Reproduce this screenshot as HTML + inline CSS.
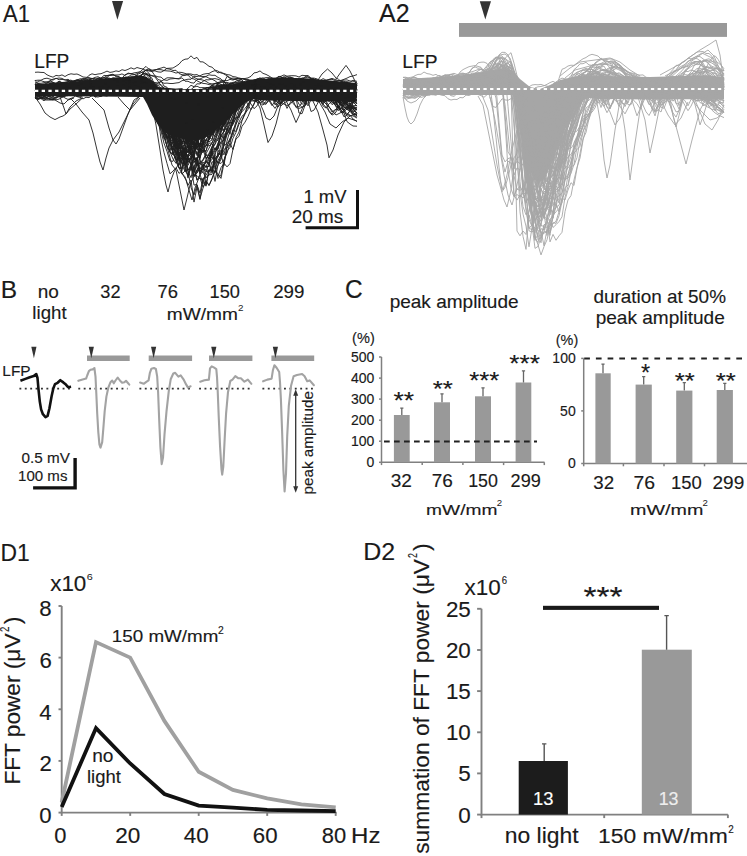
<!DOCTYPE html>
<html><head><meta charset="utf-8"><style>
html,body{margin:0;padding:0;background:#fff;}
svg{display:block;}
text{font-family:"Liberation Sans", sans-serif;}
</style></head><body>
<svg width="747" height="856" viewBox="0 0 747 856" font-family='"Liberation Sans", sans-serif'><rect width="747" height="856" fill="#fff"/><text x="3.09" y="21.60" font-size="24.78" fill="#1a1a1a" stroke="#1a1a1a" stroke-width="0.15" textLength="26.98" lengthAdjust="spacingAndGlyphs" >A1</text><polygon points="112,1.1 123.1,1.1 117.4,19.8" fill="#333"/><text x="34.27" y="67.80" font-size="19.71" fill="#1a1a1a" stroke="#1a1a1a" stroke-width="0.15" textLength="35.06" lengthAdjust="spacingAndGlyphs" >LFP</text><polygon points="35,84 60,83 90,80.5 120,77.5 140,75.5 146,76.5 152,81 158,87 180,89 210,89 230,85.5 250,80 280,77.5 310,78.5 330,80.5 356,83 356,101 330,101.5 300,101 265,100.5 253,99 246,102 238,109 230,117 222,125 214,132 205,138 196,141 186,140 176,137 166,133 158,125 152,115 147,104 143,97 100,96.5 35,96" fill="#1e1e1e"/><g fill="none" stroke="#1e1e1e" stroke-width="0.9" stroke-linejoin="round"><polyline points="35,88.3 38,90.1 41,90.0 44,90.1 47,89.4 50,89.5 53,87.9 56,87.9 59,88.5 62,86.0 65,87.0 68,83.7 71,84.0 74,81.7 77,82.4 80,82.2 83,82.0 86,84.7 89,85.4 92,84.3 95,83.6 98,83.0 101,82.3 104,83.7 107,82.4 110,82.7 113,82.1 116,82.4 119,82.6 122,85.0 125,84.6 128,85.6 131,84.9 134,84.0 137,83.8 140,83.3 143,83.5 146,83.3 149,87.3 152,93.2 155,101.8 158,110.5 161,123.3 164,131.9 167,135.0 170,147.9 173,150.6 176,141.6 179,160.6 182,161.3 185,165.7 188,158.8 191,162.7 194,160.7 197,165.8 200,156.3 203,150.3 206,151.7 209,137.6 212,135.6 215,125.0 218,131.1 221,122.7 224,115.6 227,108.4 230,102.6 233,97.4 236,93.8 239,91.9 242,91.2 245,90.5 248,90.0 251,88.9 254,88.1 257,89.4 260,89.1 263,87.7 266,87.5 269,90.1 272,95.0 275,100.5 278,99.0 281,94.7 284,87.1 287,88.7 290,88.6 293,88.8 296,89.3 299,88.8 302,86.4 305,85.0 308,85.5 311,83.0 314,82.9 317,83.9 320,83.3 323,85.6 326,91.3 329,94.7 332,97.3 335,99.7 338,101.6 341,103.8 344,107.3 347,109.4 350,111.3 353,114.8 357,117.2"/><polyline points="35,86.0 38,86.9 41,87.7 44,86.2 47,86.8 50,87.0 53,86.6 56,87.8 59,87.4 62,88.1 65,89.3 68,88.3 71,88.0 74,85.1 77,83.1 80,81.4 83,83.5 86,82.4 89,83.4 92,83.5 95,83.2 98,83.0 101,84.6 104,83.4 107,84.0 110,84.7 113,83.8 116,83.7 119,82.5 122,80.3 125,79.6 128,80.6 131,82.6 134,80.7 137,84.1 140,83.6 143,85.7 146,85.3 149,89.3 152,92.2 155,93.1 158,100.5 161,103.0 164,104.2 167,106.6 170,105.5 173,105.0 176,104.1 179,103.1 182,100.0 185,98.8 188,99.2 191,98.3 194,96.0 197,94.2 200,90.5 203,88.7 206,88.1 209,87.5 212,88.0 215,89.3 218,89.0 221,90.0 224,89.1 227,89.3 230,89.1 233,89.2 236,88.9 239,88.7 242,87.2 245,86.3 248,85.2 251,84.2 254,85.4 257,84.7 260,85.0 263,84.7 266,82.6 269,83.3 272,82.9 275,83.3 278,86.2 281,89.4 284,92.3 287,91.0 290,88.0 293,85.7 296,83.3 299,88.6 302,93.4 305,92.0 308,89.3 311,87.7 314,84.5 317,86.4 320,86.4 323,86.3 326,86.9 329,89.9 332,93.8 335,98.2 338,95.8 341,90.9 344,85.7 347,87.3 350,87.9 353,87.7 357,86.7"/><polyline points="35,91.6 38,93.8 41,92.9 44,92.6 47,92.3 50,92.9 53,91.7 56,89.7 59,89.1 62,87.9 65,88.5 68,87.5 71,87.4 74,87.3 77,87.5 80,84.4 83,84.2 86,83.6 89,84.5 92,83.4 95,84.8 98,86.6 101,87.3 104,87.8 107,87.3 110,84.3 113,82.5 116,81.5 119,81.2 122,80.7 125,79.7 128,80.8 131,81.9 134,82.1 137,82.1 140,81.7 143,82.8 146,81.5 149,82.9 152,87.8 155,96.1 158,104.5 161,113.6 164,119.0 167,129.2 170,124.3 173,138.4 176,138.3 179,149.0 182,146.1 185,145.2 188,152.7 191,147.2 194,145.8 197,141.4 200,149.3 203,150.7 206,150.6 209,143.1 212,143.1 215,135.1 218,128.8 221,128.1 224,125.9 227,117.4 230,112.8 233,108.4 236,104.9 239,97.4 242,94.8 245,90.9 248,88.4 251,86.5 254,87.5 257,87.9 260,88.5 263,88.2 266,86.8 269,86.7 272,86.3 275,84.0 278,83.3 281,82.9 284,80.8 287,81.6 290,81.7 293,84.6 296,87.1 299,88.3 302,87.8 305,88.7 308,88.2 311,87.9 314,87.5 317,84.6 320,85.7 323,84.8 326,86.7 329,90.8 332,95.2 335,97.4 338,96.2 341,94.0 344,92.3 347,92.9 350,93.2 353,96.2 357,96.3"/><polyline points="35,89.8 38,88.9 41,89.6 44,90.2 47,90.4 50,88.9 53,87.5 56,84.9 59,84.1 62,85.6 65,83.7 68,86.6 71,88.8 74,90.0 77,90.5 80,91.0 83,90.3 86,89.3 89,86.7 92,86.6 95,84.8 98,84.2 101,84.0 104,83.6 107,83.5 110,82.7 113,84.2 116,85.5 119,85.9 122,86.5 125,85.0 128,84.2 131,84.2 134,82.1 137,83.1 140,82.7 143,83.1 146,82.5 149,85.1 152,88.3 155,94.2 158,103.7 161,113.5 164,120.7 167,139.0 170,152.6 173,153.2 176,157.9 179,152.9 182,164.6 185,171.6 188,159.1 191,158.9 194,152.2 197,142.8 200,147.5 203,130.9 206,131.7 209,129.1 212,125.1 215,119.1 218,114.3 221,107.8 224,102.8 227,99.4 230,95.1 233,92.3 236,91.1 239,90.5 242,88.6 245,88.9 248,88.3 251,87.2 254,87.9 257,86.9 260,88.6 263,91.6 266,92.1 269,89.0 272,86.6 275,84.7 278,84.8 281,84.1 284,86.1 287,86.5 290,86.7 293,88.5 296,90.5 299,90.6 302,91.3 305,94.1 308,91.9 311,90.4 314,90.1 317,88.8 320,86.9 323,87.3 326,86.8 329,87.2 332,91.1 335,95.1 338,97.2 341,100.5 344,97.8 347,97.3 350,92.2 353,90.8 357,88.9"/><polyline points="35,89.8 38,91.4 41,92.1 44,93.9 47,95.8 50,97.3 53,97.7 56,97.4 59,94.8 62,96.0 65,94.0 68,92.7 71,91.3 74,91.2 77,92.0 80,92.4 83,91.0 86,92.3 89,92.9 92,89.0 95,91.3 98,91.9 101,93.2 104,95.1 107,93.2 110,93.4 113,93.6 116,92.0 119,91.6 122,91.8 125,90.7 128,90.9 131,87.6 134,87.4 137,84.7 140,85.6 143,85.3 146,84.1 149,88.5 152,90.8 155,94.7 158,99.9 161,100.6 164,104.2 167,109.8 170,113.3 173,119.1 176,116.5 179,120.9 182,121.0 185,119.9 188,122.7 191,118.2 194,117.9 197,117.8 200,116.3 203,114.4 206,108.5 209,103.7 212,99.1 215,98.7 218,97.0 221,96.5 224,97.2 227,97.8 230,95.7 233,94.4 236,94.1 239,92.0 242,92.4 245,93.1 248,93.1 251,92.5 254,93.5 257,91.9 260,90.8 263,91.8 266,91.9 269,91.2 272,91.8 275,91.3 278,90.2 281,92.3 284,93.6 287,94.8 290,94.4 293,94.5 296,93.0 299,91.1 302,88.6 305,89.2 308,88.1 311,89.6 314,91.6 317,91.1 320,91.9 323,93.9 326,94.1 329,95.9 332,97.8 335,99.4 338,97.7 341,98.6 344,98.3 347,98.3 350,98.4 353,98.5 357,99.5"/><polyline points="35,98.3 38,98.5 41,98.2 44,98.3 47,99.3 50,98.6 53,99.9 56,97.5 59,96.6 62,94.1 65,93.3 68,95.2 71,94.6 74,95.2 77,96.5 80,97.2 83,98.9 86,97.3 89,97.6 92,95.5 95,95.8 98,95.5 101,95.8 104,93.5 107,93.9 110,93.1 113,91.4 116,91.4 119,91.1 122,90.0 125,92.6 128,93.2 131,92.8 134,92.0 137,93.8 140,92.9 143,93.7 146,94.0 149,94.3 152,98.9 155,104.4 158,108.8 161,117.2 164,126.6 167,132.4 170,141.7 173,143.1 176,161.5 179,168.1 182,168.9 185,162.1 188,171.0 191,187.6 194,195.0 197,185.0 200,193.1 203,178.0 206,177.8 209,174.9 212,174.4 215,157.0 218,163.3 221,157.9 224,141.0 227,133.9 230,130.1 233,121.8 236,110.7 239,109.6 242,103.4 245,102.0 248,99.1 251,99.3 254,100.3 257,100.8 260,99.0 263,98.0 266,96.2 269,96.2 272,95.0 275,94.0 278,93.0 281,92.5 284,91.5 287,91.7 290,92.8 293,92.9 296,98.1 299,104.2 302,107.3 305,105.7 308,102.6 311,97.9 314,94.8 317,92.0 320,91.6 323,92.5 326,93.2 329,94.0 332,97.3 335,98.6 338,99.2 341,99.8 344,99.6 347,97.7 350,98.1 353,100.4 357,101.0"/><polyline points="35,97.9 38,98.6 41,98.7 44,100.8 47,98.1 50,99.4 53,98.8 56,97.2 59,96.7 62,96.2 65,95.3 68,95.3 71,95.6 74,94.0 77,96.6 80,96.9 83,95.6 86,95.1 89,93.6 92,94.7 95,94.6 98,94.5 101,95.0 104,92.8 107,92.4 110,90.8 113,92.3 116,92.5 119,92.0 122,91.2 125,91.9 128,89.0 131,89.1 134,90.3 137,92.9 140,94.3 143,93.3 146,92.3 149,93.9 152,99.3 155,106.7 158,118.5 161,129.8 164,137.3 167,146.1 170,151.8 173,159.1 176,163.3 179,152.4 182,153.2 185,147.5 188,160.7 191,157.3 194,152.2 197,141.6 200,144.8 203,142.2 206,140.2 209,134.9 212,132.6 215,124.7 218,122.3 221,116.3 224,109.6 227,105.0 230,101.0 233,97.1 236,93.1 239,92.5 242,92.2 245,93.8 248,94.0 251,94.5 254,95.1 257,94.3 260,92.9 263,91.9 266,91.8 269,91.1 272,91.5 275,89.4 278,90.2 281,93.1 284,96.9 287,100.4 290,100.1 293,97.8 296,93.3 299,92.2 302,96.9 305,98.8 308,94.8 311,93.8 314,91.5 317,94.0 320,94.0 323,95.0 326,97.7 329,99.4 332,101.8 335,103.4 338,105.8 341,110.0 344,113.2 347,121.6 350,124.0 353,126.0 357,126.2"/><polyline points="35,87.0 38,89.3 41,90.6 44,90.9 47,93.5 50,93.3 53,94.0 56,94.1 59,93.0 62,93.8 65,91.6 68,89.7 71,90.2 74,87.7 77,86.3 80,83.3 83,85.5 86,85.1 89,85.3 92,85.8 95,86.7 98,85.4 101,85.5 104,83.7 107,83.7 110,84.9 113,85.2 116,84.7 119,86.6 122,86.4 125,86.1 128,87.0 131,86.5 134,85.8 137,86.2 140,88.2 143,86.0 146,87.4 149,89.8 152,93.0 155,94.9 158,100.0 161,101.5 164,104.0 167,106.8 170,109.7 173,110.8 176,118.4 179,117.0 182,121.9 185,126.7 188,130.8 191,126.4 194,138.5 197,137.5 200,134.6 203,132.1 206,129.9 209,129.9 212,134.8 215,130.5 218,125.1 221,126.4 224,131.7 227,124.1 230,122.1 233,122.9 236,117.9 239,115.7 242,111.8 245,108.4 248,104.6 251,100.3 254,97.8 257,93.3 260,89.8 263,90.4 266,87.7 269,87.8 272,89.1 275,93.0 278,94.9 281,98.7 284,91.7 287,85.2 290,86.3 293,87.6 296,87.9 299,88.1 302,87.9 305,87.1 308,88.4 311,89.7 314,92.7 317,95.6 320,98.7 323,99.8 326,97.1 329,93.2 332,92.2 335,91.5 338,96.7 341,105.6 344,105.7 347,100.6 350,94.9 353,90.2 357,91.2"/><polyline points="35,88.9 38,89.3 41,88.3 44,88.1 47,88.3 50,87.2 53,86.9 56,83.8 59,83.5 62,82.3 65,83.5 68,83.7 71,84.7 74,84.6 77,85.5 80,85.7 83,86.8 86,87.0 89,87.1 92,87.1 95,86.6 98,84.7 101,83.7 104,82.1 107,80.2 110,80.6 113,82.6 116,82.0 119,81.2 122,81.6 125,80.1 128,80.4 131,81.1 134,81.2 137,84.1 140,82.9 143,82.9 146,81.9 149,83.4 152,83.9 155,88.7 158,95.1 161,102.6 164,107.8 167,115.1 170,123.2 173,126.5 176,126.4 179,129.3 182,133.9 185,129.8 188,128.4 191,124.1 194,121.6 197,116.1 200,112.7 203,105.0 206,101.0 209,94.8 212,90.5 215,88.9 218,89.5 221,86.7 224,84.3 227,85.1 230,84.7 233,83.9 236,83.8 239,84.5 242,86.5 245,87.1 248,88.4 251,89.7 254,90.5 257,88.4 260,88.7 263,87.3 266,86.0 269,86.5 272,89.0 275,91.2 278,89.8 281,88.8 284,88.5 287,84.3 290,82.3 293,83.1 296,83.0 299,82.8 302,81.5 305,83.3 308,82.3 311,83.1 314,84.7 317,86.3 320,88.3 323,89.4 326,89.5 329,90.4 332,89.0 335,88.9 338,86.6 341,86.0 344,87.6 347,86.2 350,86.9 353,87.1 357,86.8"/><polyline points="35,91.1 38,90.8 41,90.1 44,90.4 47,89.1 50,88.0 53,87.3 56,88.9 59,88.8 62,90.0 65,92.4 68,93.0 71,92.1 74,89.9 77,89.5 80,88.9 83,87.5 86,87.9 89,86.1 92,88.0 95,87.7 98,89.3 101,87.9 104,87.9 107,85.7 110,84.6 113,84.9 116,85.8 119,86.4 122,88.3 125,87.9 128,85.9 131,83.5 134,83.0 137,82.4 140,84.7 143,85.3 146,86.8 149,88.6 152,89.2 155,91.5 158,92.7 161,94.2 164,94.6 167,95.1 170,96.5 173,99.1 176,99.3 179,98.1 182,98.6 185,99.2 188,100.3 191,105.4 194,104.3 197,107.1 200,110.4 203,108.9 206,109.1 209,109.9 212,110.7 215,107.7 218,105.2 221,107.7 224,107.2 227,104.2 230,100.9 233,102.5 236,98.9 239,97.4 242,94.9 245,92.1 248,89.9 251,87.9 254,87.3 257,85.4 260,84.5 263,85.1 266,85.3 269,85.2 272,93.6 275,102.2 278,107.1 281,103.0 284,95.5 287,89.2 290,86.7 293,83.9 296,85.7 299,87.3 302,86.2 305,86.3 308,85.4 311,85.9 314,83.2 317,84.1 320,85.5 323,87.0 326,88.9 329,92.3 332,93.9 335,96.0 338,98.6 341,101.6 344,104.6 347,107.7 350,109.6 353,112.6 357,115.7"/><polyline points="35,90.7 38,89.3 41,89.9 44,89.7 47,88.9 50,89.6 53,90.1 56,91.4 59,88.5 62,88.5 65,85.6 68,85.0 71,85.1 74,83.9 77,84.9 80,84.8 83,87.3 86,86.4 89,86.3 92,84.6 95,84.8 98,86.9 101,86.9 104,87.4 107,87.8 110,86.0 113,86.4 116,85.0 119,85.0 122,84.6 125,85.8 128,85.3 131,86.2 134,85.3 137,83.9 140,83.0 143,83.4 146,81.8 149,86.3 152,88.2 155,91.3 158,96.3 161,98.9 164,103.8 167,106.3 170,111.9 173,113.4 176,115.7 179,117.2 182,121.1 185,124.1 188,124.1 191,121.4 194,127.1 197,123.3 200,111.8 203,116.0 206,112.1 209,110.5 212,102.9 215,98.0 218,95.7 221,94.2 224,93.2 227,92.5 230,92.0 233,91.0 236,89.9 239,88.9 242,88.1 245,89.0 248,88.2 251,90.8 254,90.7 257,95.2 260,96.6 263,98.5 266,99.7 269,95.3 272,92.3 275,87.6 278,88.4 281,89.3 284,89.9 287,92.6 290,89.4 293,85.8 296,86.6 299,86.4 302,86.9 305,87.5 308,88.6 311,87.9 314,88.4 317,90.7 320,90.1 323,92.1 326,91.7 329,91.8 332,91.9 335,90.9 338,92.2 341,92.4 344,93.1 347,92.8 350,92.0 353,90.4 357,90.3"/><polyline points="35,85.7 38,83.6 41,84.5 44,86.2 47,88.7 50,89.5 53,90.7 56,91.1 59,92.7 62,92.0 65,90.5 68,88.5 71,87.6 74,87.3 77,85.5 80,86.2 83,86.1 86,86.8 89,87.9 92,88.9 95,88.8 98,89.6 101,91.2 104,87.8 107,87.0 110,87.0 113,85.5 116,84.8 119,84.4 122,86.0 125,86.4 128,86.9 131,86.5 134,87.5 137,85.6 140,85.5 143,84.1 146,83.8 149,85.7 152,88.3 155,89.1 158,93.1 161,92.4 164,92.9 167,93.7 170,94.0 173,95.3 176,96.0 179,95.5 182,96.1 185,98.3 188,98.1 191,97.8 194,97.4 197,95.8 200,96.2 203,95.2 206,96.1 209,93.3 212,93.9 215,93.3 218,92.7 221,91.1 224,89.9 227,89.1 230,87.5 233,87.2 236,86.8 239,87.7 242,88.8 245,89.8 248,90.3 251,90.2 254,89.4 257,89.1 260,87.6 263,87.2 266,86.7 269,85.7 272,84.5 275,84.8 278,84.1 281,83.6 284,84.1 287,87.2 290,85.5 293,85.9 296,86.0 299,84.9 302,85.9 305,88.0 308,88.2 311,88.4 314,88.3 317,88.1 320,88.8 323,88.2 326,88.6 329,89.3 332,90.1 335,90.1 338,90.8 341,89.1 344,91.3 347,91.5 350,89.9 353,87.8 357,86.9"/><polyline points="35,93.8 38,93.6 41,92.4 44,91.7 47,91.0 50,89.6 53,89.6 56,90.0 59,90.0 62,89.5 65,89.1 68,90.5 71,90.8 74,91.8 77,90.6 80,90.1 83,90.2 86,88.8 89,88.8 92,89.2 95,87.5 98,85.2 101,83.9 104,83.1 107,85.5 110,86.9 113,88.5 116,88.6 119,89.0 122,88.3 125,87.7 128,87.6 131,85.9 134,84.1 137,84.6 140,84.4 143,85.2 146,86.2 149,87.7 152,88.5 155,92.8 158,96.2 161,103.3 164,106.7 167,114.9 170,125.5 173,130.7 176,141.1 179,155.4 182,174.1 185,170.9 188,174.8 191,162.6 194,172.8 197,163.4 200,174.5 203,165.3 206,162.8 209,157.4 212,149.0 215,139.1 218,140.6 221,127.8 224,121.7 227,116.0 230,109.9 233,102.0 236,96.7 239,93.0 242,89.6 245,91.2 248,91.3 251,91.5 254,91.4 257,90.7 260,90.1 263,89.0 266,89.1 269,89.1 272,91.4 275,98.5 278,103.2 281,103.6 284,100.2 287,94.6 290,89.4 293,88.8 296,88.5 299,86.3 302,86.5 305,85.2 308,86.0 311,88.6 314,94.2 317,97.6 320,100.5 323,101.6 326,99.1 329,98.7 332,97.9 335,97.8 338,98.1 341,100.7 344,102.8 347,104.4 350,107.5 353,108.7 357,113.6"/><polyline points="35,86.8 38,87.6 41,86.3 44,86.7 47,87.2 50,89.6 53,88.2 56,88.7 59,88.7 62,90.6 65,88.1 68,87.4 71,86.5 74,84.1 77,85.4 80,85.2 83,84.6 86,85.3 89,85.4 92,85.7 95,87.3 98,87.4 101,86.8 104,86.5 107,86.3 110,87.5 113,86.8 116,88.0 119,88.4 122,86.7 125,83.5 128,81.9 131,82.2 134,82.5 137,80.8 140,82.2 143,83.2 146,83.8 149,83.5 152,85.7 155,91.0 158,104.4 161,113.4 164,129.2 167,132.6 170,131.7 173,142.3 176,142.4 179,141.5 182,136.9 185,131.4 188,137.5 191,126.2 194,127.3 197,119.5 200,113.9 203,116.3 206,104.2 209,103.1 212,102.4 215,95.7 218,93.0 221,91.4 224,89.2 227,88.9 230,88.9 233,89.0 236,90.0 239,90.7 242,89.4 245,88.8 248,87.7 251,87.4 254,88.3 257,87.8 260,87.0 263,87.2 266,87.7 269,88.4 272,86.6 275,86.5 278,84.5 281,84.7 284,85.6 287,85.8 290,84.4 293,84.3 296,84.8 299,83.3 302,82.6 305,82.8 308,84.9 311,89.7 314,93.7 317,96.3 320,94.1 323,92.0 326,89.3 329,88.0 332,90.3 335,89.6 338,93.2 341,95.3 344,97.4 347,99.9 350,101.1 353,102.6 357,103.0"/><polyline points="35,95.3 38,95.6 41,94.2 44,95.0 47,94.7 50,94.6 53,94.1 56,93.4 59,92.7 62,91.4 65,89.9 68,88.2 71,87.2 74,88.0 77,89.4 80,89.3 83,91.2 86,91.5 89,91.9 92,91.9 95,91.9 98,91.1 101,91.7 104,90.6 107,88.1 110,88.2 113,87.1 116,89.3 119,88.4 122,89.1 125,89.9 128,89.6 131,89.6 134,90.3 137,88.8 140,88.5 143,88.1 146,85.7 149,88.4 152,89.2 155,94.0 158,99.4 161,106.7 164,116.2 167,123.9 170,133.9 173,137.9 176,153.9 179,161.5 182,157.9 185,164.8 188,176.5 191,167.2 194,176.5 197,172.9 200,168.2 203,170.0 206,160.1 209,164.4 212,151.4 215,169.4 218,160.5 221,155.0 224,145.2 227,143.6 230,139.0 233,129.9 236,124.0 239,112.5 242,108.5 245,100.8 248,96.4 251,93.4 254,91.6 257,90.0 260,90.5 263,92.1 266,92.1 269,90.2 272,89.2 275,90.1 278,88.4 281,90.2 284,91.1 287,90.3 290,90.9 293,90.7 296,89.6 299,89.3 302,89.9 305,91.6 308,91.5 311,92.3 314,92.5 317,91.8 320,93.8 323,90.8 326,91.9 329,92.6 332,90.8 335,99.2 338,107.8 341,107.9 344,109.6 347,107.6 350,107.6 353,102.8 357,99.1"/><polyline points="35,90.4 38,92.0 41,91.4 44,91.1 47,91.2 50,90.5 53,90.5 56,89.2 59,91.5 62,91.2 65,91.4 68,91.1 71,91.2 74,89.5 77,87.3 80,86.8 83,87.6 86,87.5 89,88.9 92,86.4 95,85.7 98,86.6 101,87.1 104,87.9 107,89.1 110,90.8 113,89.4 116,89.6 119,89.0 122,90.3 125,90.4 128,88.9 131,89.0 134,87.6 137,88.2 140,87.7 143,87.3 146,88.4 149,90.1 152,92.0 155,97.1 158,101.8 161,105.4 164,104.5 167,110.2 170,114.1 173,118.0 176,121.0 179,129.8 182,124.8 185,123.0 188,123.0 191,120.5 194,115.9 197,111.1 200,107.2 203,104.1 206,100.3 209,99.0 212,96.5 215,96.3 218,96.5 221,94.0 224,93.7 227,92.7 230,95.2 233,94.4 236,93.4 239,92.6 242,91.5 245,91.2 248,92.1 251,91.3 254,92.5 257,90.5 260,88.9 263,89.0 266,87.0 269,86.7 272,85.7 275,84.6 278,86.4 281,85.0 284,87.0 287,85.8 290,86.3 293,91.4 296,95.9 299,99.1 302,101.2 305,101.2 308,93.6 311,88.4 314,86.4 317,86.4 320,86.7 323,85.1 326,86.1 329,87.2 332,87.0 335,88.6 338,90.3 341,91.0 344,94.2 347,97.4 350,104.1 353,109.0 357,107.0"/><polyline points="35,86.5 38,88.3 41,86.4 44,85.6 47,87.1 50,86.0 53,85.2 56,86.5 59,86.3 62,86.7 65,85.9 68,83.8 71,83.9 74,81.9 77,80.3 80,80.1 83,81.0 86,80.2 89,80.7 92,81.2 95,80.5 98,78.7 101,79.4 104,79.1 107,78.6 110,79.1 113,78.4 116,79.4 119,80.7 122,79.8 125,81.3 128,80.9 131,79.6 134,80.0 137,79.2 140,78.3 143,80.4 146,80.7 149,83.3 152,85.6 155,90.1 158,95.6 161,98.7 164,105.3 167,110.3 170,112.2 173,120.2 176,120.7 179,127.0 182,132.4 185,134.9 188,135.0 191,132.0 194,137.4 197,127.8 200,118.8 203,115.5 206,112.5 209,110.1 212,106.1 215,102.7 218,101.8 221,95.9 224,90.3 227,86.9 230,83.3 233,82.3 236,82.1 239,82.7 242,82.5 245,83.6 248,82.9 251,82.0 254,81.4 257,82.9 260,80.2 263,82.1 266,83.6 269,83.2 272,85.0 275,85.0 278,84.1 281,84.7 284,83.2 287,82.2 290,83.5 293,84.7 296,85.9 299,88.0 302,92.3 305,88.7 308,87.4 311,85.1 314,83.8 317,82.1 320,83.6 323,86.6 326,90.5 329,95.4 332,98.6 335,96.5 338,91.9 341,88.9 344,87.6 347,90.6 350,92.4 353,89.5 357,83.7"/><polyline points="35,96.1 38,94.4 41,94.4 44,94.0 47,93.3 50,95.0 53,95.3 56,95.8 59,94.0 62,93.4 65,92.1 68,92.1 71,91.8 74,92.2 77,92.1 80,91.4 83,91.3 86,91.2 89,90.8 92,90.8 95,86.7 98,86.9 101,86.0 104,86.0 107,84.8 110,86.6 113,87.7 116,87.4 119,86.8 122,88.0 125,87.8 128,89.8 131,89.2 134,90.9 137,88.7 140,86.2 143,84.7 146,83.7 149,86.7 152,90.1 155,91.9 158,95.7 161,95.7 164,96.6 167,99.0 170,97.0 173,99.3 176,99.3 179,98.1 182,99.0 185,99.9 188,103.8 191,104.4 194,106.3 197,110.0 200,108.9 203,111.3 206,109.7 209,111.7 212,109.9 215,111.4 218,108.1 221,107.7 224,107.7 227,107.2 230,104.1 233,103.8 236,99.6 239,98.3 242,97.6 245,95.1 248,95.0 251,93.3 254,94.6 257,93.0 260,92.5 263,92.9 266,93.6 269,94.3 272,94.4 275,94.9 278,94.4 281,94.3 284,94.3 287,93.5 290,93.2 293,92.6 296,91.5 299,90.5 302,97.1 305,104.8 308,98.2 311,89.5 314,90.0 317,91.8 320,92.0 323,92.0 326,94.1 329,94.0 332,92.9 335,94.8 338,95.8 341,96.8 344,101.6 347,100.5 350,101.7 353,98.6 357,96.5"/><polyline points="35,84.2 38,85.5 41,87.1 44,87.9 47,87.0 50,86.7 53,86.5 56,86.0 59,84.9 62,83.3 65,83.5 68,83.7 71,82.7 74,82.5 77,84.1 80,84.5 83,85.2 86,84.7 89,84.2 92,84.3 95,83.5 98,82.9 101,82.6 104,82.2 107,83.5 110,82.0 113,83.2 116,83.4 119,84.9 122,84.1 125,83.2 128,83.2 131,82.4 134,81.7 137,83.5 140,83.2 143,84.1 146,83.6 149,84.4 152,89.9 155,98.3 158,109.4 161,120.1 164,133.9 167,139.9 170,152.1 173,154.8 176,146.3 179,159.7 182,154.4 185,151.3 188,155.9 191,146.3 194,147.8 197,144.3 200,135.9 203,122.9 206,116.9 209,110.8 212,102.3 215,96.4 218,91.0 221,87.5 224,87.5 227,86.0 230,87.0 233,87.5 236,86.7 239,86.1 242,85.8 245,84.4 248,83.9 251,84.7 254,85.8 257,86.4 260,87.0 263,86.7 266,85.7 269,84.5 272,82.1 275,83.3 278,83.4 281,82.7 284,82.5 287,82.6 290,83.4 293,81.4 296,83.2 299,84.9 302,86.8 305,89.6 308,90.9 311,89.7 314,90.5 317,91.4 320,90.7 323,90.9 326,89.0 329,87.2 332,85.7 335,85.9 338,84.2 341,84.1 344,86.6 347,86.5 350,87.4 353,86.8 357,88.2"/><polyline points="35,88.0 38,88.5 41,87.7 44,87.9 47,88.1 50,88.4 53,88.5 56,91.2 59,90.6 62,92.2 65,92.2 68,93.4 71,91.4 74,94.6 77,93.0 80,91.6 83,91.7 86,92.0 89,89.6 92,87.4 95,87.3 98,88.5 101,86.8 104,87.9 107,88.0 110,89.4 113,87.3 116,88.5 119,87.6 122,87.9 125,89.1 128,87.9 131,84.8 134,85.1 137,84.0 140,83.1 143,84.2 146,85.2 149,86.9 152,88.8 155,92.5 158,96.6 161,100.9 164,106.6 167,110.6 170,122.4 173,126.1 176,133.9 179,142.5 182,147.5 185,162.8 188,156.1 191,165.2 194,158.0 197,163.1 200,163.1 203,162.8 206,161.5 209,164.8 212,171.1 215,160.0 218,156.2 221,150.1 224,154.9 227,141.1 230,130.5 233,122.8 236,112.3 239,106.7 242,100.4 245,93.3 248,89.7 251,90.1 254,89.4 257,89.4 260,88.7 263,89.0 266,89.6 269,88.7 272,87.7 275,87.3 278,89.7 281,90.6 284,94.7 287,97.7 290,93.5 293,89.4 296,86.3 299,86.9 302,87.6 305,91.8 308,100.8 311,111.5 314,110.1 317,104.6 320,98.4 323,93.4 326,88.3 329,89.5 332,88.1 335,89.0 338,89.2 341,87.2 344,88.7 347,89.1 350,90.1 353,91.6 357,91.7"/><polyline points="35,93.6 38,93.7 41,92.3 44,92.2 47,91.1 50,89.3 53,89.5 56,89.8 59,88.8 62,90.2 65,91.1 68,91.4 71,91.6 74,88.8 77,89.2 80,88.4 83,87.1 86,86.1 89,83.0 92,83.0 95,82.9 98,84.8 101,84.0 104,85.8 107,85.1 110,84.1 113,81.6 116,82.2 119,83.3 122,82.5 125,84.2 128,85.1 131,86.7 134,87.3 137,87.8 140,87.9 143,88.3 146,88.2 149,90.2 152,90.5 155,92.7 158,92.7 161,95.4 164,97.1 167,100.8 170,102.0 173,103.9 176,105.7 179,105.1 182,105.7 185,106.0 188,107.6 191,105.8 194,106.4 197,113.4 200,116.2 203,113.4 206,114.0 209,116.5 212,114.6 215,112.1 218,108.3 221,103.7 224,103.2 227,99.8 230,98.2 233,96.7 236,94.7 239,93.5 242,92.0 245,92.6 248,91.8 251,89.9 254,90.9 257,88.6 260,89.0 263,88.1 266,88.3 269,89.8 272,88.3 275,87.9 278,87.5 281,86.9 284,87.3 287,86.9 290,89.5 293,93.9 296,90.9 299,90.1 302,89.2 305,86.5 308,84.9 311,84.3 314,83.7 317,83.3 320,83.8 323,85.0 326,86.2 329,87.4 332,89.4 335,92.6 338,92.7 341,94.5 344,94.7 347,93.6 350,93.0 353,93.2 357,91.3"/><polyline points="35,95.7 38,95.0 41,95.0 44,94.1 47,92.5 50,91.6 53,89.5 56,89.2 59,87.2 62,87.8 65,87.4 68,87.5 71,86.7 74,88.9 77,86.5 80,86.9 83,86.8 86,89.0 89,88.3 92,89.5 95,87.8 98,87.7 101,86.3 104,86.7 107,85.9 110,85.6 113,86.5 116,85.6 119,85.4 122,86.4 125,84.5 128,86.5 131,85.9 134,85.3 137,85.4 140,84.9 143,83.5 146,83.6 149,85.8 152,89.0 155,95.0 158,103.7 161,109.5 164,116.0 167,123.8 170,133.2 173,141.5 176,141.1 179,137.9 182,141.4 185,141.8 188,142.6 191,136.2 194,129.8 197,134.0 200,135.3 203,131.3 206,121.7 209,124.3 212,116.2 215,120.5 218,112.7 221,107.0 224,105.0 227,99.5 230,97.4 233,94.5 236,91.3 239,88.6 242,86.2 245,87.8 248,88.2 251,88.4 254,89.3 257,90.5 260,89.2 263,89.0 266,86.9 269,86.3 272,87.1 275,86.5 278,87.6 281,87.8 284,85.6 287,86.1 290,84.8 293,86.3 296,87.7 299,89.4 302,91.3 305,91.8 308,92.9 311,92.8 314,94.0 317,93.0 320,90.6 323,91.7 326,91.5 329,91.5 332,92.9 335,94.6 338,95.6 341,97.9 344,100.3 347,103.6 350,109.4 353,114.0 357,115.2"/><polyline points="35,94.0 38,93.8 41,95.3 44,95.9 47,95.4 50,95.3 53,95.5 56,94.9 59,92.9 62,95.3 65,94.7 68,95.0 71,95.1 74,93.6 77,93.2 80,93.0 83,92.6 86,92.4 89,92.9 92,94.0 95,96.7 98,97.0 101,96.1 104,94.0 107,93.0 110,90.2 113,90.8 116,89.0 119,88.1 122,88.2 125,90.2 128,89.4 131,87.6 134,88.4 137,87.7 140,87.6 143,89.4 146,91.2 149,91.9 152,94.3 155,104.9 158,116.9 161,138.8 164,152.5 167,163.4 170,173.8 173,171.1 176,167.7 179,173.4 182,170.9 185,152.2 188,157.1 191,148.9 194,144.3 197,134.0 200,128.4 203,118.2 206,109.2 209,102.2 212,98.9 215,95.7 218,94.4 221,96.3 224,96.8 227,97.0 230,96.1 233,98.7 236,98.1 239,96.8 242,93.8 245,92.6 248,93.4 251,92.5 254,91.6 257,90.3 260,89.8 263,88.6 266,88.6 269,88.7 272,90.3 275,90.5 278,92.0 281,92.1 284,91.1 287,92.8 290,90.8 293,92.0 296,92.6 299,92.9 302,90.9 305,93.7 308,94.1 311,94.6 314,92.4 317,93.6 320,94.4 323,94.4 326,95.9 329,94.2 332,95.2 335,94.5 338,93.0 341,94.0 344,98.1 347,103.7 350,110.0 353,114.5 357,114.5"/><polyline points="35,96.6 38,97.7 41,97.6 44,97.7 47,97.6 50,99.4 53,98.7 56,99.8 59,99.1 62,97.4 65,95.8 68,94.2 71,94.5 74,91.5 77,90.5 80,90.8 83,90.7 86,92.3 89,92.2 92,93.5 95,97.2 98,95.2 101,95.2 104,95.6 107,96.1 110,94.3 113,94.5 116,93.1 119,92.7 122,92.0 125,92.0 128,92.7 131,92.7 134,95.6 137,94.3 140,94.8 143,95.9 146,93.8 149,95.3 152,95.8 155,98.8 158,102.0 161,105.0 164,109.3 167,112.4 170,116.4 173,120.8 176,130.1 179,139.2 182,145.3 185,155.0 188,151.3 191,145.1 194,158.6 197,159.2 200,151.2 203,150.1 206,157.8 209,157.9 212,146.6 215,144.7 218,137.6 221,130.8 224,124.1 227,120.5 230,113.2 233,107.0 236,99.0 239,97.1 242,94.6 245,93.9 248,94.8 251,94.6 254,94.2 257,94.8 260,96.1 263,95.7 266,96.4 269,97.6 272,97.2 275,98.6 278,99.8 281,102.3 284,104.1 287,105.5 290,104.5 293,100.6 296,100.6 299,99.3 302,98.7 305,99.1 308,100.2 311,99.6 314,100.0 317,100.6 320,100.7 323,104.0 326,107.3 329,110.7 332,114.0 335,110.3 338,107.0 341,101.1 344,97.9 347,96.8 350,95.8 353,96.4 357,96.2"/><polyline points="35,86.8 38,86.6 41,87.9 44,88.1 47,88.9 50,88.7 53,88.9 56,89.7 59,90.2 62,89.6 65,88.6 68,87.4 71,86.5 74,85.8 77,86.0 80,85.8 83,86.0 86,86.4 89,87.1 92,88.6 95,89.2 98,88.7 101,89.2 104,87.7 107,86.2 110,84.4 113,83.2 116,82.2 119,81.3 122,83.0 125,83.4 128,81.8 131,83.1 134,83.1 137,83.7 140,82.5 143,82.3 146,82.7 149,84.0 152,90.1 155,96.3 158,100.3 161,104.0 164,107.9 167,113.1 170,119.0 173,119.4 176,119.2 179,121.2 182,126.0 185,131.5 188,120.6 191,112.4 194,113.5 197,106.3 200,100.2 203,93.6 206,87.8 209,87.3 212,85.9 215,83.7 218,83.4 221,84.4 224,85.7 227,87.3 230,88.5 233,89.6 236,91.8 239,91.9 242,90.0 245,88.9 248,90.2 251,90.9 254,91.4 257,88.3 260,83.8 263,83.6 266,84.0 269,83.8 272,84.9 275,85.5 278,82.5 281,83.1 284,83.8 287,81.5 290,83.1 293,83.3 296,85.6 299,85.1 302,86.2 305,87.1 308,87.0 311,86.3 314,85.8 317,86.6 320,87.8 323,94.6 326,99.6 329,101.2 332,97.4 335,90.3 338,83.8 341,83.3 344,83.6 347,83.4 350,85.9 353,84.9 357,85.9"/><polyline points="35,85.4 38,86.0 41,85.6 44,86.8 47,89.2 50,90.5 53,89.4 56,89.5 59,89.5 62,88.2 65,87.8 68,86.5 71,89.3 74,89.0 77,88.3 80,86.9 83,85.0 86,84.1 89,83.0 92,83.2 95,82.0 98,84.8 101,85.2 104,87.3 107,86.4 110,87.1 113,86.7 116,84.1 119,81.5 122,81.1 125,81.2 128,79.5 131,79.0 134,80.1 137,78.9 140,79.5 143,78.4 146,78.5 149,82.1 152,88.3 155,94.3 158,103.8 161,108.7 164,113.4 167,125.9 170,126.5 173,139.9 176,140.8 179,145.9 182,146.5 185,152.6 188,148.8 191,147.2 194,148.6 197,142.4 200,143.5 203,139.1 206,134.6 209,129.2 212,126.2 215,127.6 218,118.5 221,113.9 224,109.4 227,106.5 230,102.5 233,98.9 236,96.1 239,94.2 242,93.6 245,98.0 248,105.3 251,109.7 254,104.5 257,96.6 260,88.8 263,82.2 266,81.9 269,81.3 272,83.6 275,81.2 278,81.4 281,81.6 284,79.9 287,80.7 290,81.4 293,80.7 296,79.7 299,79.3 302,80.2 305,80.1 308,81.2 311,85.8 314,89.6 317,96.2 320,99.8 323,95.0 326,91.2 329,86.9 332,86.3 335,86.0 338,86.8 341,87.7 344,89.7 347,90.2 350,90.0 353,88.7 357,87.0"/><polyline points="35,93.9 38,94.4 41,93.7 44,93.5 47,93.9 50,92.3 53,91.2 56,92.3 59,92.3 62,91.0 65,90.6 68,89.3 71,89.3 74,90.0 77,90.1 80,90.3 83,90.6 86,90.1 89,91.6 92,91.9 95,92.6 98,93.0 101,91.7 104,91.5 107,89.7 110,91.0 113,90.5 116,90.7 119,89.9 122,89.2 125,89.6 128,88.1 131,89.1 134,89.3 137,87.6 140,86.8 143,87.2 146,86.5 149,88.0 152,89.0 155,89.3 158,91.8 161,94.6 164,97.6 167,101.9 170,107.8 173,114.9 176,119.0 179,126.8 182,130.9 185,137.2 188,135.6 191,140.8 194,148.2 197,139.6 200,146.8 203,144.4 206,139.8 209,139.8 212,132.6 215,132.9 218,127.0 221,123.5 224,125.3 227,117.9 230,110.3 233,111.0 236,105.5 239,96.1 242,96.7 245,96.1 248,93.2 251,91.3 254,92.3 257,91.4 260,90.2 263,91.2 266,93.3 269,99.2 272,104.2 275,108.4 278,103.8 281,98.1 284,94.6 287,89.5 290,90.0 293,91.6 296,91.2 299,91.6 302,91.0 305,90.1 308,89.9 311,87.9 314,88.4 317,89.4 320,88.7 323,89.6 326,92.6 329,94.8 332,96.0 335,98.5 338,102.0 341,104.2 344,105.7 347,108.8 350,110.6 353,112.2 357,116.2"/><polyline points="35,93.2 38,93.1 41,92.6 44,94.5 47,94.7 50,94.9 53,96.9 56,94.1 59,95.5 62,96.3 65,95.7 68,95.7 71,93.9 74,94.2 77,95.4 80,94.6 83,95.4 86,93.5 89,92.5 92,92.0 95,90.9 98,90.8 101,89.9 104,90.6 107,90.9 110,91.9 113,90.9 116,90.1 119,89.9 122,88.0 125,86.2 128,86.7 131,86.8 134,89.9 137,87.7 140,89.7 143,87.5 146,88.2 149,90.5 152,95.3 155,101.3 158,107.3 161,109.0 164,115.8 167,119.0 170,124.6 173,126.9 176,133.5 179,134.1 182,136.0 185,137.6 188,146.3 191,146.5 194,155.4 197,161.6 200,144.1 203,146.6 206,154.6 209,159.0 212,151.6 215,148.5 218,146.7 221,142.2 224,140.2 227,132.5 230,121.6 233,115.3 236,110.7 239,103.2 242,99.8 245,95.6 248,95.4 251,96.0 254,95.4 257,92.9 260,92.6 263,91.0 266,91.4 269,91.7 272,88.7 275,88.3 278,88.0 281,88.4 284,89.0 287,90.2 290,92.2 293,91.6 296,92.3 299,93.1 302,95.8 305,96.6 308,94.9 311,94.7 314,95.2 317,94.7 320,93.7 323,92.8 326,93.3 329,93.7 332,93.9 335,96.4 338,95.4 341,95.1 344,95.7 347,95.3 350,96.8 353,98.3 357,97.3"/><polyline points="35,91.4 38,90.9 41,91.3 44,92.1 47,91.7 50,91.4 53,89.6 56,88.1 59,87.0 62,88.7 65,87.8 68,87.7 71,87.5 74,86.3 77,87.2 80,85.7 83,87.2 86,86.5 89,88.0 92,86.5 95,86.0 98,86.3 101,86.8 104,85.6 107,85.8 110,85.4 113,87.1 116,85.2 119,83.2 122,84.4 125,85.2 128,82.4 131,85.8 134,84.1 137,86.2 140,86.3 143,87.4 146,86.7 149,88.4 152,92.8 155,102.8 158,109.3 161,115.6 164,120.0 167,117.5 170,117.9 173,121.2 176,117.8 179,113.2 182,112.8 185,108.5 188,103.7 191,99.4 194,96.6 197,96.7 200,95.8 203,92.9 206,91.5 209,89.4 212,89.7 215,89.5 218,91.2 221,92.6 224,94.2 227,95.9 230,92.5 233,91.6 236,89.1 239,88.8 242,88.4 245,86.3 248,84.1 251,86.3 254,86.3 257,84.7 260,85.9 263,86.3 266,84.8 269,87.6 272,87.8 275,90.8 278,93.1 281,96.0 284,95.8 287,91.2 290,85.6 293,86.4 296,85.8 299,84.3 302,86.6 305,84.6 308,83.3 311,83.2 314,81.8 317,84.4 320,84.4 323,87.7 326,91.2 329,92.7 332,92.1 335,94.4 338,99.7 341,103.4 344,112.7 347,114.6 350,110.6 353,103.3 357,89.6"/><polyline points="35,87.1 38,85.7 41,86.6 44,85.8 47,86.5 50,88.9 53,89.9 56,91.3 59,91.9 62,90.3 65,90.3 68,86.8 71,86.1 74,83.3 77,83.9 80,84.1 83,85.4 86,87.4 89,86.5 92,88.3 95,87.1 98,87.2 101,86.8 104,86.2 107,86.5 110,86.3 113,87.8 116,86.5 119,86.5 122,84.6 125,86.9 128,85.9 131,88.1 134,86.9 137,86.7 140,84.6 143,84.1 146,83.2 149,85.6 152,86.6 155,88.3 158,90.3 161,88.6 164,92.0 167,90.8 170,97.0 173,100.3 176,106.0 179,113.8 182,109.7 185,113.2 188,122.5 191,116.6 194,119.7 197,120.0 200,123.7 203,123.9 206,118.2 209,114.4 212,114.2 215,112.5 218,112.0 221,106.5 224,105.3 227,100.1 230,97.2 233,96.1 236,90.8 239,88.6 242,88.6 245,88.6 248,89.7 251,90.5 254,91.5 257,93.0 260,95.5 263,96.1 266,93.1 269,91.6 272,90.2 275,86.9 278,86.0 281,84.8 284,83.9 287,82.4 290,83.8 293,90.0 296,98.3 299,97.3 302,94.6 305,88.4 308,87.4 311,87.5 314,87.0 317,88.1 320,88.8 323,88.4 326,87.1 329,85.7 332,85.9 335,84.7 338,86.2 341,87.8 344,90.1 347,91.8 350,89.9 353,90.9 357,90.5"/><polyline points="35,90.9 38,91.6 41,91.3 44,89.6 47,88.0 50,87.3 53,86.6 56,89.9 59,89.3 62,89.7 65,89.0 68,88.5 71,84.7 74,84.6 77,83.6 80,83.9 83,83.9 86,87.6 89,88.0 92,89.3 95,90.2 98,89.7 101,89.6 104,87.5 107,87.7 110,87.6 113,88.0 116,89.0 119,89.1 122,91.2 125,91.0 128,90.9 131,91.7 134,91.6 137,89.1 140,87.0 143,85.8 146,85.0 149,85.5 152,88.1 155,89.5 158,95.1 161,96.2 164,97.6 167,101.9 170,103.9 173,106.4 176,107.6 179,115.6 182,115.1 185,117.4 188,120.1 191,118.7 194,116.7 197,118.9 200,116.6 203,121.6 206,115.5 209,115.0 212,115.4 215,109.5 218,105.7 221,101.1 224,95.2 227,92.3 230,87.6 233,86.4 236,87.9 239,87.5 242,87.7 245,89.0 248,86.1 251,87.1 254,87.3 257,92.5 260,97.5 263,101.9 266,103.4 269,100.8 272,94.6 275,89.6 278,90.0 281,87.4 284,86.6 287,88.3 290,87.5 293,90.7 296,90.4 299,89.3 302,89.9 305,89.6 308,90.4 311,88.4 314,88.8 317,93.0 320,97.4 323,92.6 326,89.7 329,88.0 332,86.8 335,85.2 338,85.4 341,83.6 344,84.5 347,86.3 350,86.3 353,87.9 357,91.4"/><polyline points="35,92.1 38,90.2 41,89.5 44,89.5 47,88.6 50,88.7 53,90.3 56,89.4 59,91.0 62,91.0 65,90.5 68,89.5 71,89.4 74,87.3 77,87.4 80,86.7 83,86.6 86,86.1 89,86.0 92,86.0 95,86.6 98,86.5 101,86.7 104,84.8 107,83.3 110,82.7 113,81.9 116,82.1 119,80.9 122,80.8 125,80.2 128,80.4 131,79.5 134,79.7 137,81.2 140,80.4 143,82.1 146,81.5 149,83.7 152,89.9 155,93.4 158,98.9 161,103.2 164,107.5 167,109.9 170,110.0 173,110.1 176,114.7 179,114.8 182,113.7 185,115.6 188,111.3 191,108.6 194,107.6 197,103.3 200,103.0 203,98.1 206,95.0 209,92.1 212,89.9 215,89.7 218,88.7 221,87.8 224,87.2 227,87.8 230,88.2 233,88.7 236,89.7 239,89.4 242,88.9 245,91.3 248,90.7 251,90.2 254,90.1 257,87.3 260,87.2 263,85.9 266,86.2 269,83.9 272,84.5 275,86.2 278,86.5 281,87.1 284,90.1 287,88.8 290,90.1 293,88.9 296,88.1 299,86.3 302,85.2 305,87.4 308,88.3 311,91.9 314,93.3 317,92.9 320,90.7 323,89.6 326,91.7 329,95.1 332,95.7 335,99.9 338,98.0 341,93.7 344,91.2 347,89.3 350,88.0 353,87.7 357,89.0"/><polyline points="35,92.2 38,89.7 41,89.4 44,87.6 47,87.9 50,87.1 53,87.2 56,85.9 59,86.4 62,86.9 65,88.0 68,88.2 71,90.3 74,89.9 77,89.4 80,90.3 83,90.4 86,90.7 89,91.1 92,91.0 95,88.6 98,86.4 101,86.1 104,87.7 107,86.4 110,88.8 113,88.9 116,90.4 119,90.3 122,89.4 125,90.3 128,91.9 131,89.9 134,89.4 137,87.6 140,86.6 143,86.5 146,88.7 149,97.1 152,102.8 155,113.1 158,117.4 161,125.9 164,127.1 167,137.7 170,137.4 173,134.2 176,133.2 179,131.6 182,125.2 185,125.1 188,122.0 191,122.7 194,117.4 197,109.3 200,104.2 203,98.7 206,93.1 209,89.7 212,89.8 215,91.4 218,92.4 221,93.5 224,94.1 227,92.9 230,91.6 233,92.5 236,91.1 239,91.1 242,93.2 245,90.7 248,90.8 251,90.7 254,91.5 257,89.6 260,90.2 263,89.3 266,89.0 269,90.3 272,90.7 275,90.1 278,90.6 281,91.1 284,92.9 287,92.9 290,92.7 293,93.1 296,95.8 299,100.3 302,97.5 305,94.5 308,93.1 311,92.4 314,93.9 317,98.7 320,101.2 323,104.2 326,100.4 329,95.5 332,95.0 335,94.9 338,94.9 341,96.6 344,94.5 347,95.8 350,94.2 353,93.3 357,93.2"/><polyline points="35,90.3 38,86.8 41,85.8 44,86.4 47,86.6 50,85.7 53,85.6 56,86.1 59,86.5 62,84.6 65,83.6 68,81.7 71,80.9 74,80.9 77,80.5 80,81.1 83,81.0 86,82.3 89,84.2 92,84.6 95,84.8 98,85.9 101,85.6 104,84.7 107,83.5 110,83.5 113,83.6 116,80.7 119,80.4 122,82.1 125,83.7 128,85.0 131,86.1 134,88.2 137,88.8 140,89.9 143,90.1 146,89.5 149,91.5 152,90.6 155,92.6 158,95.8 161,101.7 164,102.2 167,108.8 170,112.3 173,115.5 176,121.3 179,120.2 182,117.4 185,121.3 188,120.4 191,123.6 194,111.7 197,109.0 200,103.1 203,100.5 206,96.5 209,93.2 212,89.2 215,87.3 218,89.2 221,88.5 224,89.7 227,88.9 230,88.8 233,88.0 236,86.3 239,86.1 242,85.5 245,84.2 248,83.8 251,82.9 254,85.3 257,87.3 260,87.6 263,85.8 266,85.1 269,83.7 272,81.4 275,81.9 278,80.8 281,81.4 284,81.9 287,83.6 290,82.1 293,82.4 296,84.0 299,83.8 302,84.8 305,83.4 308,85.3 311,84.7 314,83.8 317,85.6 320,84.9 323,85.5 326,85.3 329,85.4 332,85.9 335,84.9 338,86.1 341,85.8 344,84.3 347,83.2 350,83.8 353,83.5 357,85.0"/><polyline points="35,96.5 38,95.4 41,98.4 44,96.4 47,96.1 50,94.9 53,95.1 56,95.1 59,95.9 62,95.1 65,93.2 68,92.9 71,90.2 74,90.4 77,89.6 80,91.2 83,90.8 86,92.5 89,94.0 92,92.0 95,95.0 98,92.9 101,90.9 104,87.7 107,87.5 110,85.1 113,86.7 116,86.9 119,89.0 122,88.5 125,90.5 128,91.6 131,93.2 134,91.6 137,91.9 140,89.0 143,87.8 146,87.3 149,90.0 152,94.0 155,101.3 158,109.3 161,113.8 164,123.4 167,130.7 170,140.2 173,153.2 176,147.0 179,155.6 182,163.8 185,161.1 188,158.7 191,164.2 194,176.3 197,169.6 200,171.8 203,163.7 206,167.2 209,158.7 212,157.4 215,159.1 218,155.0 221,153.8 224,134.1 227,133.7 230,128.4 233,118.7 236,108.1 239,104.2 242,99.5 245,96.2 248,93.6 251,91.9 254,94.2 257,92.6 260,93.3 263,94.1 266,94.1 269,93.0 272,92.1 275,90.8 278,90.1 281,92.0 284,101.0 287,108.4 290,103.0 293,97.6 296,92.3 299,89.0 302,88.3 305,89.4 308,89.7 311,89.9 314,90.3 317,91.7 320,93.0 323,94.8 326,96.1 329,97.4 332,98.9 335,101.1 338,106.5 341,112.6 344,112.2 347,108.4 350,106.8 353,107.5 357,110.1"/><polyline points="35,89.9 38,91.6 41,90.2 44,88.8 47,86.9 50,86.4 53,86.0 56,87.2 59,86.2 62,88.2 65,88.2 68,89.0 71,87.1 74,86.3 77,85.9 80,85.0 83,84.8 86,84.1 89,84.4 92,85.2 95,85.8 98,85.3 101,85.9 104,87.0 107,88.1 110,87.4 113,87.8 116,87.2 119,86.1 122,84.0 125,82.8 128,80.6 131,80.7 134,81.3 137,80.8 140,83.5 143,84.5 146,83.5 149,85.9 152,85.4 155,88.3 158,93.7 161,97.9 164,102.7 167,104.6 170,115.1 173,120.4 176,130.0 179,127.1 182,133.2 185,136.4 188,148.1 191,133.7 194,143.5 197,155.6 200,146.1 203,134.3 206,135.4 209,137.5 212,131.4 215,125.9 218,120.3 221,120.0 224,113.4 227,109.8 230,105.4 233,100.2 236,98.3 239,92.1 242,89.6 245,85.8 248,83.8 251,82.3 254,84.2 257,84.9 260,84.7 263,84.2 266,88.8 269,93.2 272,95.2 275,101.2 278,102.2 281,99.1 284,95.4 287,89.1 290,85.9 293,84.6 296,84.6 299,86.4 302,85.9 305,85.0 308,85.1 311,85.1 314,86.3 317,84.2 320,84.2 323,82.8 326,82.3 329,85.1 332,85.2 335,85.7 338,86.4 341,86.3 344,85.9 347,85.0 350,87.6 353,88.3 357,90.1"/><polyline points="35,94.3 38,93.8 41,94.3 44,94.6 47,95.0 50,94.5 53,91.1 56,90.3 59,88.9 62,85.5 65,84.8 68,84.6 71,85.5 74,85.5 77,85.6 80,87.1 83,88.3 86,88.3 89,89.5 92,88.3 95,87.5 98,88.0 101,89.3 104,89.8 107,90.4 110,89.5 113,89.2 116,87.1 119,86.6 122,84.7 125,85.5 128,86.9 131,87.3 134,88.0 137,87.6 140,86.3 143,87.4 146,86.6 149,86.1 152,89.3 155,92.8 158,97.1 161,98.4 164,98.9 167,101.6 170,104.6 173,106.4 176,107.8 179,109.0 182,116.0 185,116.2 188,116.9 191,119.8 194,119.8 197,119.0 200,120.2 203,117.9 206,112.0 209,118.2 212,113.8 215,111.1 218,109.6 221,100.8 224,97.9 227,98.8 230,95.3 233,94.1 236,92.0 239,88.8 242,88.4 245,86.9 248,85.2 251,86.9 254,86.1 257,87.3 260,86.6 263,89.9 266,90.1 269,91.5 272,90.3 275,92.0 278,91.7 281,91.2 284,87.0 287,88.5 290,88.4 293,87.1 296,90.1 299,92.2 302,95.5 305,95.6 308,95.0 311,91.5 314,88.5 317,85.9 320,86.7 323,87.8 326,88.2 329,92.0 332,92.3 335,93.7 338,95.1 341,94.1 344,93.2 347,91.9 350,90.3 353,88.5 357,88.1"/><polyline points="35,98.0 38,98.7 41,97.8 44,99.1 47,97.2 50,96.3 53,95.4 56,94.9 59,96.1 62,96.1 65,98.0 68,99.4 71,98.4 74,97.1 77,94.4 80,92.3 83,91.1 86,90.0 89,89.5 92,91.4 95,91.3 98,91.3 101,90.2 104,90.9 107,89.1 110,90.1 113,92.2 116,92.1 119,94.2 122,94.9 125,93.9 128,95.7 131,95.2 134,93.3 137,91.0 140,92.0 143,91.1 146,92.3 149,95.0 152,96.6 155,98.3 158,101.8 161,102.7 164,102.5 167,103.3 170,107.7 173,107.8 176,109.6 179,110.1 182,111.6 185,114.7 188,113.1 191,116.4 194,118.0 197,121.6 200,123.9 203,124.9 206,123.1 209,119.2 212,120.6 215,120.1 218,119.2 221,118.1 224,113.4 227,108.1 230,105.5 233,102.2 236,100.9 239,97.7 242,97.1 245,98.5 248,99.2 251,101.0 254,100.8 257,101.7 260,98.3 263,98.6 266,98.4 269,98.5 272,98.2 275,96.3 278,95.4 281,95.1 284,94.9 287,93.9 290,94.3 293,96.8 296,97.1 299,97.2 302,95.0 305,94.7 308,94.6 311,94.8 314,94.7 317,95.3 320,96.3 323,95.6 326,95.4 329,95.5 332,95.4 335,95.9 338,95.7 341,95.5 344,96.4 347,95.3 350,94.8 353,96.6 357,96.3"/><polyline points="35,89.2 38,87.8 41,87.5 44,87.5 47,85.9 50,86.7 53,86.1 56,88.0 59,88.6 62,88.4 65,88.2 68,88.2 71,87.0 74,88.1 77,88.3 80,88.6 83,87.2 86,87.4 89,88.6 92,88.7 95,87.1 98,87.9 101,87.8 104,87.6 107,87.1 110,88.0 113,89.9 116,91.4 119,89.9 122,90.6 125,90.0 128,86.7 131,85.8 134,86.1 137,85.0 140,84.9 143,85.4 146,86.6 149,87.5 152,90.8 155,90.9 158,98.5 161,108.6 164,116.3 167,127.3 170,138.9 173,154.6 176,157.4 179,165.4 182,158.6 185,153.7 188,169.5 191,170.0 194,152.4 197,144.4 200,143.5 203,126.6 206,120.4 209,110.9 212,104.8 215,98.8 218,94.0 221,89.4 224,89.3 227,90.7 230,88.7 233,88.5 236,88.6 239,87.9 242,87.7 245,89.8 248,88.5 251,89.4 254,88.8 257,88.7 260,87.6 263,88.8 266,87.6 269,88.3 272,86.1 275,86.1 278,86.4 281,86.1 284,88.0 287,92.5 290,96.0 293,96.8 296,92.7 299,92.5 302,95.3 305,100.8 308,105.9 311,99.8 314,93.1 317,87.8 320,88.2 323,88.7 326,86.7 329,89.5 332,89.1 335,89.1 338,87.9 341,89.1 344,89.2 347,87.9 350,89.4 353,91.9 357,92.3"/><polyline points="35,86.1 38,86.9 41,86.0 44,85.2 47,87.4 50,87.6 53,86.9 56,89.2 59,88.7 62,90.9 65,90.1 68,89.4 71,89.1 74,86.6 77,84.4 80,83.6 83,81.9 86,82.7 89,82.4 92,82.7 95,81.7 98,80.8 101,78.4 104,79.6 107,77.8 110,79.2 113,77.7 116,78.0 119,77.9 122,78.7 125,77.1 128,77.1 131,74.9 134,74.7 137,73.7 140,71.9 143,69.2 146,70.4 149,73.4 152,82.8 155,88.9 158,102.1 161,111.2 164,117.9 167,120.5 170,125.9 173,131.3 176,138.4 179,140.4 182,142.8 185,136.4 188,143.2 191,144.9 194,144.3 197,148.6 200,134.7 203,130.8 206,133.7 209,125.3 212,122.2 215,119.5 218,115.3 221,109.5 224,107.7 227,103.1 230,96.5 233,94.9 236,90.0 239,89.9 242,88.8 245,86.1 248,87.3 251,87.6 254,87.3 257,85.9 260,86.5 263,85.2 266,85.3 269,86.1 272,87.0 275,88.5 278,88.0 281,88.7 284,87.2 287,87.3 290,87.6 293,88.5 296,85.3 299,84.0 302,84.0 305,84.1 308,82.1 311,83.8 314,84.1 317,87.3 320,87.8 323,87.5 326,86.2 329,84.9 332,84.1 335,83.4 338,83.8 341,84.9 344,87.2 347,88.1 350,90.5 353,89.8 357,92.8"/><polyline points="35,93.5 38,92.8 41,91.7 44,89.5 47,87.2 50,85.7 53,87.1 56,87.6 59,88.9 62,91.1 65,91.2 68,91.5 71,90.0 74,90.7 77,89.2 80,87.7 83,86.5 86,85.6 89,85.0 92,86.9 95,84.9 98,86.2 101,85.4 104,85.0 107,84.8 110,84.5 113,84.8 116,83.8 119,83.1 122,82.1 125,81.8 128,84.7 131,83.3 134,83.3 137,85.5 140,83.6 143,85.0 146,84.7 149,85.6 152,88.1 155,97.4 158,110.7 161,121.3 164,125.1 167,130.7 170,127.3 173,129.6 176,123.5 179,116.5 182,105.0 185,99.4 188,95.9 191,89.6 194,87.1 197,86.2 200,87.7 203,87.6 206,87.8 209,88.2 212,86.5 215,87.6 218,88.0 221,88.9 224,86.9 227,88.1 230,89.9 233,88.7 236,89.7 239,92.6 242,93.6 245,91.2 248,89.2 251,87.2 254,85.9 257,84.8 260,84.8 263,86.0 266,86.4 269,87.2 272,87.2 275,86.6 278,87.7 281,86.9 284,85.7 287,87.2 290,93.1 293,103.5 296,106.2 299,106.9 302,102.4 305,95.3 308,89.9 311,88.6 314,88.8 317,89.0 320,89.3 323,88.7 326,89.5 329,90.4 332,92.2 335,90.6 338,90.0 341,88.9 344,87.7 347,89.1 350,88.9 353,88.7 357,87.0"/><polyline points="35,94.7 38,94.9 41,93.4 44,91.8 47,91.4 50,91.1 53,91.7 56,89.7 59,90.7 62,90.3 65,90.1 68,90.3 71,92.4 74,92.2 77,92.1 80,92.3 83,92.6 86,91.0 89,91.0 92,88.4 95,87.9 98,88.9 101,89.1 104,90.4 107,91.6 110,91.0 113,88.7 116,86.5 119,84.2 122,83.1 125,83.8 128,84.1 131,84.0 134,84.4 137,85.3 140,84.1 143,83.0 146,83.0 149,85.3 152,87.1 155,91.0 158,94.8 161,100.5 164,104.3 167,113.1 170,111.0 173,121.9 176,127.4 179,135.7 182,144.1 185,141.2 188,139.0 191,152.5 194,159.3 197,140.0 200,161.5 203,160.8 206,154.7 209,155.6 212,155.5 215,150.8 218,143.0 221,134.8 224,132.1 227,120.2 230,115.7 233,105.8 236,102.2 239,98.7 242,95.3 245,93.2 248,94.3 251,94.2 254,94.0 257,94.9 260,94.7 263,94.1 266,91.5 269,90.4 272,89.9 275,89.2 278,86.7 281,87.4 284,89.1 287,87.6 290,88.6 293,89.2 296,91.3 299,92.3 302,93.3 305,91.3 308,91.5 311,89.9 314,89.0 317,89.2 320,89.2 323,87.0 326,86.5 329,87.3 332,88.2 335,87.9 338,90.5 341,92.5 344,92.1 347,93.5 350,91.3 353,93.6 357,94.4"/><polyline points="35,88.7 38,91.0 41,87.5 44,90.1 47,88.9 50,90.9 53,89.2 56,90.8 59,89.6 62,89.8 65,91.2 68,91.0 71,89.2 74,90.4 77,87.7 80,88.2 83,85.8 86,85.5 89,86.1 92,85.4 95,86.9 98,85.9 101,88.0 104,87.3 107,86.8 110,87.1 113,86.3 116,86.0 119,87.1 122,87.0 125,87.3 128,88.2 131,87.1 134,87.4 137,86.2 140,86.4 143,85.4 146,83.8 149,84.2 152,85.8 155,88.4 158,92.2 161,92.6 164,94.6 167,96.1 170,98.2 173,99.3 176,100.6 179,105.0 182,108.5 185,106.2 188,112.7 191,111.0 194,113.9 197,113.8 200,118.5 203,118.0 206,118.5 209,124.2 212,121.0 215,119.8 218,118.2 221,114.9 224,112.7 227,109.9 230,104.7 233,101.5 236,100.6 239,97.6 242,93.7 245,90.1 248,87.6 251,88.9 254,90.4 257,93.8 260,98.5 263,98.0 266,93.7 269,91.3 272,87.7 275,87.3 278,89.6 281,89.0 284,88.8 287,89.1 290,89.4 293,89.4 296,89.3 299,89.3 302,91.0 305,88.0 308,88.3 311,86.5 314,88.3 317,88.7 320,89.3 323,92.5 326,93.3 329,96.1 332,97.7 335,99.7 338,102.0 341,104.4 344,109.8 347,116.2 350,115.5 353,115.9 357,118.1"/><polyline points="35,88.7 38,89.1 41,90.6 44,90.1 47,89.5 50,88.0 53,86.3 56,85.8 59,86.0 62,85.0 65,85.6 68,86.7 71,86.0 74,86.2 77,84.7 80,80.9 83,80.9 86,80.3 89,82.9 92,84.8 95,85.1 98,86.4 101,86.7 104,85.6 107,85.1 110,84.6 113,84.2 116,84.5 119,84.5 122,83.3 125,82.2 128,80.5 131,80.1 134,79.2 137,79.0 140,78.7 143,80.2 146,82.3 149,86.0 152,89.8 155,97.8 158,103.5 161,115.3 164,123.0 167,128.6 170,139.3 173,131.4 176,146.4 179,141.0 182,158.1 185,140.5 188,136.5 191,143.2 194,135.1 197,127.2 200,122.5 203,116.8 206,111.4 209,100.4 212,96.6 215,91.1 218,88.3 221,86.0 224,84.3 227,83.9 230,85.8 233,86.8 236,86.6 239,86.2 242,86.2 245,87.1 248,86.4 251,85.6 254,87.3 257,86.6 260,86.1 263,85.7 266,85.2 269,84.0 272,83.2 275,81.6 278,83.2 281,82.6 284,83.7 287,84.3 290,85.1 293,87.4 296,87.8 299,88.2 302,87.7 305,89.9 308,92.0 311,94.8 314,96.5 317,95.4 320,93.3 323,87.5 326,85.1 329,84.9 332,86.1 335,87.6 338,87.6 341,87.3 344,87.9 347,89.7 350,89.5 353,89.7 357,88.5"/><polyline points="35,88.5 38,87.9 41,85.8 44,86.6 47,87.7 50,87.9 53,88.4 56,87.7 59,88.5 62,87.4 65,88.4 68,87.4 71,86.7 74,87.5 77,85.8 80,86.6 83,85.9 86,86.0 89,86.6 92,86.6 95,86.8 98,86.9 101,87.0 104,86.3 107,85.8 110,85.5 113,85.0 116,87.6 119,88.1 122,89.0 125,87.8 128,86.9 131,85.8 134,83.5 137,82.7 140,84.1 143,84.0 146,84.7 149,87.4 152,87.9 155,89.5 158,89.4 161,90.9 164,92.5 167,91.8 170,93.7 173,94.0 176,92.1 179,94.1 182,92.1 185,92.2 188,94.8 191,93.1 194,94.6 197,94.9 200,95.2 203,94.6 206,97.5 209,97.8 212,98.9 215,99.4 218,100.2 221,101.1 224,98.5 227,98.0 230,95.2 233,92.7 236,89.5 239,88.2 242,87.2 245,86.0 248,87.3 251,85.5 254,89.4 257,88.0 260,87.4 263,86.5 266,87.5 269,86.4 272,85.2 275,84.9 278,84.7 281,83.6 284,84.1 287,83.4 290,82.8 293,82.0 296,84.7 299,84.1 302,84.2 305,86.5 308,86.7 311,85.8 314,87.1 317,89.2 320,89.3 323,90.1 326,91.7 329,91.6 332,89.0 335,89.6 338,89.7 341,88.7 344,87.3 347,88.8 350,87.3 353,87.2 357,86.9"/><polyline points="35,98.6 38,96.1 41,96.7 44,95.7 47,94.3 50,95.1 53,93.8 56,94.3 59,93.2 62,94.8 65,92.8 68,94.6 71,95.3 74,94.1 77,92.7 80,92.0 83,91.7 86,94.1 89,92.5 92,92.8 95,92.6 98,92.8 101,93.6 104,93.2 107,93.6 110,94.4 113,94.4 116,94.1 119,92.1 122,90.4 125,89.0 128,90.0 131,89.7 134,90.0 137,90.6 140,90.4 143,89.0 146,89.4 149,92.3 152,94.9 155,101.3 158,104.9 161,110.7 164,117.0 167,125.5 170,132.2 173,134.3 176,145.1 179,143.2 182,157.5 185,154.2 188,171.1 191,177.7 194,165.5 197,180.3 200,174.3 203,184.2 206,171.3 209,171.5 212,167.6 215,172.7 218,150.1 221,155.9 224,145.0 227,135.0 230,127.1 233,119.6 236,111.5 239,102.5 242,98.3 245,94.8 248,99.7 251,104.0 254,108.7 257,105.9 260,100.5 263,98.0 266,95.1 269,93.9 272,95.8 275,96.6 278,94.4 281,95.7 284,94.4 287,94.9 290,91.7 293,92.9 296,94.0 299,92.5 302,93.9 305,92.5 308,93.5 311,93.0 314,92.9 317,94.6 320,99.6 323,105.9 326,108.0 329,103.7 332,101.5 335,95.4 338,94.9 341,95.6 344,95.0 347,96.0 350,96.2 353,96.0 357,98.2"/><polyline points="35,89.4 38,90.5 41,90.9 44,93.2 47,94.6 50,92.8 53,94.5 56,92.1 59,91.9 62,90.6 65,90.3 68,90.3 71,90.5 74,90.3 77,88.7 80,87.3 83,87.2 86,86.8 89,88.2 92,87.2 95,89.4 98,88.7 101,88.5 104,89.0 107,87.7 110,87.6 113,88.6 116,88.7 119,87.6 122,89.2 125,86.8 128,84.4 131,84.2 134,84.7 137,84.6 140,85.5 143,87.2 146,86.5 149,89.2 152,90.1 155,91.6 158,95.6 161,94.8 164,96.9 167,97.0 170,96.7 173,98.2 176,99.9 179,101.6 182,106.7 185,108.6 188,109.3 191,108.8 194,107.7 197,106.2 200,108.7 203,109.0 206,110.7 209,109.9 212,107.6 215,112.5 218,112.6 221,105.1 224,106.5 227,105.6 230,102.3 233,100.1 236,97.9 239,95.2 242,94.0 245,91.6 248,95.4 251,98.5 254,101.3 257,100.7 260,95.4 263,91.7 266,87.1 269,88.0 272,87.1 275,84.5 278,85.3 281,86.0 284,87.6 287,86.6 290,87.8 293,87.7 296,86.9 299,86.4 302,88.5 305,89.5 308,90.3 311,89.8 314,90.2 317,92.6 320,93.2 323,92.7 326,91.7 329,91.6 332,91.3 335,90.0 338,91.2 341,91.1 344,90.1 347,91.1 350,90.3 353,92.3 357,92.3"/><polyline points="35,96.4 38,96.1 41,95.9 44,95.2 47,94.8 50,93.2 53,92.5 56,91.1 59,92.1 62,92.1 65,93.2 68,93.8 71,93.2 74,90.9 77,91.7 80,90.3 83,90.0 86,89.9 89,90.0 92,89.8 95,89.8 98,88.7 101,89.0 104,89.2 107,88.8 110,91.6 113,90.6 116,91.3 119,90.9 122,90.1 125,90.5 128,91.1 131,90.7 134,90.9 137,92.1 140,90.4 143,92.1 146,91.9 149,94.6 152,95.2 155,98.0 158,99.5 161,99.4 164,102.5 167,102.7 170,103.4 173,103.8 176,104.4 179,103.2 182,103.6 185,102.2 188,100.2 191,97.0 194,94.0 197,91.6 200,92.2 203,92.3 206,93.4 209,93.6 212,93.3 215,92.9 218,92.7 221,92.1 224,93.4 227,92.3 230,93.7 233,93.5 236,92.2 239,93.9 242,92.9 245,95.1 248,94.4 251,93.0 254,91.3 257,91.4 260,89.6 263,90.6 266,88.6 269,89.0 272,89.3 275,88.4 278,88.2 281,87.6 284,88.7 287,88.2 290,89.9 293,89.1 296,90.5 299,89.8 302,90.7 305,91.5 308,92.3 311,90.3 314,91.3 317,91.5 320,93.2 323,91.7 326,92.2 329,90.6 332,89.0 335,89.6 338,89.0 341,91.2 344,92.8 347,94.8 350,94.2 353,96.3 357,95.5"/><polyline points="35,86.0 38,86.6 41,86.0 44,89.4 47,88.2 50,88.7 53,88.6 56,89.3 59,87.6 62,87.1 65,84.6 68,86.0 71,85.8 74,86.3 77,85.1 80,85.5 83,83.4 86,82.7 89,82.6 92,84.7 95,84.5 98,83.3 101,84.1 104,82.6 107,82.1 110,81.1 113,81.5 116,81.9 119,81.8 122,80.6 125,81.1 128,80.9 131,79.2 134,80.0 137,78.5 140,79.9 143,79.3 146,80.8 149,83.9 152,86.7 155,92.2 158,94.9 161,98.6 164,102.4 167,104.7 170,109.6 173,116.7 176,120.0 179,128.3 182,129.0 185,140.7 188,135.5 191,143.3 194,132.9 197,136.7 200,137.0 203,125.3 206,126.6 209,126.8 212,126.3 215,120.3 218,114.3 221,110.0 224,101.7 227,99.7 230,96.7 233,91.7 236,89.3 239,85.3 242,85.4 245,84.8 248,86.2 251,85.6 254,89.4 257,95.7 260,98.0 263,95.6 266,90.9 269,86.8 272,86.7 275,87.7 278,87.3 281,87.2 284,86.7 287,86.0 290,84.3 293,84.4 296,83.1 299,84.0 302,81.5 305,83.0 308,82.8 311,83.1 314,82.7 317,84.9 320,86.6 323,88.6 326,91.2 329,90.1 332,88.4 335,85.8 338,84.2 341,85.0 344,85.7 347,88.8 350,88.8 353,90.6 357,91.4"/><polyline points="35,92.5 38,92.2 41,90.6 44,89.7 47,87.7 50,86.4 53,87.2 56,89.0 59,91.3 62,90.9 65,91.7 68,92.8 71,92.0 74,92.9 77,92.8 80,91.8 83,92.1 86,92.7 89,93.0 92,92.1 95,93.9 98,91.4 101,90.0 104,88.9 107,88.2 110,89.5 113,87.5 116,90.1 119,89.7 122,90.1 125,88.9 128,86.1 131,84.3 134,84.6 137,83.1 140,83.7 143,84.1 146,85.6 149,87.9 152,89.4 155,91.6 158,96.3 161,97.9 164,103.0 167,107.6 170,111.1 173,115.0 176,125.0 179,133.2 182,134.4 185,136.1 188,142.6 191,144.1 194,140.8 197,150.1 200,148.2 203,151.5 206,139.2 209,136.9 212,132.1 215,122.1 218,127.3 221,111.4 224,108.0 227,105.2 230,98.6 233,95.9 236,93.7 239,92.2 242,92.8 245,91.7 248,91.7 251,90.9 254,90.0 257,92.7 260,91.3 263,93.0 266,92.2 269,91.4 272,90.9 275,92.9 278,94.1 281,96.7 284,99.8 287,98.7 290,97.2 293,100.2 296,107.5 299,108.4 302,107.4 305,105.8 308,97.9 311,93.4 314,89.8 317,90.4 320,90.4 323,90.2 326,89.6 329,91.8 332,91.5 335,90.4 338,90.7 341,91.6 344,91.5 347,92.6 350,93.8 353,94.6 357,94.4"/><polyline points="35,97.5 38,99.9 41,97.9 44,97.1 47,95.4 50,97.1 53,94.5 56,95.3 59,91.8 62,92.1 65,91.2 68,88.5 71,87.8 74,89.7 77,91.4 80,92.4 83,91.5 86,92.0 89,90.3 92,91.8 95,89.7 98,90.9 101,89.8 104,89.8 107,91.1 110,89.3 113,90.6 116,89.2 119,88.5 122,88.0 125,88.6 128,87.1 131,86.5 134,86.0 137,88.5 140,89.4 143,89.8 146,90.2 149,88.4 152,91.0 155,92.8 158,94.5 161,94.9 164,96.8 167,96.9 170,98.2 173,99.4 176,100.7 179,100.3 182,101.7 185,102.6 188,101.3 191,102.3 194,100.7 197,101.4 200,102.4 203,100.9 206,98.7 209,96.6 212,95.6 215,94.9 218,94.2 221,92.5 224,95.0 227,93.6 230,91.6 233,91.9 236,89.6 239,91.4 242,91.3 245,92.8 248,92.9 251,93.9 254,94.6 257,95.0 260,94.3 263,93.9 266,92.8 269,93.4 272,91.4 275,89.8 278,88.3 281,86.3 284,86.0 287,85.4 290,87.1 293,87.8 296,93.8 299,99.3 302,104.5 305,101.3 308,99.5 311,95.3 314,93.5 317,95.8 320,96.2 323,95.3 326,96.4 329,95.8 332,95.4 335,93.6 338,95.5 341,94.6 344,94.6 347,93.3 350,95.2 353,93.5 357,94.8"/><polyline points="35,94.3 38,92.9 41,92.6 44,91.2 47,89.1 50,89.2 53,89.8 56,88.6 59,87.6 62,89.7 65,87.8 68,87.2 71,88.0 74,85.6 77,86.3 80,84.6 83,86.2 86,86.3 89,85.4 92,84.9 95,84.8 98,84.5 101,85.7 104,84.5 107,85.0 110,85.7 113,85.2 116,86.6 119,86.2 122,87.4 125,85.3 128,85.4 131,85.5 134,83.0 137,82.8 140,83.9 143,81.4 146,81.5 149,82.4 152,83.8 155,88.8 158,96.0 161,99.1 164,105.5 167,115.7 170,122.6 173,124.5 176,134.1 179,139.8 182,155.8 185,157.8 188,162.0 191,159.3 194,169.5 197,179.9 200,177.9 203,187.2 206,181.1 209,185.1 212,178.4 215,170.5 218,176.7 221,167.6 224,163.3 227,146.9 230,138.7 233,135.7 236,124.3 239,118.2 242,108.7 245,103.0 248,96.1 251,90.7 254,87.6 257,87.4 260,88.0 263,87.3 266,86.9 269,85.8 272,84.9 275,85.5 278,85.6 281,85.1 284,86.1 287,85.7 290,87.2 293,87.3 296,89.6 299,89.1 302,88.3 305,86.8 308,86.4 311,89.9 314,93.5 317,98.0 320,97.4 323,93.9 326,91.5 329,89.4 332,89.2 335,89.7 338,90.8 341,89.4 344,89.8 347,90.2 350,89.3 353,89.3 357,88.8"/><polyline points="35,88.7 38,86.4 41,86.3 44,84.7 47,88.2 50,88.7 53,92.9 56,92.7 59,94.3 62,94.7 65,91.5 68,89.5 71,90.1 74,87.3 77,85.8 80,86.7 83,83.4 86,84.1 89,84.4 92,85.1 95,84.1 98,86.2 101,86.6 104,86.7 107,87.2 110,86.9 113,88.0 116,85.5 119,84.4 122,83.3 125,82.2 128,81.4 131,83.5 134,86.2 137,85.8 140,86.2 143,83.1 146,83.5 149,85.9 152,92.1 155,104.0 158,112.1 161,128.7 164,131.8 167,147.1 170,151.3 173,141.5 176,147.1 179,149.5 182,139.2 185,136.5 188,131.9 191,130.4 194,124.8 197,115.7 200,112.6 203,107.7 206,102.1 209,96.0 212,92.9 215,89.8 218,89.5 221,91.2 224,90.7 227,91.2 230,91.7 233,90.3 236,89.9 239,89.6 242,88.3 245,86.9 248,85.7 251,85.8 254,86.3 257,86.2 260,87.0 263,87.0 266,86.5 269,88.0 272,96.7 275,104.8 278,102.2 281,95.6 284,88.6 287,87.3 290,85.6 293,83.9 296,85.3 299,87.1 302,87.9 305,88.7 308,88.8 311,89.3 314,89.3 317,89.2 320,87.6 323,86.4 326,86.5 329,87.2 332,85.8 335,86.6 338,87.7 341,89.0 344,89.7 347,89.6 350,91.5 353,92.3 357,93.1"/><polyline points="35,89.5 38,88.7 41,88.8 44,89.6 47,90.0 50,88.8 53,89.8 56,89.5 59,88.1 62,89.1 65,86.6 68,86.1 71,84.0 74,82.9 77,83.4 80,84.8 83,86.2 86,85.9 89,88.5 92,87.0 95,86.1 98,86.7 101,86.7 104,85.5 107,84.4 110,84.3 113,85.2 116,85.7 119,86.4 122,86.5 125,85.0 128,85.7 131,84.4 134,84.2 137,85.2 140,87.1 143,85.5 146,87.2 149,90.7 152,92.1 155,93.1 158,97.2 161,100.9 164,104.7 167,109.4 170,111.9 173,118.0 176,117.9 179,118.2 182,122.3 185,121.5 188,126.1 191,129.9 194,133.9 197,133.4 200,132.8 203,134.3 206,128.0 209,127.6 212,122.4 215,116.5 218,112.7 221,115.2 224,112.6 227,107.0 230,101.2 233,97.9 236,94.6 239,90.5 242,89.5 245,89.9 248,88.2 251,86.7 254,85.1 257,84.2 260,82.4 263,83.1 266,82.8 269,83.5 272,82.5 275,82.1 278,82.3 281,83.4 284,83.3 287,85.0 290,83.6 293,84.5 296,84.4 299,84.8 302,91.1 305,94.2 308,93.6 311,91.4 314,89.9 317,86.4 320,85.8 323,86.9 326,89.3 329,91.1 332,95.2 335,105.0 338,107.9 341,100.2 344,94.0 347,89.5 350,89.8 353,89.6 357,88.0"/><polyline points="35,92.5 38,92.1 41,92.1 44,89.3 47,89.8 50,88.9 53,89.1 56,89.9 59,91.4 62,91.9 65,91.7 68,91.3 71,89.6 74,88.7 77,87.5 80,86.9 83,86.2 86,85.6 89,86.3 92,86.0 95,87.6 98,89.4 101,91.0 104,90.0 107,90.4 110,89.6 113,86.9 116,87.0 119,85.8 122,86.7 125,88.1 128,87.8 131,89.7 134,89.3 137,88.7 140,88.7 143,87.3 146,86.6 149,89.0 152,92.4 155,99.6 158,106.2 161,114.4 164,123.1 167,128.3 170,143.5 173,149.9 176,151.0 179,168.3 182,167.2 185,149.6 188,147.3 191,153.7 194,158.4 197,158.7 200,154.3 203,147.0 206,146.0 209,139.4 212,131.6 215,128.5 218,125.0 221,116.7 224,111.3 227,107.7 230,104.4 233,100.6 236,95.7 239,94.8 242,92.4 245,91.9 248,92.3 251,92.7 254,92.9 257,91.7 260,93.3 263,91.8 266,90.8 269,89.3 272,89.2 275,87.1 278,87.0 281,86.4 284,88.3 287,88.8 290,90.1 293,88.3 296,87.9 299,87.7 302,88.2 305,89.8 308,90.1 311,92.9 314,93.1 317,92.5 320,91.7 323,90.2 326,89.2 329,90.9 332,91.6 335,91.5 338,93.0 341,95.0 344,93.8 347,94.6 350,94.6 353,94.2 357,94.4"/><polyline points="35,89.4 38,91.2 41,91.8 44,92.6 47,92.4 50,93.1 53,94.1 56,93.6 59,94.8 62,94.7 65,94.6 68,94.1 71,94.1 74,94.5 77,95.2 80,95.1 83,94.9 86,93.6 89,92.4 92,93.0 95,93.3 98,91.9 101,91.2 104,91.5 107,91.4 110,90.8 113,88.9 116,87.4 119,87.8 122,88.2 125,88.0 128,88.8 131,87.7 134,88.2 137,88.8 140,87.3 143,88.0 146,89.3 149,92.5 152,92.1 155,96.4 158,103.6 161,109.3 164,117.8 167,126.7 170,136.5 173,151.9 176,159.7 179,158.5 182,173.4 185,176.8 188,185.3 191,180.0 194,202.1 197,187.1 200,199.5 203,179.0 206,186.2 209,170.0 212,172.4 215,155.2 218,143.8 221,136.6 224,130.3 227,125.5 230,117.3 233,109.7 236,105.7 239,101.1 242,98.2 245,95.3 248,94.1 251,93.5 254,93.1 257,96.3 260,97.7 263,96.4 266,94.1 269,94.0 272,94.1 275,93.2 278,92.0 281,89.0 284,88.8 287,86.2 290,84.7 293,86.2 296,87.4 299,87.9 302,88.5 305,90.1 308,91.5 311,90.4 314,93.0 317,92.6 320,91.1 323,91.0 326,89.5 329,89.0 332,90.8 335,91.6 338,91.3 341,91.7 344,92.3 347,93.8 350,92.4 353,93.9 357,90.9"/><polyline points="35,86.4 38,85.8 41,85.6 44,85.7 47,86.2 50,86.1 53,84.8 56,85.9 59,84.3 62,84.5 65,83.7 68,84.8 71,84.0 74,84.8 77,85.5 80,87.0 83,86.9 86,86.5 89,87.0 92,87.5 95,86.5 98,86.0 101,84.2 104,84.1 107,84.2 110,82.8 113,85.1 116,82.3 119,82.9 122,81.2 125,81.7 128,82.2 131,82.4 134,81.8 137,82.2 140,83.6 143,83.5 146,83.9 149,86.9 152,87.4 155,92.3 158,95.7 161,98.1 164,97.9 167,98.2 170,101.8 173,103.7 176,100.6 179,103.3 182,103.7 185,103.1 188,99.6 191,100.8 194,99.8 197,99.2 200,97.2 203,94.3 206,92.7 209,91.3 212,90.7 215,87.4 218,85.0 221,86.0 224,85.2 227,85.6 230,85.8 233,85.5 236,83.8 239,83.8 242,85.0 245,85.9 248,87.3 251,86.5 254,86.2 257,86.4 260,85.9 263,85.1 266,84.2 269,83.7 272,83.5 275,82.7 278,83.3 281,83.0 284,82.8 287,82.9 290,84.0 293,84.5 296,82.7 299,83.6 302,81.8 305,79.8 308,79.7 311,79.4 314,80.8 317,81.3 320,83.5 323,84.2 326,83.8 329,84.9 332,86.0 335,85.1 338,83.8 341,81.7 344,81.3 347,82.3 350,83.8 353,85.3 357,85.8"/><polyline points="35,92.5 38,92.1 41,90.7 44,90.1 47,87.1 50,89.1 53,90.8 56,90.5 59,91.3 62,93.0 65,92.7 68,92.5 71,91.4 74,91.3 77,90.3 80,89.9 83,89.3 86,89.7 89,88.2 92,88.6 95,88.0 98,86.9 101,84.4 104,84.6 107,83.6 110,83.5 113,81.7 116,82.2 119,82.4 122,83.4 125,81.9 128,83.0 131,82.9 134,84.5 137,83.9 140,83.1 143,84.9 146,85.6 149,88.5 152,91.4 155,94.6 158,98.7 161,104.2 164,105.9 167,112.0 170,120.4 173,121.1 176,121.7 179,123.8 182,135.1 185,134.1 188,148.8 191,155.7 194,171.7 197,158.3 200,173.6 203,164.7 206,166.2 209,171.4 212,166.3 215,181.4 218,164.4 221,154.9 224,165.6 227,145.1 230,140.7 233,131.9 236,121.3 239,114.6 242,105.7 245,96.8 248,91.3 251,90.3 254,89.6 257,88.6 260,86.8 263,86.1 266,85.2 269,85.3 272,84.9 275,86.1 278,87.1 281,88.0 284,86.4 287,86.6 290,85.5 293,87.0 296,85.9 299,88.2 302,87.9 305,90.0 308,89.6 311,90.5 314,91.0 317,91.0 320,90.6 323,90.8 326,90.8 329,90.2 332,89.5 335,89.1 338,91.3 341,90.6 344,94.4 347,94.9 350,93.7 353,93.7 357,89.5"/><polyline points="35,93.2 38,92.3 41,90.6 44,89.8 47,89.0 50,89.9 53,90.7 56,92.1 59,91.4 62,90.4 65,88.8 68,88.5 71,85.3 74,86.2 77,87.7 80,87.3 83,88.6 86,89.6 89,89.5 92,88.0 95,88.6 98,87.3 101,87.4 104,86.7 107,84.9 110,84.8 113,84.5 116,86.1 119,85.4 122,85.9 125,86.6 128,87.3 131,87.3 134,86.7 137,86.6 140,86.7 143,86.7 146,86.0 149,87.3 152,89.5 155,93.2 158,94.6 161,96.4 164,99.4 167,101.8 170,105.6 173,104.8 176,112.3 179,110.8 182,120.1 185,125.8 188,129.8 191,124.5 194,127.2 197,124.8 200,129.0 203,128.1 206,134.1 209,129.8 212,132.1 215,127.8 218,125.3 221,129.7 224,123.4 227,116.7 230,117.7 233,111.7 236,103.8 239,97.6 242,89.4 245,87.0 248,84.4 251,83.1 254,85.0 257,85.6 260,85.8 263,84.9 266,84.6 269,86.0 272,85.1 275,85.8 278,85.6 281,84.0 284,83.3 287,82.5 290,81.9 293,84.3 296,86.7 299,88.9 302,89.4 305,90.8 308,88.4 311,88.2 314,87.4 317,87.2 320,87.0 323,85.9 326,85.6 329,86.0 332,86.7 335,87.5 338,90.2 341,91.0 344,93.0 347,93.6 350,92.8 353,93.7 357,95.2"/><polyline points="35,92.8 38,92.4 41,91.3 44,92.0 47,90.7 50,92.6 53,92.6 56,92.6 59,90.3 62,90.1 65,87.3 68,87.7 71,87.0 74,85.3 77,87.2 80,86.6 83,89.5 86,88.9 89,90.3 92,90.4 95,89.2 98,88.5 101,89.9 104,89.2 107,90.6 110,90.3 113,92.5 116,90.4 119,90.3 122,87.9 125,86.3 128,85.6 131,84.3 134,84.1 137,85.3 140,83.8 143,83.3 146,84.8 149,85.4 152,87.9 155,90.8 158,93.3 161,94.4 164,95.2 167,96.3 170,97.7 173,97.7 176,100.0 179,101.0 182,102.8 185,103.9 188,104.1 191,108.2 194,103.8 197,105.0 200,105.0 203,108.0 206,105.4 209,102.6 212,103.8 215,102.3 218,101.6 221,100.3 224,99.7 227,94.9 230,94.6 233,91.6 236,87.5 239,87.3 242,87.6 245,89.8 248,89.4 251,89.8 254,92.5 257,92.0 260,91.1 263,90.9 266,89.3 269,89.1 272,89.7 275,88.6 278,87.8 281,85.4 284,85.9 287,83.5 290,84.4 293,87.2 296,88.4 299,90.0 302,90.2 305,89.6 308,88.4 311,88.5 314,88.6 317,86.3 320,87.7 323,87.0 326,85.5 329,87.4 332,86.9 335,88.6 338,89.2 341,91.1 344,91.8 347,94.5 350,95.4 353,96.4 357,96.4"/><polyline points="35,88.9 38,89.2 41,88.9 44,86.6 47,86.4 50,87.7 53,87.3 56,87.2 59,88.7 62,87.5 65,89.9 68,88.7 71,88.7 74,89.8 77,89.3 80,88.5 83,87.7 86,86.0 89,85.3 92,86.3 95,86.7 98,84.8 101,85.0 104,83.5 107,83.4 110,84.0 113,84.2 116,84.1 119,84.3 122,82.7 125,82.9 128,83.1 131,81.3 134,81.4 137,81.7 140,81.9 143,83.3 146,83.6 149,85.0 152,85.6 155,93.5 158,102.3 161,111.4 164,119.3 167,126.8 170,136.1 173,139.1 176,140.1 179,145.0 182,144.2 185,134.4 188,138.7 191,126.0 194,122.6 197,117.4 200,102.8 203,101.5 206,95.3 209,90.5 212,89.3 215,88.5 218,88.2 221,88.9 224,87.9 227,88.0 230,87.4 233,87.1 236,86.3 239,86.7 242,86.4 245,88.0 248,87.3 251,88.0 254,88.2 257,87.5 260,86.1 263,87.9 266,85.6 269,88.4 272,85.7 275,86.6 278,86.6 281,85.6 284,84.2 287,86.9 290,94.4 293,99.5 296,97.8 299,94.7 302,91.3 305,87.2 308,87.3 311,87.7 314,90.3 317,89.3 320,88.7 323,88.1 326,87.9 329,84.8 332,85.6 335,83.6 338,82.2 341,85.3 344,85.6 347,88.1 350,88.3 353,88.9 357,90.5"/><polyline points="35,91.3 38,90.7 41,89.4 44,88.1 47,87.8 50,89.7 53,88.8 56,90.0 59,90.3 62,90.1 65,90.2 68,91.3 71,88.9 74,88.2 77,87.4 80,87.8 83,87.3 86,88.2 89,87.6 92,89.0 95,89.3 98,89.8 101,89.5 104,90.4 107,90.2 110,87.6 113,85.9 116,85.8 119,84.3 122,83.8 125,84.0 128,82.9 131,85.2 134,84.8 137,85.3 140,86.3 143,87.7 146,86.4 149,91.8 152,98.6 155,108.8 158,114.4 161,126.7 164,132.3 167,138.4 170,137.8 173,143.2 176,154.6 179,139.2 182,148.5 185,149.6 188,136.2 191,145.2 194,141.8 197,128.4 200,126.6 203,119.9 206,112.4 209,108.4 212,104.6 215,101.2 218,95.6 221,91.9 224,92.0 227,91.1 230,90.9 233,90.9 236,90.7 239,91.0 242,90.4 245,90.1 248,89.7 251,89.5 254,90.2 257,87.6 260,86.8 263,84.0 266,83.3 269,83.6 272,83.6 275,91.5 278,98.7 281,105.8 284,103.2 287,101.2 290,100.2 293,94.6 296,98.7 299,95.9 302,93.2 305,91.7 308,88.3 311,87.8 314,87.5 317,90.5 320,87.8 323,89.6 326,90.4 329,89.4 332,88.3 335,88.3 338,87.5 341,87.7 344,87.3 347,86.6 350,87.0 353,89.5 357,88.3"/><polyline points="35,84.3 38,87.1 41,85.8 44,84.7 47,85.1 50,83.4 53,84.0 56,83.5 59,84.2 62,84.2 65,84.1 68,83.1 71,84.0 74,82.7 77,82.5 80,82.7 83,82.6 86,81.7 89,83.3 92,82.4 95,84.1 98,83.8 101,83.7 104,82.6 107,83.6 110,82.6 113,82.8 116,81.0 119,79.9 122,79.3 125,79.2 128,77.3 131,77.9 134,78.1 137,78.4 140,78.3 143,79.8 146,81.8 149,88.0 152,97.1 155,105.4 158,114.0 161,126.4 164,124.6 167,132.7 170,135.1 173,131.7 176,147.8 179,145.5 182,138.1 185,142.9 188,139.1 191,129.4 194,128.9 197,115.7 200,107.8 203,104.5 206,96.6 209,91.8 212,87.0 215,86.1 218,85.0 221,86.5 224,85.4 227,86.4 230,87.2 233,86.9 236,85.7 239,85.7 242,85.5 245,86.1 248,85.8 251,86.0 254,88.3 257,88.2 260,88.1 263,86.7 266,82.9 269,82.4 272,83.4 275,84.2 278,83.5 281,83.0 284,81.1 287,83.2 290,80.6 293,80.9 296,79.9 299,78.1 302,78.6 305,79.6 308,80.0 311,82.3 314,84.5 317,85.6 320,85.6 323,85.0 326,87.3 329,90.2 332,91.4 335,94.8 338,97.9 341,99.9 344,102.2 347,105.6 350,107.1 353,108.7 357,109.7"/><polyline points="35,92.4 38,90.4 41,90.8 44,89.9 47,91.2 50,92.0 53,91.1 56,93.8 59,95.2 62,93.8 65,94.0 68,95.3 71,93.4 74,93.3 77,91.7 80,89.1 83,87.4 86,85.6 89,85.5 92,86.9 95,86.9 98,88.5 101,89.7 104,91.5 107,91.6 110,91.6 113,92.3 116,90.5 119,90.3 122,91.5 125,92.0 128,89.6 131,89.1 134,86.9 137,87.4 140,87.4 143,88.1 146,87.5 149,90.7 152,90.4 155,93.6 158,93.9 161,95.7 164,97.1 167,98.1 170,97.1 173,96.4 176,100.6 179,101.1 182,100.6 185,101.9 188,101.3 191,101.0 194,99.3 197,98.4 200,97.9 203,96.1 206,96.6 209,96.6 212,97.0 215,95.8 218,95.0 221,93.9 224,93.4 227,92.8 230,92.4 233,91.2 236,91.7 239,91.7 242,91.4 245,91.1 248,91.0 251,89.5 254,90.2 257,89.0 260,89.6 263,88.6 266,89.7 269,88.6 272,88.3 275,86.5 278,86.6 281,87.7 284,89.9 287,92.0 290,92.2 293,91.8 296,91.3 299,94.1 302,95.7 305,96.8 308,94.1 311,93.8 314,92.3 317,91.5 320,89.6 323,88.9 326,89.8 329,90.3 332,90.1 335,90.5 338,90.9 341,89.5 344,90.9 347,91.7 350,93.0 353,95.4 357,96.4"/><polyline points="35,88.4 38,90.3 41,90.6 44,88.8 47,86.3 50,86.3 53,86.9 56,87.3 59,88.6 62,87.5 65,87.4 68,85.3 71,86.6 74,84.8 77,83.1 80,81.7 83,83.5 86,82.4 89,82.8 92,82.9 95,83.5 98,83.9 101,83.8 104,85.1 107,84.4 110,83.5 113,82.4 116,82.2 119,80.8 122,81.6 125,80.2 128,80.2 131,80.2 134,78.4 137,76.4 140,76.7 143,73.8 146,74.0 149,77.8 152,83.7 155,91.3 158,94.4 161,104.6 164,111.9 167,117.2 170,128.5 173,124.3 176,142.9 179,140.2 182,143.0 185,144.3 188,139.1 191,138.4 194,145.1 197,136.2 200,133.1 203,125.0 206,123.3 209,114.5 212,102.6 215,104.7 218,93.9 221,88.0 224,82.8 227,76.3 230,78.4 233,78.1 236,78.4 239,78.8 242,79.7 245,84.3 248,82.1 251,82.6 254,80.9 257,80.2 260,80.7 263,79.9 266,81.6 269,82.6 272,83.5 275,83.4 278,82.0 281,82.3 284,80.8 287,81.8 290,83.8 293,85.4 296,87.6 299,85.6 302,86.0 305,84.7 308,86.6 311,85.9 314,85.2 317,86.8 320,86.0 323,87.9 326,89.7 329,89.6 332,90.8 335,88.8 338,89.7 341,88.5 344,88.3 347,87.4 350,87.2 353,87.3 357,86.7"/><polyline points="35,87.6 38,87.7 41,87.5 44,89.4 47,87.1 50,88.5 53,85.9 56,88.5 59,88.1 62,87.7 65,89.7 68,89.9 71,89.0 74,90.8 77,91.2 80,92.2 83,91.3 86,91.6 89,90.9 92,91.3 95,90.2 98,88.9 101,89.5 104,87.3 107,87.9 110,87.5 113,86.4 116,85.4 119,86.5 122,86.3 125,86.5 128,86.0 131,86.3 134,85.6 137,85.3 140,87.6 143,85.6 146,83.2 149,85.7 152,87.2 155,87.9 158,91.9 161,94.3 164,97.0 167,99.1 170,100.8 173,100.9 176,105.4 179,105.8 182,109.4 185,109.1 188,111.1 191,113.3 194,116.6 197,115.0 200,117.8 203,117.4 206,123.3 209,119.8 212,121.9 215,121.9 218,117.2 221,121.7 224,116.7 227,116.6 230,116.6 233,110.9 236,107.1 239,101.2 242,100.8 245,96.3 248,93.7 251,92.7 254,90.7 257,90.1 260,89.5 263,91.6 266,89.2 269,88.9 272,86.3 275,85.5 278,85.0 281,84.5 284,83.4 287,84.8 290,85.2 293,84.3 296,84.0 299,84.9 302,84.9 305,86.0 308,89.0 311,89.3 314,90.2 317,89.1 320,86.3 323,88.3 326,90.7 329,92.0 332,96.1 335,99.6 338,102.5 341,104.9 344,107.6 347,107.7 350,108.6 353,110.6 357,112.9"/><polyline points="35,88.9 38,90.8 41,90.3 44,91.8 47,91.6 50,91.5 53,91.9 56,90.2 59,89.5 62,89.4 65,88.5 68,88.4 71,88.4 74,90.1 77,90.6 80,89.9 83,88.7 86,89.0 89,89.2 92,90.7 95,92.2 98,92.0 101,92.4 104,90.2 107,92.2 110,90.1 113,89.7 116,89.1 119,88.1 122,87.8 125,87.5 128,83.5 131,82.9 134,84.2 137,82.9 140,81.7 143,82.3 146,83.0 149,86.0 152,89.0 155,94.7 158,101.1 161,107.9 164,115.8 167,119.8 170,124.9 173,134.7 176,135.5 179,148.2 182,147.9 185,150.2 188,158.6 191,157.8 194,158.1 197,160.5 200,170.9 203,169.3 206,166.7 209,166.5 212,154.0 215,149.2 218,149.5 221,131.0 224,129.2 227,116.1 230,109.7 233,101.5 236,95.2 239,88.8 242,88.4 245,84.8 248,87.5 251,86.2 254,87.4 257,87.0 260,88.4 263,89.4 266,89.1 269,89.0 272,86.8 275,88.5 278,87.8 281,88.0 284,89.8 287,89.9 290,90.3 293,89.1 296,91.0 299,91.1 302,92.1 305,96.0 308,100.3 311,100.3 314,94.8 317,88.1 320,92.8 323,96.2 326,102.3 329,111.6 332,115.1 335,113.4 338,108.5 341,104.2 344,101.9 347,102.6 350,100.7 353,100.0 357,103.8"/><polyline points="35,96.0 38,95.6 41,95.7 44,94.1 47,94.1 50,94.2 53,94.4 56,95.7 59,93.8 62,94.1 65,93.1 68,92.8 71,92.5 74,91.4 77,90.3 80,90.9 83,92.8 86,93.7 89,93.6 92,94.6 95,92.9 98,90.5 101,89.4 104,88.1 107,87.8 110,87.6 113,86.9 116,88.7 119,88.0 122,89.2 125,90.4 128,91.5 131,92.0 134,90.7 137,89.2 140,87.6 143,84.9 146,83.0 149,83.0 152,86.3 155,89.6 158,96.0 161,100.1 164,107.1 167,112.2 170,116.0 173,122.6 176,131.7 179,137.9 182,147.9 185,148.2 188,152.4 191,146.7 194,150.5 197,139.5 200,137.9 203,139.5 206,133.5 209,125.7 212,126.2 215,120.4 218,114.6 221,110.8 224,104.6 227,100.6 230,97.6 233,96.6 236,94.7 239,93.6 242,93.3 245,93.4 248,93.8 251,94.4 254,93.8 257,93.6 260,94.7 263,94.1 266,91.6 269,91.3 272,89.8 275,89.2 278,89.7 281,89.5 284,90.4 287,91.6 290,92.8 293,94.8 296,95.6 299,96.8 302,96.7 305,96.4 308,93.9 311,93.2 314,94.6 317,94.2 320,95.6 323,94.2 326,92.7 329,91.8 332,90.3 335,92.9 338,97.1 341,103.4 344,106.8 347,110.0 350,105.3 353,97.1 357,94.2"/><polyline points="35,80.5 38,80.2 41,80.2 44,78.7 47,78.2 50,79.1 53,80.2 56,78.1 59,79.8 62,79.4 65,79.9 68,80.6 71,80.1 74,81.9 77,80.3 80,80.4 83,79.9 86,78.6 89,75.3 92,73.8 95,74.7 98,74.0 101,73.7 104,72.5 107,71.1 110,72.4 113,71.9 116,70.9 119,71.5 122,69.7 125,70.5 128,69.4 131,67.8 134,69.1 137,67.5 140,68.4 143,69.0 146,66.4 149,69.4 152,71.5 155,75.8 158,79.5 161,80.4 164,86.1 167,87.3 170,91.5 173,90.7 176,89.4 179,88.8 182,88.6 185,90.7 188,88.2 191,85.3 194,86.7 197,83.8 200,83.9 203,81.3 206,79.7 209,79.9 212,78.9 215,78.6 218,79.3 221,80.4 224,80.4 227,80.7 230,79.4 233,80.1 236,78.9 239,78.1 242,78.7 245,79.4 248,79.4 251,81.1 254,80.8 257,80.7 260,80.1 263,80.4 266,84.2 269,87.0 272,87.0 275,79.9 278,76.5 281,76.4 284,81.6 287,85.0 290,90.6 293,93.6 296,91.2 299,87.4 302,80.5 305,76.6 308,76.9 311,78.9 314,81.1 317,81.9 320,81.8 323,81.6 326,83.7 329,82.4 332,82.8 335,82.4 338,80.8 341,80.7 344,80.1 347,79.9 350,81.0 353,81.1 357,82.9"/><polyline points="35,94.0 38,94.2 41,92.9 44,92.4 47,93.2 50,90.9 53,93.1 56,92.4 59,94.6 62,95.4 65,95.7 68,94.2 71,92.4 74,91.7 77,89.4 80,87.7 83,87.9 86,89.9 89,89.2 92,89.8 95,89.1 98,88.0 101,88.3 104,88.7 107,86.8 110,85.1 113,83.2 116,82.1 119,80.7 122,82.5 125,82.1 128,83.7 131,83.6 134,81.3 137,80.5 140,78.9 143,76.5 146,74.5 149,75.4 152,75.4 155,77.0 158,81.2 161,85.6 164,88.7 167,95.3 170,99.5 173,98.0 176,109.7 179,120.3 182,120.0 185,137.3 188,147.0 191,151.7 194,160.1 197,158.9 200,170.7 203,171.4 206,169.3 209,172.4 212,161.5 215,164.4 218,178.5 221,174.7 224,160.0 227,153.3 230,143.3 233,149.5 236,137.7 239,132.0 242,120.7 245,114.1 248,106.1 251,99.6 254,95.3 257,97.0 260,99.8 263,103.8 266,104.3 269,98.7 272,93.1 275,93.5 278,93.2 281,94.4 284,95.0 287,94.5 290,95.6 293,95.1 296,95.9 299,96.8 302,97.7 305,96.8 308,92.6 311,92.8 314,91.9 317,92.2 320,90.1 323,90.4 326,92.9 329,93.4 332,95.0 335,96.9 338,100.3 341,102.2 344,104.0 347,102.2 350,99.9 353,97.1 357,96.1"/><polyline points="35,93.1 38,93.8 41,94.0 44,93.9 47,92.6 50,91.5 53,91.0 56,89.8 59,89.9 62,89.5 65,88.9 68,88.5 71,87.4 74,87.7 77,88.8 80,87.7 83,86.6 86,87.8 89,88.0 92,87.9 95,89.3 98,87.9 101,87.9 104,85.8 107,86.6 110,86.5 113,86.2 116,85.1 119,84.9 122,82.1 125,82.7 128,82.5 131,80.7 134,77.5 137,78.8 140,77.9 143,78.1 146,78.4 149,81.3 152,83.2 155,85.8 158,91.3 161,93.8 164,97.7 167,98.3 170,103.1 173,111.6 176,114.4 179,117.3 182,122.0 185,125.5 188,138.4 191,139.6 194,148.1 197,140.7 200,150.4 203,152.7 206,145.2 209,145.9 212,143.4 215,150.2 218,145.2 221,136.0 224,138.5 227,129.2 230,128.7 233,124.5 236,118.2 239,117.3 242,110.3 245,103.5 248,100.7 251,97.2 254,92.8 257,90.7 260,88.4 263,88.1 266,87.7 269,87.4 272,86.0 275,86.6 278,85.1 281,86.5 284,87.1 287,89.0 290,91.1 293,91.2 296,91.8 299,93.1 302,93.5 305,91.8 308,93.0 311,94.0 314,94.0 317,94.1 320,93.5 323,96.8 326,97.4 329,100.4 332,104.6 335,102.7 338,101.6 341,100.4 344,102.5 347,104.6 350,105.7 353,106.3 357,109.6"/><polyline points="35,94.4 38,92.8 41,93.1 44,91.5 47,91.1 50,90.3 53,90.9 56,90.8 59,91.6 62,90.8 65,90.5 68,92.4 71,90.7 74,91.3 77,91.5 80,90.6 83,88.3 86,88.3 89,87.9 92,88.0 95,85.8 98,86.3 101,86.2 104,87.2 107,88.4 110,89.0 113,90.9 116,89.9 119,90.3 122,87.9 125,87.2 128,89.4 131,88.1 134,89.2 137,88.8 140,88.7 143,88.0 146,86.9 149,88.5 152,92.6 155,96.1 158,101.8 161,105.8 164,109.6 167,112.1 170,115.3 173,118.3 176,121.5 179,128.6 182,129.4 185,136.9 188,135.6 191,136.3 194,145.7 197,148.8 200,151.7 203,139.6 206,159.4 209,154.4 212,149.2 215,164.5 218,153.6 221,153.0 224,145.0 227,127.9 230,134.3 233,119.9 236,117.3 239,109.6 242,101.4 245,96.5 248,93.1 251,92.7 254,93.7 257,94.2 260,93.5 263,92.9 266,92.2 269,90.5 272,89.7 275,89.0 278,88.8 281,89.8 284,90.1 287,92.4 290,92.8 293,90.5 296,89.0 299,88.3 302,89.0 305,89.2 308,89.4 311,89.5 314,88.0 317,88.6 320,88.7 323,89.8 326,89.8 329,90.4 332,91.2 335,92.8 338,90.2 341,92.2 344,91.2 347,94.0 350,95.3 353,98.7 357,98.0"/><polyline points="35,94.5 38,92.7 41,92.2 44,89.9 47,90.0 50,87.7 53,87.1 56,87.3 59,86.9 62,87.6 65,87.6 68,88.2 71,88.2 74,87.4 77,87.6 80,87.9 83,86.5 86,85.9 89,85.6 92,83.0 95,82.6 98,80.8 101,81.3 104,80.1 107,82.2 110,83.7 113,85.5 116,86.3 119,88.4 122,86.4 125,85.4 128,83.1 131,81.3 134,80.0 137,78.6 140,79.3 143,78.9 146,79.1 149,81.1 152,82.5 155,84.6 158,87.6 161,91.3 164,93.9 167,96.3 170,102.6 173,104.6 176,104.9 179,108.3 182,108.4 185,109.9 188,113.7 191,111.8 194,110.7 197,112.7 200,113.1 203,112.1 206,112.8 209,109.3 212,113.1 215,109.4 218,112.6 221,111.6 224,108.8 227,108.0 230,105.2 233,101.7 236,99.3 239,95.6 242,91.8 245,91.8 248,89.3 251,88.3 254,87.5 257,86.8 260,87.1 263,85.4 266,86.8 269,86.4 272,87.3 275,84.5 278,85.4 281,83.7 284,84.2 287,83.6 290,85.0 293,86.2 296,87.9 299,85.4 302,88.9 305,91.8 308,94.9 311,96.8 314,99.3 317,101.7 320,101.7 323,95.9 326,87.5 329,88.9 332,90.4 335,89.5 338,90.3 341,90.8 344,96.8 347,104.7 350,106.1 353,99.7 357,92.5"/><polyline points="35,91.9 38,92.2 41,91.1 44,92.1 47,91.2 50,91.1 53,90.2 56,90.2 59,90.1 62,88.5 65,90.1 68,90.1 71,89.6 74,89.3 77,88.5 80,89.4 83,89.4 86,88.5 89,88.3 92,89.5 95,88.9 98,86.9 101,87.3 104,88.6 107,87.7 110,86.2 113,87.1 116,86.9 119,86.6 122,86.2 125,86.4 128,86.7 131,87.1 134,87.5 137,88.6 140,87.8 143,85.1 146,83.6 149,86.3 152,88.8 155,93.3 158,98.1 161,103.2 164,109.1 167,117.8 170,117.6 173,121.3 176,130.3 179,133.7 182,136.7 185,133.3 188,141.3 191,142.4 194,122.9 197,141.5 200,144.1 203,137.6 206,132.9 209,137.4 212,139.3 215,129.0 218,132.3 221,122.8 224,118.5 227,114.3 230,111.2 233,103.8 236,100.6 239,97.1 242,92.4 245,89.6 248,88.3 251,89.2 254,91.0 257,91.9 260,92.8 263,92.9 266,92.5 269,91.3 272,89.6 275,88.3 278,88.4 281,86.9 284,86.1 287,84.9 290,85.0 293,86.7 296,87.5 299,89.2 302,88.0 305,88.8 308,88.2 311,87.4 314,87.9 317,87.9 320,89.3 323,90.9 326,95.6 329,95.4 332,98.3 335,99.2 338,101.2 341,102.4 344,103.7 347,107.0 350,108.9 353,109.0 357,112.9"/><polyline points="35,91.2 38,88.7 41,89.5 44,87.4 47,84.5 50,84.8 53,82.9 56,83.7 59,81.9 62,82.5 65,82.2 68,83.5 71,82.9 74,84.6 77,86.4 80,86.4 83,87.0 86,86.8 89,87.4 92,86.9 95,86.3 98,87.2 101,86.4 104,84.8 107,82.7 110,82.2 113,78.5 116,78.8 119,80.6 122,82.6 125,84.5 128,84.7 131,86.9 134,85.6 137,83.8 140,84.6 143,83.2 146,81.5 149,82.0 152,85.6 155,87.9 158,91.2 161,93.0 164,94.4 167,97.8 170,98.7 173,104.1 176,107.8 179,109.0 182,109.5 185,107.0 188,103.9 191,101.3 194,96.0 197,95.1 200,95.6 203,94.3 206,93.8 209,93.6 212,92.8 215,92.3 218,89.4 221,90.3 224,88.2 227,87.8 230,87.3 233,86.6 236,86.2 239,86.8 242,87.9 245,85.7 248,86.1 251,85.4 254,85.4 257,84.1 260,83.5 263,84.2 266,83.1 269,83.1 272,85.0 275,86.0 278,85.8 281,84.0 284,84.0 287,84.5 290,85.4 293,85.5 296,85.2 299,86.4 302,85.8 305,84.2 308,83.2 311,82.7 314,82.1 317,81.8 320,82.3 323,82.7 326,85.4 329,87.4 332,89.6 335,92.7 338,93.8 341,98.0 344,99.7 347,102.8 350,103.7 353,106.0 357,108.1"/><polyline points="35,86.3 38,86.8 41,86.1 44,87.9 47,86.6 50,87.1 53,87.3 56,88.5 59,85.5 62,87.4 65,86.8 68,86.8 71,87.7 74,87.1 77,84.9 80,85.2 83,83.4 86,82.8 89,79.4 92,80.7 95,80.6 98,82.0 101,83.5 104,83.3 107,85.9 110,85.5 113,84.2 116,84.8 119,84.0 122,85.3 125,85.3 128,84.2 131,84.9 134,83.1 137,81.2 140,79.8 143,80.1 146,79.3 149,82.8 152,84.9 155,90.1 158,92.8 161,95.5 164,98.0 167,98.3 170,99.4 173,98.7 176,101.9 179,100.4 182,101.2 185,103.7 188,102.6 191,105.3 194,106.2 197,105.1 200,103.4 203,105.1 206,104.5 209,103.3 212,104.4 215,103.1 218,100.9 221,100.0 224,98.9 227,96.2 230,93.7 233,91.8 236,89.7 239,86.3 242,85.4 245,82.6 248,82.2 251,83.5 254,82.6 257,86.7 260,86.3 263,87.1 266,85.8 269,84.7 272,85.0 275,85.0 278,85.8 281,83.7 284,82.8 287,83.3 290,80.5 293,80.7 296,82.5 299,84.2 302,82.6 305,83.4 308,85.9 311,87.4 314,88.2 317,88.3 320,87.7 323,88.9 326,87.7 329,86.7 332,86.9 335,87.8 338,86.8 341,88.6 344,86.7 347,94.6 350,99.9 353,94.6 357,84.6"/><polyline points="35,86.7 38,86.4 41,87.4 44,86.9 47,85.7 50,83.8 53,83.4 56,84.5 59,81.8 62,82.7 65,82.6 68,85.8 71,82.2 74,82.6 77,81.1 80,82.6 83,82.0 86,82.5 89,82.9 92,84.7 95,85.4 98,85.9 101,83.2 104,83.9 107,84.0 110,83.5 113,79.6 116,81.4 119,79.1 122,78.3 125,74.7 128,73.8 131,73.5 134,74.4 137,75.9 140,77.0 143,80.6 146,80.8 149,81.8 152,82.6 155,86.5 158,85.5 161,88.1 164,90.6 167,95.7 170,105.1 173,108.8 176,122.6 179,117.7 182,121.9 185,133.5 188,136.5 191,155.5 194,154.8 197,151.4 200,160.5 203,163.4 206,185.3 209,170.5 212,170.6 215,171.5 218,165.3 221,159.3 224,149.3 227,148.1 230,143.4 233,130.3 236,131.4 239,122.0 242,116.2 245,113.7 248,109.4 251,100.6 254,94.0 257,88.1 260,85.4 263,83.4 266,83.6 269,84.6 272,82.7 275,84.8 278,85.9 281,86.9 284,86.8 287,85.0 290,85.3 293,82.2 296,83.0 299,82.1 302,81.2 305,80.3 308,79.8 311,82.3 314,83.4 317,84.3 320,85.1 323,86.1 326,86.0 329,85.8 332,84.5 335,85.4 338,84.2 341,85.6 344,85.4 347,86.6 350,87.8 353,87.5 357,89.0"/><polyline points="35,89.1 38,88.7 41,87.1 44,85.6 47,85.0 50,85.1 53,84.7 56,85.5 59,85.6 62,90.3 65,89.6 68,91.5 71,92.7 74,92.3 77,92.1 80,88.9 83,88.7 86,88.0 89,86.9 92,86.3 95,88.0 98,86.7 101,88.7 104,89.3 107,88.5 110,87.5 113,86.8 116,85.2 119,83.5 122,82.1 125,81.9 128,81.6 131,82.3 134,83.7 137,86.3 140,88.7 143,88.5 146,88.7 149,89.2 152,91.8 155,96.4 158,103.4 161,110.2 164,113.7 167,125.9 170,131.8 173,131.9 176,151.4 179,156.0 182,152.8 185,159.8 188,157.3 191,153.0 194,152.1 197,147.4 200,143.7 203,145.5 206,132.8 209,139.0 212,126.2 215,118.5 218,114.2 221,106.6 224,103.0 227,100.6 230,96.1 233,92.4 236,91.8 239,89.9 242,90.1 245,89.9 248,87.9 251,90.1 254,88.7 257,89.6 260,89.4 263,89.9 266,89.2 269,89.6 272,89.1 275,88.2 278,88.4 281,88.2 284,87.1 287,85.1 290,83.2 293,82.1 296,85.9 299,92.3 302,93.8 305,91.1 308,89.2 311,86.5 314,86.0 317,84.5 320,85.6 323,85.6 326,86.6 329,86.3 332,87.9 335,89.7 338,92.6 341,96.7 344,100.2 347,103.1 350,99.2 353,94.4 357,90.9"/><polyline points="35,91.8 38,91.6 41,91.9 44,94.9 47,93.4 50,94.3 53,92.8 56,93.9 59,93.2 62,93.7 65,94.3 68,94.0 71,91.6 74,90.7 77,89.6 80,89.1 83,90.1 86,91.1 89,91.0 92,90.5 95,90.0 98,90.0 101,88.9 104,88.9 107,86.2 110,86.3 113,84.3 116,84.6 119,86.8 122,87.2 125,87.4 128,88.6 131,90.3 134,90.8 137,90.3 140,90.6 143,88.9 146,86.3 149,89.4 152,90.5 155,95.2 158,101.4 161,106.9 164,116.3 167,124.8 170,131.8 173,140.2 176,140.0 179,155.3 182,151.0 185,164.1 188,178.1 191,165.3 194,175.8 197,175.6 200,178.6 203,179.4 206,175.1 209,170.3 212,169.7 215,152.3 218,148.2 221,141.7 224,130.8 227,128.7 230,117.1 233,110.9 236,104.4 239,101.6 242,97.2 245,91.0 248,88.6 251,88.1 254,87.9 257,86.8 260,87.6 263,88.8 266,88.5 269,91.2 272,91.0 275,91.6 278,90.5 281,90.9 284,87.2 287,85.7 290,84.8 293,85.3 296,85.1 299,86.2 302,86.9 305,85.6 308,84.5 311,84.5 314,84.2 317,85.5 320,86.4 323,87.7 326,91.5 329,91.0 332,92.6 335,93.5 338,96.0 341,94.1 344,94.3 347,91.5 350,90.9 353,91.3 357,90.5"/><polyline points="35,90.9 38,90.3 41,89.3 44,91.2 47,92.5 50,92.9 53,92.8 56,93.6 59,95.2 62,94.0 65,93.7 68,95.4 71,95.0 74,94.1 77,94.5 80,94.6 83,92.9 86,92.2 89,92.4 92,91.7 95,91.7 98,93.0 101,92.5 104,92.5 107,91.6 110,91.2 113,90.7 116,91.7 119,92.4 122,89.3 125,90.0 128,88.6 131,87.2 134,87.1 137,89.1 140,89.5 143,90.8 146,91.4 149,94.7 152,93.5 155,97.7 158,103.8 161,105.8 164,113.3 167,115.0 170,121.0 173,129.2 176,133.3 179,135.4 182,145.9 185,152.8 188,151.4 191,155.1 194,156.3 197,164.9 200,163.2 203,166.7 206,171.9 209,162.9 212,159.3 215,155.7 218,157.3 221,144.3 224,138.1 227,129.4 230,124.4 233,115.2 236,107.9 239,103.2 242,97.5 245,96.9 248,98.7 251,96.3 254,97.5 257,98.5 260,96.2 263,96.7 266,94.4 269,96.6 272,95.5 275,94.9 278,93.9 281,93.5 284,92.3 287,91.1 290,89.7 293,89.9 296,90.6 299,91.0 302,90.9 305,90.5 308,91.2 311,90.6 314,91.3 317,92.2 320,93.7 323,96.1 326,97.9 329,98.4 332,96.0 335,95.9 338,94.5 341,94.7 344,94.7 347,97.2 350,100.2 353,101.9 357,106.1"/><polyline points="35,88.7 38,86.8 41,88.9 44,89.3 47,87.8 50,89.2 53,89.7 56,89.1 59,89.3 62,88.6 65,87.6 68,84.5 71,83.3 74,80.8 77,80.0 80,78.8 83,78.8 86,78.9 89,80.3 92,81.1 95,81.8 98,82.6 101,85.9 104,86.2 107,85.2 110,85.0 113,83.2 116,83.0 119,83.2 122,85.0 125,86.0 128,84.5 131,83.5 134,83.7 137,82.6 140,81.7 143,79.8 146,80.8 149,82.8 152,85.2 155,88.6 158,90.3 161,94.2 164,95.0 167,96.9 170,99.9 173,100.3 176,103.4 179,104.0 182,102.5 185,101.7 188,102.5 191,101.1 194,99.0 197,98.2 200,95.7 203,93.2 206,92.1 209,89.2 212,87.4 215,87.7 218,86.7 221,85.9 224,86.9 227,86.4 230,85.4 233,85.1 236,84.1 239,84.9 242,84.7 245,84.7 248,81.9 251,82.7 254,83.4 257,81.5 260,82.5 263,83.5 266,83.5 269,85.7 272,86.6 275,86.0 278,83.7 281,82.5 284,82.5 287,83.7 290,83.5 293,84.8 296,84.7 299,83.7 302,83.8 305,85.3 308,86.0 311,86.2 314,88.2 317,87.9 320,88.3 323,88.0 326,87.5 329,84.6 332,85.8 335,85.6 338,90.4 341,96.1 344,103.0 347,97.3 350,92.9 353,89.3 357,83.3"/><polyline points="35,93.5 38,93.5 41,94.6 44,96.7 47,97.9 50,98.9 53,99.6 56,98.6 59,95.8 62,95.5 65,96.3 68,94.9 71,94.6 74,93.8 77,91.5 80,91.3 83,89.6 86,88.2 89,89.0 92,89.8 95,88.4 98,87.3 101,87.6 104,87.1 107,86.5 110,89.0 113,90.7 116,90.4 119,90.9 122,90.5 125,89.6 128,89.1 131,88.7 134,88.3 137,87.9 140,87.7 143,86.3 146,85.7 149,88.7 152,92.4 155,99.1 158,106.1 161,112.0 164,116.9 167,120.3 170,122.6 173,136.7 176,138.2 179,146.9 182,154.0 185,149.3 188,162.7 191,157.3 194,163.9 197,173.1 200,161.2 203,167.5 206,166.4 209,166.4 212,150.3 215,143.7 218,129.1 221,117.8 224,113.4 227,107.4 230,100.8 233,96.1 236,94.7 239,93.2 242,93.6 245,92.4 248,93.4 251,92.5 254,95.7 257,100.0 260,103.0 263,105.2 266,101.2 269,96.4 272,93.1 275,88.8 278,88.1 281,90.1 284,90.4 287,91.5 290,92.0 293,90.1 296,91.8 299,91.8 302,91.5 305,91.6 308,91.4 311,89.4 314,89.3 317,90.1 320,91.1 323,91.6 326,93.4 329,94.7 332,94.2 335,96.2 338,95.1 341,96.2 344,93.8 347,92.6 350,91.3 353,91.4 357,91.5"/><polyline points="35,88.0 38,88.0 41,88.7 44,87.8 47,88.8 50,89.9 53,88.9 56,87.8 59,88.7 62,87.4 65,88.2 68,87.9 71,87.1 74,87.5 77,88.5 80,86.0 83,85.8 86,87.3 89,85.3 92,85.2 95,84.4 98,83.9 101,84.4 104,83.3 107,83.3 110,83.9 113,84.7 116,85.8 119,85.5 122,86.7 125,87.2 128,86.0 131,85.1 134,82.9 137,80.6 140,81.3 143,80.3 146,82.0 149,83.8 152,87.6 155,93.0 158,97.7 161,101.7 164,104.6 167,106.4 170,108.9 173,118.6 176,118.1 179,126.5 182,129.7 185,129.9 188,131.9 191,144.6 194,136.5 197,135.2 200,151.2 203,140.2 206,140.2 209,141.8 212,140.0 215,126.9 218,126.4 221,129.1 224,124.0 227,118.4 230,118.5 233,111.5 236,109.9 239,104.8 242,100.6 245,97.7 248,95.7 251,92.8 254,90.5 257,89.0 260,87.7 263,88.8 266,88.2 269,87.8 272,87.2 275,87.1 278,84.8 281,84.7 284,85.6 287,84.9 290,86.7 293,86.2 296,86.6 299,86.4 302,87.2 305,88.5 308,88.0 311,86.3 314,86.2 317,86.7 320,85.7 323,87.1 326,88.5 329,88.7 332,90.5 335,91.3 338,91.9 341,92.2 344,90.8 347,92.4 350,91.3 353,91.0 357,90.0"/><polyline points="35,91.5 38,90.7 41,90.2 44,87.7 47,87.5 50,87.6 53,85.8 56,86.9 59,85.8 62,84.8 65,83.8 68,84.4 71,83.6 74,83.9 77,84.8 80,82.5 83,85.1 86,86.1 89,84.9 92,85.2 95,86.1 98,87.1 101,87.9 104,85.1 107,82.9 110,84.3 113,83.4 116,82.8 119,82.2 122,80.6 125,82.2 128,81.6 131,82.3 134,81.6 137,81.3 140,80.5 143,82.8 146,81.6 149,82.5 152,83.8 155,83.9 158,85.1 161,84.5 164,88.1 167,90.4 170,90.8 173,92.2 176,94.1 179,94.5 182,96.1 185,95.9 188,97.6 191,98.5 194,98.4 197,96.2 200,94.9 203,97.0 206,100.5 209,98.9 212,98.0 215,100.8 218,99.1 221,98.0 224,93.9 227,93.1 230,92.9 233,91.3 236,90.3 239,89.0 242,88.9 245,88.5 248,88.1 251,87.6 254,87.5 257,87.1 260,87.8 263,87.7 266,85.5 269,86.3 272,85.5 275,84.0 278,86.8 281,87.0 284,90.0 287,89.7 290,91.4 293,90.7 296,88.4 299,86.5 302,86.3 305,83.3 308,82.8 311,83.5 314,83.5 317,85.0 320,86.8 323,86.2 326,86.7 329,85.6 332,84.4 335,86.8 338,87.5 341,88.6 344,88.5 347,87.7 350,86.6 353,85.9 357,84.3"/><polyline points="35,90.6 38,89.2 41,89.1 44,91.2 47,92.2 50,91.5 53,93.5 56,92.7 59,92.3 62,91.5 65,91.7 68,90.0 71,88.2 74,87.5 77,87.6 80,87.7 83,90.0 86,88.9 89,91.1 92,93.6 95,93.4 98,93.8 101,91.9 104,91.2 107,92.5 110,91.2 113,91.7 116,89.7 119,88.8 122,88.1 125,85.7 128,85.3 131,86.8 134,86.4 137,86.4 140,87.4 143,86.1 146,86.6 149,87.4 152,89.5 155,93.0 158,96.8 161,97.5 164,98.1 167,102.7 170,103.8 173,105.5 176,108.3 179,105.4 182,112.6 185,110.4 188,112.0 191,114.9 194,114.4 197,117.1 200,114.0 203,117.1 206,116.7 209,116.0 212,117.2 215,118.5 218,120.3 221,117.8 224,119.4 227,113.8 230,109.5 233,107.4 236,102.3 239,101.0 242,96.5 245,93.5 248,90.5 251,89.4 254,89.4 257,88.8 260,88.3 263,87.3 266,87.3 269,89.2 272,88.7 275,89.0 278,90.8 281,91.3 284,88.2 287,88.9 290,86.0 293,86.6 296,86.7 299,87.4 302,88.0 305,88.1 308,87.7 311,87.8 314,88.8 317,88.5 320,90.9 323,89.9 326,90.0 329,90.9 332,92.2 335,90.4 338,90.5 341,90.8 344,89.4 347,90.0 350,90.1 353,90.9 357,91.9"/><polyline points="35,95.4 38,95.7 41,94.8 44,93.5 47,94.8 50,94.6 53,95.9 56,95.5 59,96.5 62,97.2 65,95.9 68,94.3 71,93.7 74,92.5 77,91.8 80,91.8 83,92.2 86,92.4 89,94.7 92,95.9 95,94.9 98,95.1 101,96.6 104,94.9 107,94.3 110,93.7 113,93.0 116,92.8 119,93.6 122,91.6 125,92.3 128,91.6 131,89.1 134,88.2 137,89.4 140,88.0 143,88.5 146,90.0 149,90.8 152,97.7 155,109.3 158,123.1 161,131.1 164,143.2 167,151.4 170,161.0 173,161.3 176,153.4 179,155.2 182,147.2 185,160.1 188,139.4 191,139.9 194,129.5 197,123.2 200,118.7 203,113.0 206,103.4 209,100.9 212,95.1 215,92.6 218,91.5 221,91.7 224,91.9 227,92.5 230,94.4 233,94.0 236,94.5 239,95.6 242,92.5 245,92.4 248,92.0 251,92.0 254,93.1 257,92.4 260,93.7 263,95.3 266,93.8 269,95.7 272,95.7 275,95.5 278,92.4 281,91.4 284,87.1 287,84.8 290,84.1 293,84.1 296,85.9 299,86.8 302,88.8 305,89.9 308,91.9 311,92.9 314,94.0 317,93.7 320,92.9 323,96.5 326,101.0 329,106.3 332,112.0 335,109.8 338,109.1 341,108.5 344,110.4 347,113.7 350,115.0 353,119.0 357,121.6"/><polyline points="35,93.0 38,91.2 41,94.1 44,92.6 47,92.2 50,92.1 53,90.9 56,89.8 59,88.6 62,89.8 65,88.6 68,90.0 71,91.7 74,88.8 77,90.3 80,90.7 83,89.8 86,91.0 89,91.1 92,90.4 95,89.6 98,88.2 101,88.7 104,88.5 107,90.2 110,88.3 113,86.6 116,84.5 119,83.3 122,78.9 125,79.4 128,78.4 131,76.9 134,77.0 137,75.5 140,76.8 143,77.6 146,80.1 149,87.2 152,97.0 155,106.6 158,116.1 161,124.2 164,138.9 167,135.2 170,144.9 173,146.8 176,138.0 179,140.5 182,141.0 185,141.9 188,132.2 191,136.6 194,124.4 197,114.6 200,106.8 203,99.1 206,93.5 209,87.9 212,85.1 215,86.3 218,86.2 221,86.9 224,87.5 227,88.6 230,87.9 233,87.6 236,87.0 239,88.1 242,88.7 245,90.4 248,90.5 251,90.9 254,90.7 257,90.0 260,89.2 263,89.8 266,88.4 269,86.2 272,87.8 275,89.1 278,89.9 281,90.2 284,90.8 287,92.3 290,90.5 293,89.3 296,87.7 299,86.9 302,88.3 305,86.9 308,87.7 311,88.6 314,88.9 317,89.3 320,89.0 323,89.4 326,90.7 329,89.6 332,89.3 335,89.7 338,91.3 341,91.4 344,93.4 347,93.2 350,94.4 353,94.4 357,93.7"/><polyline points="35,88.9 38,87.9 41,87.5 44,87.7 47,86.7 50,86.9 53,87.8 56,87.4 59,88.4 62,86.2 65,85.7 68,87.5 71,86.2 74,87.8 77,87.4 80,88.2 83,88.1 86,86.6 89,84.3 92,84.3 95,84.9 98,84.5 101,86.2 104,86.0 107,85.8 110,84.1 113,83.7 116,82.1 119,82.0 122,82.8 125,81.7 128,81.6 131,80.4 134,80.2 137,79.5 140,80.2 143,79.3 146,79.7 149,81.5 152,87.8 155,97.6 158,113.6 161,122.2 164,130.4 167,138.2 170,133.9 173,134.3 176,129.5 179,126.8 182,115.5 185,111.8 188,108.0 191,100.8 194,94.4 197,90.1 200,89.8 203,89.7 206,88.1 209,87.6 212,87.6 215,87.7 218,86.8 221,86.6 224,87.1 227,87.2 230,86.3 233,84.9 236,85.7 239,84.4 242,83.4 245,85.5 248,86.3 251,86.7 254,85.4 257,85.3 260,88.8 263,86.8 266,86.8 269,87.4 272,90.2 275,92.6 278,91.2 281,89.7 284,87.6 287,87.1 290,86.8 293,89.1 296,87.5 299,85.6 302,85.2 305,87.3 308,88.5 311,91.0 314,89.8 317,88.6 320,88.3 323,86.6 326,87.1 329,88.6 332,90.0 335,90.9 338,94.0 341,96.8 344,98.0 347,95.1 350,92.2 353,90.6 357,89.4"/><polyline points="35,92.9 38,92.7 41,90.7 44,90.5 47,89.3 50,88.8 53,87.3 56,87.1 59,87.9 62,88.6 65,86.6 68,87.1 71,86.5 74,86.5 77,87.4 80,86.4 83,85.5 86,85.8 89,84.4 92,86.1 95,86.0 98,84.5 101,85.6 104,84.7 107,86.0 110,85.8 113,87.6 116,86.8 119,86.5 122,86.5 125,84.6 128,84.5 131,82.9 134,82.6 137,84.6 140,81.6 143,84.4 146,83.7 149,86.3 152,86.4 155,90.2 158,93.5 161,99.6 164,103.6 167,108.2 170,110.2 173,117.1 176,129.5 179,129.7 182,137.2 185,142.6 188,144.3 191,154.1 194,150.9 197,145.5 200,157.7 203,145.3 206,142.6 209,138.9 212,132.1 215,124.9 218,122.0 221,118.5 224,117.7 227,107.8 230,104.0 233,96.0 236,92.4 239,90.1 242,90.4 245,89.7 248,90.9 251,90.8 254,89.2 257,92.0 260,89.6 263,88.4 266,87.5 269,87.9 272,88.6 275,89.3 278,89.0 281,89.4 284,89.0 287,90.0 290,90.7 293,88.9 296,88.6 299,87.3 302,87.2 305,84.0 308,84.6 311,87.0 314,85.4 317,89.5 320,88.3 323,89.3 326,90.3 329,94.1 332,102.4 335,104.3 338,102.9 341,100.9 344,98.6 347,96.9 350,96.9 353,99.3 357,100.4"/><polyline points="35,86.6 38,87.6 41,85.7 44,85.4 47,82.4 50,83.3 53,83.2 56,83.3 59,83.6 62,83.3 65,84.5 68,85.8 71,85.6 74,84.6 77,84.5 80,82.9 83,82.4 86,80.4 89,80.0 92,78.9 95,78.6 98,81.0 101,80.1 104,82.2 107,83.6 110,84.5 113,85.2 116,83.9 119,83.0 122,82.6 125,81.5 128,82.3 131,83.5 134,82.6 137,81.4 140,81.3 143,80.4 146,79.3 149,82.4 152,84.7 155,87.5 158,91.0 161,92.6 164,93.7 167,94.2 170,94.2 173,93.9 176,93.3 179,94.8 182,95.1 185,97.5 188,97.0 191,97.4 194,98.8 197,97.4 200,96.4 203,97.0 206,94.5 209,90.7 212,89.3 215,88.7 218,85.9 221,86.4 224,87.3 227,87.1 230,86.9 233,86.5 236,84.7 239,82.9 242,82.8 245,82.1 248,83.5 251,86.1 254,86.8 257,86.2 260,85.2 263,84.3 266,83.4 269,81.8 272,82.3 275,84.1 278,83.2 281,85.8 284,85.9 287,85.9 290,85.7 293,85.6 296,85.4 299,84.6 302,84.9 305,84.6 308,84.3 311,86.5 314,91.4 317,95.3 320,97.2 323,93.9 326,92.2 329,88.6 332,88.4 335,87.0 338,85.1 341,85.3 344,85.9 347,85.0 350,86.0 353,87.3 357,88.2"/><polyline points="35,80.4 38,83.8 41,84.6 44,84.2 47,83.6 50,80.9 53,79.1 56,78.6 59,78.0 62,78.4 65,80.0 68,79.3 71,81.6 74,81.7 77,80.2 80,80.4 83,78.7 86,78.9 89,78.7 92,78.3 95,79.2 98,78.3 101,78.1 104,75.4 107,75.6 110,74.9 113,74.2 116,76.7 119,77.0 122,78.3 125,80.2 128,79.1 131,80.1 134,76.9 137,78.0 140,76.3 143,73.8 146,72.8 149,76.2 152,78.2 155,86.9 158,97.0 161,103.6 164,116.1 167,123.2 170,138.8 173,149.9 176,141.1 179,157.9 182,158.4 185,165.2 188,154.3 191,156.9 194,146.4 197,154.4 200,159.3 203,143.1 206,145.3 209,140.1 212,127.6 215,126.6 218,119.3 221,118.2 224,107.3 227,104.7 230,96.9 233,94.3 236,89.6 239,83.8 242,83.5 245,81.1 248,80.5 251,80.1 254,80.5 257,79.0 260,79.0 263,77.9 266,79.8 269,78.4 272,78.2 275,78.0 278,78.4 281,78.1 284,76.8 287,78.3 290,76.9 293,78.1 296,78.9 299,80.0 302,77.9 305,77.9 308,76.8 311,78.4 314,78.7 317,82.4 320,81.5 323,80.4 326,80.8 329,79.4 332,78.4 335,79.5 338,78.6 341,81.7 344,82.7 347,81.7 350,82.3 353,80.3 357,81.4"/><polyline points="35,85.8 38,87.6 41,86.7 44,86.8 47,88.6 50,88.5 53,87.6 56,88.3 59,88.0 62,87.0 65,86.3 68,85.7 71,85.4 74,84.5 77,86.8 80,88.9 83,88.8 86,89.6 89,90.0 92,89.2 95,87.2 98,85.9 101,84.2 104,83.4 107,84.6 110,85.5 113,86.1 116,85.7 119,84.9 122,85.2 125,84.7 128,83.5 131,82.6 134,81.7 137,80.0 140,79.9 143,79.4 146,79.3 149,84.6 152,87.9 155,93.5 158,98.8 161,103.9 164,109.2 167,115.2 170,118.4 173,122.6 176,129.6 179,131.9 182,135.7 185,131.5 188,129.7 191,141.0 194,130.7 197,129.1 200,122.1 203,120.1 206,116.7 209,111.9 212,105.5 215,101.0 218,97.3 221,92.4 224,87.9 227,88.1 230,85.5 233,85.9 236,85.7 239,85.9 242,86.1 245,87.2 248,87.6 251,90.3 254,90.8 257,90.4 260,88.9 263,87.4 266,86.5 269,86.0 272,85.6 275,91.0 278,98.6 281,103.2 284,99.3 287,95.5 290,91.9 293,87.3 296,86.6 299,84.9 302,86.0 305,85.0 308,87.0 311,84.7 314,86.0 317,85.9 320,87.0 323,87.6 326,88.1 329,90.1 332,93.0 335,99.8 338,107.4 341,105.6 344,103.7 347,101.7 350,100.2 353,99.9 357,103.9"/><polyline points="35,90.7 38,90.3 41,90.7 44,90.5 47,91.1 50,90.5 53,89.8 56,89.2 59,87.4 62,87.2 65,89.4 68,87.1 71,86.7 74,88.0 77,85.8 80,83.1 83,82.2 86,82.7 89,83.6 92,84.6 95,84.5 98,83.8 101,85.0 104,84.2 107,85.6 110,86.7 113,87.6 116,84.6 119,83.4 122,83.7 125,83.3 128,83.2 131,82.3 134,82.4 137,82.2 140,81.3 143,81.3 146,83.1 149,86.1 152,88.7 155,94.0 158,101.9 161,105.4 164,114.5 167,119.1 170,127.5 173,135.6 176,136.2 179,149.5 182,154.3 185,147.9 188,152.4 191,144.9 194,155.6 197,137.9 200,133.7 203,120.7 206,113.2 209,106.6 212,96.7 215,92.2 218,87.3 221,86.8 224,89.3 227,89.7 230,92.4 233,91.3 236,90.3 239,89.9 242,89.1 245,88.7 248,88.4 251,88.8 254,90.4 257,88.1 260,88.6 263,85.6 266,85.4 269,83.4 272,83.3 275,81.2 278,80.6 281,79.8 284,80.3 287,80.9 290,81.5 293,81.3 296,81.9 299,82.1 302,81.1 305,82.7 308,82.0 311,83.1 314,83.2 317,84.1 320,85.3 323,86.1 326,89.4 329,93.1 332,95.6 335,99.5 338,105.4 341,110.5 344,116.9 347,115.0 350,110.8 353,105.8 357,105.4"/><polyline points="35,87.9 38,89.5 41,92.2 44,93.0 47,92.2 50,91.5 53,91.4 56,90.6 59,91.4 62,89.3 65,90.5 68,89.2 71,87.7 74,85.7 77,86.1 80,84.8 83,85.0 86,85.9 89,85.5 92,84.6 95,82.6 98,82.3 101,84.1 104,84.7 107,85.9 110,87.6 113,88.0 116,89.0 119,87.6 122,87.9 125,87.2 128,88.5 131,86.2 134,86.0 137,86.3 140,85.5 143,83.4 146,83.7 149,85.5 152,88.2 155,88.9 158,91.8 161,94.1 164,96.7 167,100.1 170,102.6 173,106.9 176,107.7 179,111.7 182,111.5 185,110.7 188,107.0 191,104.9 194,101.7 197,99.6 200,99.0 203,94.0 206,91.8 209,90.4 212,89.9 215,89.1 218,89.2 221,90.2 224,91.4 227,89.7 230,88.2 233,87.6 236,87.0 239,84.1 242,83.4 245,85.0 248,83.1 251,85.1 254,87.4 257,87.3 260,87.8 263,88.5 266,88.6 269,86.7 272,85.8 275,83.9 278,83.3 281,82.4 284,82.0 287,83.2 290,84.8 293,86.7 296,86.4 299,85.9 302,86.3 305,87.2 308,86.0 311,85.3 314,82.9 317,84.8 320,83.7 323,84.1 326,85.0 329,86.5 332,85.6 335,88.2 338,86.5 341,88.1 344,86.3 347,85.4 350,85.3 353,86.1 357,87.5"/><polyline points="35,90.8 38,89.5 41,89.1 44,88.5 47,89.0 50,88.5 53,91.3 56,90.6 59,91.3 62,90.5 65,87.2 68,87.1 71,86.1 74,84.6 77,84.1 80,82.0 83,82.8 86,81.9 89,81.0 92,78.7 95,80.1 98,77.9 101,79.6 104,79.2 107,77.9 110,78.2 113,80.0 116,81.5 119,81.7 122,82.4 125,83.2 128,85.3 131,85.7 134,85.2 137,87.6 140,87.5 143,86.4 146,84.8 149,85.2 152,83.8 155,83.9 158,88.0 161,89.3 164,93.2 167,95.2 170,100.7 173,109.0 176,108.0 179,110.0 182,110.1 185,116.1 188,117.8 191,121.0 194,116.5 197,118.9 200,116.2 203,111.2 206,106.8 209,103.2 212,95.5 215,88.3 218,82.8 221,81.3 224,81.9 227,85.0 230,85.2 233,84.8 236,84.3 239,83.9 242,84.8 245,84.3 248,83.6 251,85.2 254,84.1 257,85.1 260,84.8 263,84.0 266,83.7 269,84.4 272,83.9 275,82.7 278,80.6 281,80.2 284,81.2 287,82.8 290,84.4 293,85.3 296,85.4 299,86.7 302,86.3 305,85.7 308,85.8 311,86.9 314,88.5 317,88.3 320,86.0 323,86.1 326,88.9 329,89.2 332,92.4 335,95.1 338,97.7 341,98.2 344,101.6 347,102.3 350,106.1 353,107.2 357,109.2"/><polyline points="35,94.8 38,94.1 41,95.0 44,96.4 47,94.8 50,93.8 53,93.0 56,92.8 59,92.6 62,90.8 65,90.4 68,90.6 71,91.3 74,90.7 77,90.0 80,90.9 83,90.6 86,89.4 89,88.8 92,87.5 95,87.3 98,87.2 101,89.0 104,88.2 107,89.5 110,89.9 113,90.2 116,91.7 119,90.1 122,90.1 125,89.2 128,88.0 131,88.0 134,88.5 137,87.6 140,88.3 143,86.8 146,87.3 149,90.7 152,96.9 155,109.4 158,116.2 161,118.9 164,129.5 167,132.8 170,135.4 173,127.2 176,129.1 179,123.9 182,121.9 185,117.1 188,115.5 191,107.9 194,105.8 197,99.3 200,98.0 203,95.1 206,91.7 209,87.8 212,91.4 215,90.4 218,88.0 221,88.5 224,89.4 227,88.6 230,89.9 233,91.8 236,93.6 239,93.8 242,93.9 245,92.7 248,90.6 251,88.6 254,86.6 257,85.6 260,87.1 263,87.1 266,86.1 269,88.3 272,86.6 275,87.8 278,86.9 281,88.2 284,88.7 287,88.9 290,88.8 293,89.5 296,98.4 299,113.0 302,113.7 305,105.3 308,95.5 311,87.3 314,89.6 317,89.8 320,90.2 323,91.1 326,92.7 329,94.4 332,98.4 335,104.9 338,110.5 341,108.6 344,102.8 347,96.0 350,91.1 353,89.3 357,90.8"/><polyline points="35,92.0 38,92.3 41,93.1 44,92.0 47,93.2 50,92.0 53,91.1 56,89.7 59,87.3 62,87.5 65,87.4 68,85.5 71,86.3 74,88.9 77,87.4 80,89.6 83,90.6 86,92.1 89,91.1 92,91.2 95,91.3 98,90.8 101,89.3 104,88.8 107,88.6 110,88.5 113,89.3 116,89.5 119,89.0 122,87.3 125,88.4 128,86.6 131,84.2 134,83.6 137,82.4 140,83.0 143,84.1 146,86.6 149,88.0 152,92.8 155,96.4 158,101.1 161,103.9 164,107.9 167,114.0 170,117.7 173,125.7 176,122.2 179,130.9 182,132.1 185,134.3 188,140.1 191,148.7 194,153.8 197,137.0 200,152.9 203,141.8 206,143.4 209,139.9 212,133.7 215,135.7 218,129.9 221,115.4 224,113.3 227,106.6 230,98.0 233,92.9 236,91.0 239,90.2 242,90.2 245,91.2 248,92.2 251,93.5 254,95.0 257,97.7 260,99.3 263,96.4 266,95.1 269,93.7 272,91.2 275,92.5 278,93.5 281,92.9 284,94.6 287,96.5 290,96.0 293,95.2 296,97.4 299,96.1 302,95.5 305,93.6 308,92.0 311,92.4 314,92.5 317,96.1 320,100.2 323,102.8 326,100.5 329,96.4 332,93.0 335,89.4 338,87.9 341,89.7 344,88.3 347,89.2 350,89.1 353,91.1 357,93.4"/><polyline points="35,88.8 38,87.9 41,89.0 44,87.2 47,88.6 50,87.2 53,87.1 56,87.9 59,89.0 62,90.1 65,91.6 68,92.0 71,92.6 74,92.6 77,93.3 80,92.8 83,94.0 86,92.6 89,93.4 92,93.9 95,94.2 98,91.2 101,91.0 104,90.6 107,87.7 110,88.7 113,86.3 116,87.3 119,86.3 122,86.0 125,86.1 128,87.0 131,85.9 134,88.4 137,89.0 140,86.9 143,87.8 146,87.9 149,91.3 152,96.0 155,101.6 158,106.6 161,114.4 164,117.7 167,115.1 170,116.4 173,113.9 176,116.9 179,115.9 182,119.8 185,110.7 188,111.4 191,103.5 194,98.8 197,95.5 200,93.0 203,91.5 206,94.7 209,95.2 212,93.5 215,92.2 218,90.6 221,89.1 224,90.0 227,90.2 230,91.2 233,91.9 236,92.8 239,91.2 242,91.7 245,91.5 248,92.0 251,90.9 254,92.3 257,91.2 260,89.7 263,90.7 266,94.8 269,100.6 272,105.6 275,101.1 278,95.7 281,93.5 284,94.7 287,97.5 290,98.6 293,94.6 296,92.4 299,90.1 302,90.9 305,93.4 308,95.7 311,93.1 314,92.1 317,90.4 320,88.7 323,88.0 326,87.7 329,89.4 332,91.4 335,91.1 338,92.1 341,92.1 344,92.6 347,91.5 350,92.2 353,92.5 357,92.1"/><polyline points="35,88.1 38,88.7 41,88.3 44,89.0 47,87.6 50,89.2 53,88.1 56,89.3 59,90.0 62,89.1 65,88.2 68,88.4 71,86.1 74,87.2 77,88.7 80,88.2 83,87.6 86,88.8 89,90.4 92,91.0 95,90.9 98,91.4 101,90.2 104,89.7 107,89.7 110,87.1 113,89.6 116,87.2 119,87.4 122,85.0 125,84.6 128,83.3 131,82.5 134,82.0 137,82.0 140,83.6 143,83.9 146,84.8 149,84.0 152,85.1 155,89.6 158,95.0 161,96.4 164,99.1 167,107.8 170,111.6 173,118.5 176,114.8 179,125.4 182,127.2 185,134.9 188,143.0 191,136.9 194,144.0 197,145.1 200,133.7 203,139.3 206,134.3 209,127.8 212,123.9 215,115.4 218,106.7 221,100.3 224,95.7 227,91.2 230,90.3 233,90.3 236,89.4 239,90.4 242,91.4 245,90.1 248,88.6 251,86.4 254,83.5 257,84.5 260,87.4 263,92.6 266,92.7 269,93.6 272,90.2 275,88.8 278,85.9 281,85.2 284,84.9 287,84.0 290,82.9 293,87.1 296,92.2 299,98.6 302,99.7 305,96.6 308,94.6 311,92.4 314,90.1 317,88.4 320,86.9 323,86.4 326,84.9 329,85.9 332,86.5 335,88.2 338,94.0 341,96.9 344,99.9 347,96.7 350,94.7 353,90.8 357,91.4"/><polyline points="35,90.9 38,89.9 41,87.7 44,86.2 47,86.8 50,86.4 53,88.8 56,87.5 59,86.1 62,87.8 65,87.3 68,87.6 71,88.0 74,88.9 77,89.6 80,91.3 83,90.9 86,89.9 89,87.9 92,87.1 95,83.7 98,82.6 101,83.6 104,82.9 107,83.1 110,83.6 113,84.3 116,84.6 119,84.4 122,84.9 125,82.6 128,83.7 131,84.2 134,84.1 137,82.7 140,81.5 143,81.6 146,81.6 149,82.8 152,85.2 155,91.1 158,96.2 161,101.7 164,111.4 167,114.1 170,121.6 173,122.1 176,134.8 179,151.1 182,157.5 185,141.7 188,165.3 191,158.9 194,154.0 197,168.6 200,167.5 203,166.1 206,161.7 209,162.8 212,149.9 215,148.1 218,148.6 221,132.8 224,122.0 227,124.5 230,114.3 233,106.0 236,103.4 239,97.3 242,93.4 245,89.8 248,88.7 251,85.7 254,85.7 257,84.9 260,86.4 263,90.1 266,90.9 269,94.4 272,92.9 275,87.8 278,87.4 281,83.2 284,84.9 287,86.3 290,89.8 293,89.6 296,91.7 299,92.0 302,91.2 305,91.1 308,90.8 311,91.0 314,89.8 317,89.4 320,88.6 323,89.7 326,90.5 329,90.8 332,90.2 335,92.7 338,94.9 341,97.3 344,98.3 347,98.7 350,101.3 353,100.1 357,100.8"/><polyline points="35,92.1 38,92.9 41,91.1 44,91.9 47,89.4 50,88.6 53,89.2 56,91.4 59,91.1 62,91.6 65,91.0 68,92.0 71,91.4 74,91.9 77,92.6 80,92.6 83,91.7 86,91.0 89,90.5 92,88.4 95,87.1 98,86.4 101,85.9 104,85.8 107,85.9 110,84.6 113,85.3 116,83.8 119,86.0 122,87.9 125,87.4 128,88.4 131,88.2 134,87.9 137,87.7 140,85.8 143,86.5 146,88.6 149,89.3 152,92.6 155,94.3 158,99.6 161,102.8 164,111.2 167,113.0 170,120.4 173,127.8 176,131.8 179,156.9 182,154.2 185,170.6 188,170.0 191,165.8 194,185.1 197,184.3 200,198.6 203,188.2 206,180.6 209,185.7 212,179.3 215,171.0 218,173.6 221,178.4 224,163.2 227,166.9 230,163.6 233,149.1 236,139.0 239,136.3 242,126.3 245,122.2 248,116.6 251,109.2 254,103.4 257,98.2 260,97.2 263,95.0 266,92.1 269,90.1 272,89.2 275,89.1 278,90.2 281,90.8 284,89.1 287,88.1 290,87.0 293,86.7 296,86.7 299,87.3 302,88.6 305,89.0 308,89.6 311,87.0 314,86.5 317,84.9 320,84.5 323,86.2 326,87.6 329,90.1 332,91.0 335,93.1 338,94.9 341,96.2 344,97.0 347,98.6 350,98.4 353,101.0 357,102.2"/><polyline points="35,86.1 38,84.8 41,86.7 44,86.8 47,87.9 50,87.9 53,89.4 56,89.9 59,89.4 62,90.1 65,90.8 68,89.5 71,90.3 74,90.1 77,88.6 80,86.9 83,87.3 86,88.0 89,87.5 92,86.7 95,88.2 98,87.2 101,86.7 104,85.5 107,83.7 110,82.4 113,80.9 116,81.0 119,82.8 122,82.9 125,83.8 128,83.4 131,83.4 134,84.7 137,83.9 140,83.5 143,84.6 146,83.2 149,86.0 152,87.0 155,91.2 158,97.3 161,101.3 164,105.3 167,108.6 170,119.8 173,121.5 176,129.7 179,136.3 182,142.8 185,149.2 188,144.2 191,148.5 194,162.7 197,157.1 200,173.9 203,172.1 206,177.6 209,174.6 212,171.1 215,160.5 218,162.6 221,163.4 224,160.2 227,150.7 230,147.7 233,138.2 236,132.3 239,124.2 242,120.1 245,112.7 248,104.3 251,99.3 254,95.3 257,90.7 260,86.6 263,82.2 266,82.0 269,80.4 272,81.5 275,82.0 278,85.0 281,85.1 284,88.0 287,86.3 290,85.7 293,84.9 296,84.6 299,85.2 302,84.8 305,87.3 308,87.4 311,86.5 314,88.2 317,88.8 320,88.8 323,88.4 326,88.9 329,87.2 332,87.9 335,87.2 338,87.7 341,89.1 344,89.3 347,89.5 350,88.1 353,89.0 357,88.3"/><polyline points="35,90.8 38,92.8 41,94.4 44,94.7 47,92.9 50,92.7 53,93.1 56,91.2 59,91.8 62,91.3 65,92.1 68,90.9 71,91.0 74,91.0 77,92.3 80,91.4 83,90.4 86,88.3 89,87.7 92,88.1 95,86.9 98,85.3 101,85.8 104,84.7 107,86.8 110,87.2 113,87.5 116,87.1 119,88.1 122,88.4 125,89.3 128,89.5 131,89.4 134,87.9 137,87.1 140,86.2 143,86.0 146,85.4 149,86.7 152,89.8 155,92.7 158,96.0 161,95.6 164,94.0 167,95.4 170,94.8 173,96.2 176,97.1 179,98.9 182,99.9 185,102.6 188,102.6 191,101.9 194,101.7 197,104.4 200,104.4 203,104.1 206,101.8 209,99.2 212,95.2 215,96.6 218,96.3 221,94.6 224,92.9 227,93.2 230,91.5 233,89.8 236,90.0 239,90.2 242,91.4 245,87.7 248,89.3 251,89.2 254,87.9 257,86.4 260,85.5 263,87.0 266,87.6 269,85.4 272,87.5 275,90.3 278,91.6 281,90.9 284,90.0 287,91.0 290,90.3 293,87.2 296,88.1 299,88.1 302,88.6 305,94.1 308,97.8 311,98.2 314,93.5 317,88.3 320,91.3 323,90.2 326,91.2 329,92.1 332,91.2 335,89.9 338,88.4 341,90.8 344,92.9 347,93.0 350,92.8 353,94.9 357,95.6"/><polyline points="35,90.4 38,89.0 41,88.7 44,87.5 47,86.6 50,87.7 53,87.8 56,88.8 59,90.2 62,90.1 65,89.2 68,88.7 71,86.9 74,86.4 77,87.2 80,88.9 83,90.6 86,90.7 89,91.1 92,91.9 95,90.8 98,89.7 101,88.2 104,87.8 107,87.7 110,88.1 113,88.6 116,89.9 119,89.6 122,89.1 125,88.3 128,87.9 131,87.0 134,85.7 137,84.6 140,83.3 143,84.6 146,83.3 149,85.0 152,88.9 155,90.7 158,91.5 161,91.9 164,93.1 167,93.7 170,93.5 173,94.8 176,96.5 179,97.7 182,98.9 185,96.8 188,97.0 191,95.2 194,95.9 197,94.6 200,96.5 203,100.3 206,98.7 209,98.2 212,101.2 215,100.7 218,99.2 221,98.4 224,97.1 227,97.3 230,95.4 233,96.7 236,96.1 239,96.0 242,94.6 245,93.2 248,94.0 251,94.0 254,98.2 257,102.5 260,102.8 263,101.5 266,96.7 269,92.4 272,87.5 275,84.5 278,85.9 281,88.5 284,89.1 287,88.9 290,89.5 293,89.1 296,90.5 299,87.9 302,88.0 305,89.1 308,89.7 311,88.9 314,89.5 317,88.7 320,88.3 323,88.5 326,89.0 329,89.1 332,88.9 335,88.6 338,86.8 341,87.3 344,87.9 347,88.3 350,88.9 353,91.8 357,92.8"/><polyline points="35,94.5 38,95.1 41,94.7 44,94.3 47,92.9 50,91.9 53,92.1 56,92.0 59,91.9 62,90.4 65,90.1 68,90.9 71,92.6 74,92.8 77,94.1 80,93.2 83,92.6 86,91.7 89,93.2 92,92.2 95,92.9 98,92.9 101,92.3 104,92.5 107,92.8 110,93.7 113,93.5 116,91.9 119,93.2 122,91.1 125,90.9 128,91.5 131,89.8 134,88.8 137,86.6 140,89.0 143,88.6 146,89.0 149,91.4 152,95.9 155,103.3 158,108.3 161,114.5 164,122.4 167,122.2 170,125.8 173,136.7 176,145.7 179,146.9 182,151.2 185,149.6 188,146.7 191,152.4 194,150.3 197,141.2 200,146.3 203,144.9 206,129.8 209,133.7 212,125.0 215,120.8 218,116.5 221,109.3 224,102.4 227,98.8 230,92.1 233,91.3 236,89.8 239,89.9 242,92.0 245,89.7 248,91.7 251,92.6 254,92.2 257,92.3 260,92.6 263,95.3 266,92.9 269,93.5 272,93.4 275,91.4 278,91.5 281,89.0 284,88.4 287,88.2 290,87.4 293,88.1 296,86.8 299,87.7 302,88.5 305,88.7 308,87.6 311,88.7 314,92.7 317,93.4 320,92.1 323,94.1 326,93.6 329,94.0 332,96.0 335,96.6 338,99.0 341,99.6 344,103.2 347,105.3 350,108.7 353,111.6 357,109.3"/><polyline points="35,72.3 38,72.1 41,72.4 44,72.5 47,74.8 50,76.2 53,77.2 56,75.4 59,75.9 62,74.9 65,76.5 68,74.7 71,73.8 74,74.3 77,74.0 80,75.3 83,77.0 86,77.3 89,77.5 92,78.7 95,77.4 98,76.7 101,78.3 104,77.3 107,77.2 110,75.2 113,75.0 116,75.0 119,74.9 122,73.9 125,75.5 128,73.0 131,73.8 134,72.9 137,72.4 140,71.8 143,72.9 146,70.0 149,68.7 152,70.2 155,69.6 158,69.6 161,69.7 164,70.5 167,68.4 170,68.2 173,68.0 176,66.2 179,64.2 182,60.7 185,59.2 188,58.9 191,55.8 194,58.8 197,57.4 200,61.8 203,61.9 206,63.9 209,66.3 212,67.2 215,70.1 218,71.1 221,73.1 224,73.4 227,74.6 230,75.0 233,76.6 236,77.0 239,78.3 242,78.6 245,78.5 248,77.9 251,76.3 254,72.9 257,72.4 260,70.9 263,73.4 266,74.4 269,76.0 272,78.0 275,78.9 278,77.4 281,76.3 284,74.9 287,76.2 290,75.8 293,75.7 296,75.9 299,77.0 302,75.3 305,75.6 308,75.5 311,78.1 314,78.1 317,78.9 320,80.8 323,78.6 326,80.0 329,79.5 332,79.3 335,80.6 338,80.6 341,80.4 344,79.3 347,78.1 350,76.6 353,76.0 357,74.6"/><polyline points="35,82.7 38,83.2 41,83.3 44,82.7 47,82.0 50,80.8 53,82.3 56,85.1 59,84.4 62,85.0 65,83.2 68,81.3 71,82.7 74,82.8 77,84.4 80,84.5 83,84.6 86,87.1 89,86.1 92,86.7 95,86.7 98,86.5 101,85.4 104,85.1 107,82.9 110,82.7 113,82.1 116,80.1 119,79.0 122,79.5 125,80.3 128,79.5 131,79.7 134,77.6 137,74.5 140,73.3 143,71.5 146,70.1 149,71.0 152,71.5 155,70.2 158,68.8 161,68.1 164,67.1 167,68.7 170,69.2 173,70.5 176,70.3 179,73.5 182,74.7 185,74.9 188,75.1 191,78.3 194,79.0 197,80.8 200,82.3 203,83.4 206,83.7 209,84.6 212,85.0 215,83.4 218,82.3 221,82.5 224,82.3 227,82.4 230,83.3 233,83.6 236,84.7 239,85.7 242,85.9 245,87.8 248,88.7 251,88.1 254,87.0 257,87.5 260,84.3 263,84.7 266,82.5 269,82.4 272,81.7 275,80.7 278,79.1 281,78.0 284,77.2 287,76.7 290,77.4 293,78.1 296,79.5 299,80.7 302,82.3 305,83.9 308,81.2 311,82.9 314,82.6 317,81.8 320,82.6 323,83.3 326,81.4 329,81.9 332,81.8 335,83.3 338,85.4 341,87.4 344,88.7 347,89.5 350,90.5 353,90.0 357,88.2"/><polyline points="35,87.2 38,87.9 41,88.3 44,86.7 47,86.9 50,83.8 53,83.7 56,83.2 59,81.2 62,82.7 65,83.8 68,82.1 71,81.9 74,80.9 77,79.7 80,81.1 83,83.4 86,83.2 89,84.4 92,80.9 95,81.8 98,79.3 101,79.7 104,81.1 107,82.6 110,81.8 113,83.4 116,82.6 119,82.2 122,80.9 125,80.9 128,81.4 131,81.6 134,82.6 137,82.4 140,81.4 143,80.2 146,80.7 149,82.4 152,81.3 155,82.6 158,83.2 161,81.7 164,83.3 167,83.1 170,83.5 173,83.5 176,83.0 179,82.6 182,80.7 185,79.9 188,79.2 191,79.3 194,76.3 197,76.5 200,75.8 203,74.3 206,73.7 209,73.5 212,71.7 215,70.6 218,72.9 221,72.0 224,74.1 227,75.7 230,77.7 233,79.4 236,79.5 239,80.4 242,81.7 245,82.1 248,84.0 251,85.2 254,85.2 257,86.5 260,85.8 263,86.0 266,84.1 269,85.6 272,86.1 275,83.6 278,83.7 281,83.6 284,83.4 287,82.4 290,81.6 293,81.0 296,78.9 299,80.3 302,79.6 305,80.0 308,79.6 311,79.8 314,82.0 317,83.2 320,83.6 323,82.1 326,81.8 329,81.3 332,82.5 335,83.7 338,84.7 341,85.9 344,87.5 347,86.8 350,87.3 353,88.9 357,88.1"/><polyline points="35,84.5 38,81.3 41,80.7 44,81.7 47,82.0 50,82.2 53,82.3 56,83.4 59,82.7 62,83.0 65,82.5 68,79.8 71,81.7 74,83.8 77,85.8 80,86.8 83,87.2 86,84.1 89,84.0 92,82.7 95,81.8 98,80.7 101,81.0 104,81.1 107,81.6 110,81.1 113,79.6 116,79.6 119,79.6 122,81.0 125,81.3 128,80.7 131,80.7 134,78.9 137,77.4 140,75.4 143,74.2 146,73.9 149,74.0 152,76.1 155,75.8 158,76.8 161,77.1 164,79.8 167,80.4 170,79.0 173,78.7 176,78.4 179,79.0 182,77.8 185,81.2 188,81.3 191,82.7 194,83.1 197,79.5 200,79.0 203,77.5 206,76.7 209,78.2 212,79.2 215,80.8 218,83.0 221,84.5 224,86.1 227,86.4 230,85.3 233,83.0 236,82.6 239,81.4 242,81.1 245,83.6 248,81.9 251,80.9 254,79.7 257,79.8 260,79.3 263,80.2 266,81.7 269,81.0 272,81.8 275,83.0 278,83.9 281,83.9 284,83.2 287,84.3 290,83.6 293,82.9 296,82.3 299,82.6 302,82.5 305,81.9 308,82.3 311,82.7 314,84.0 317,85.3 320,87.1 323,86.4 326,87.5 329,85.8 332,87.4 335,86.7 338,87.7 341,88.0 344,88.9 347,89.3 350,89.0 353,88.5 357,89.3"/><polyline points="35,85.2 38,87.0 41,88.1 44,88.6 47,88.3 50,87.2 53,87.5 56,84.4 59,84.2 62,83.7 65,84.0 68,83.3 71,81.9 74,81.4 77,80.6 80,81.3 83,80.0 86,79.9 89,80.6 92,80.6 95,80.9 98,80.3 101,78.3 104,78.0 107,75.5 110,75.4 113,75.0 116,75.8 119,76.7 122,79.3 125,80.1 128,80.6 131,83.2 134,83.5 137,80.8 140,77.3 143,72.9 146,70.2 149,70.1 152,70.8 155,70.9 158,71.9 161,72.2 164,70.6 167,70.9 170,71.1 173,71.9 176,73.1 179,72.2 182,72.5 185,73.4 188,74.3 191,75.2 194,77.3 197,78.9 200,79.5 203,80.1 206,81.3 209,83.3 212,83.9 215,83.5 218,84.7 221,85.9 224,85.4 227,85.5 230,83.0 233,83.5 236,81.0 239,80.1 242,78.6 245,79.6 248,80.1 251,80.3 254,80.6 257,79.1 260,78.1 263,78.3 266,77.6 269,77.6 272,78.3 275,79.1 278,81.2 281,82.4 284,83.0 287,83.9 290,85.2 293,84.4 296,84.7 299,83.9 302,82.7 305,81.7 308,81.6 311,82.2 314,83.4 317,83.1 320,84.2 323,85.0 326,84.1 329,84.9 332,86.6 335,86.0 338,84.6 341,84.4 344,82.9 347,82.3 350,84.1 353,85.1 357,86.0"/><polyline points="35,84.1 38,85.1 41,86.0 44,85.4 47,84.7 50,84.5 53,85.3 56,84.3 59,86.4 62,86.6 65,85.7 68,85.1 71,86.7 74,85.5 77,85.7 80,85.6 83,85.5 86,84.9 89,85.4 92,85.1 95,84.5 98,84.9 101,84.1 104,82.9 107,82.2 110,82.6 113,80.8 116,81.9 119,81.9 122,81.3 125,82.2 128,83.3 131,82.0 134,79.8 137,78.8 140,77.6 143,77.2 146,77.7 149,79.6 152,80.9 155,83.1 158,83.2 161,81.2 164,79.7 167,77.8 170,77.8 173,77.9 176,78.7 179,78.6 182,75.7 185,75.4 188,73.8 191,74.0 194,74.9 197,74.6 200,76.3 203,76.5 206,76.4 209,74.8 212,75.3 215,75.3 218,77.4 221,78.9 224,82.0 227,83.1 230,84.8 233,87.0 236,88.8 239,88.2 242,87.7 245,86.7 248,84.3 251,82.5 254,80.5 257,79.2 260,78.0 263,80.1 266,81.1 269,81.8 272,80.6 275,80.5 278,81.5 281,82.0 284,83.0 287,83.4 290,83.9 293,83.4 296,81.0 299,83.0 302,82.3 305,82.3 308,83.4 311,84.9 314,83.5 317,83.8 320,83.1 323,84.1 326,84.7 329,86.8 332,85.9 335,86.5 338,84.4 341,84.9 344,84.3 347,85.1 350,85.4 353,84.1 357,82.7"/><polyline points="35,97 40,104 45,113 50,117 55,119.6 60,117 63,116 66,114 70,107 76,101 82,98"/><polyline points="38,96 45,100 50,100 55,100 60,103 64,104 68,100 74,98"/><polyline points="60,97 64,108 66,114 70,109 76,104 83,97.5"/><polyline points="70,98 76,104 82,112 89,120 93,133 97,150 100,162 103,170 106,158 109,148 113,140 119,132 126,118 133,104 139,97"/><polyline points="92,98 98,104 104,110 109,128 113,140 116,144 119,139 123,128 128,114 134,100 140,96"/><polyline points="118,97 124,104 130,110 135,104 140,98"/><polyline points="148,90 152,105 156,125 160,150 163,170 166,185 168,192 171,180 174,172 178,165 182,160 188,150 196,140 206,128 218,115 232,102 245,95"/><polyline points="150,88 156,110 162,128 168,150 172,165 176,170 180,190 184,210 187,198 190,185 194,176 200,165 208,150 218,132 230,112 242,98"/><polyline points="152,90 158,112 166,135 174,155 180,170 186,180 192,200 195,188 200,175 206,160 214,142 224,122 236,104 248,95"/><polyline points="255,98 260,108 264,125 268,142.5 272,136 276,124 281,104 286,98"/><polyline points="258,99 263,110 266,118 270,120 274,116 278,106 283,99"/><polyline points="285,99 291,110 296,122.5 300,114 305,102 310,98"/><polyline points="312,99 318,112 323,130 327,145 329,157.8 333,150 338,135 344,122 350,116 357,113"/><polyline points="318,100 325,112 330,124 336,128 342,122 348,118 357,121"/><polyline points="322,100 330,108 336,115 342,112 350,104 357,100"/><polyline points="318,80 322,74 327.5,69 332,73 336,78"/><polyline points="336,79 341,72 346,65.4 350,71 354,79 357,86"/></g><line x1="35" y1="90.8" x2="357" y2="90.8" stroke="#fff" stroke-width="2.2" stroke-dasharray="3.3 3.4"/><path d="M305.6 227.7 H357.5 V190" fill="none" stroke="#111" stroke-width="3"/><text x="303.53" y="203.40" font-size="18.41" fill="#1a1a1a" stroke="#1a1a1a" stroke-width="0.15" >1 mV</text><text x="291.85" y="222.80" font-size="18.14" fill="#1a1a1a" stroke="#1a1a1a" stroke-width="0.15" textLength="51.47" lengthAdjust="spacingAndGlyphs" >20 ms</text><text x="379.08" y="22.00" font-size="25.43" fill="#1a1a1a" stroke="#1a1a1a" stroke-width="0.15" textLength="30.55" lengthAdjust="spacingAndGlyphs" >A2</text><polygon points="479.8,1.2 491,1.2 485.3,19.6" fill="#333"/><rect x="459" y="23" width="268" height="13.9" fill="#999"/><text x="402.36" y="67.50" font-size="18.99" fill="#1a1a1a" stroke="#1a1a1a" stroke-width="0.15" textLength="35.28" lengthAdjust="spacingAndGlyphs" >LFP</text><polygon points="403,79 430,77.5 460,75.5 490,71 500,69 512,70 520,79 530,87 540,89 550,85 560,80 575,76.5 600,76 650,77 700,75.5 724,77 724,99 650,99.5 600,99 590,98 583,100 576,105 568,120 560,140 552,162 545,178 539,183 533,178 528,165 523,140 519,115 516,95 460,95 403,95" fill="#a6a6a6"/><g fill="none" stroke="#a6a6a6" stroke-width="0.9" stroke-linejoin="round"><polyline points="403,82.3 406,81.5 409,79.9 412,79.7 415,80.0 418,81.4 421,82.8 424,81.9 427,81.5 430,80.2 433,78.2 436,77.2 439,75.3 442,76.7 445,77.2 448,76.3 451,77.1 454,78.1 457,78.0 460,78.0 463,78.8 466,79.2 469,81.1 472,80.4 475,80.3 478,79.4 481,79.4 484,78.7 487,77.1 490,77.6 493,76.9 496,78.5 499,76.5 502,75.7 505,74.0 508,75.2 511,77.2 514,83.6 517,87.1 520,99.7 523,116.8 526,146.6 529,163.2 532,185.4 535,206.4 538,215.1 541,196.5 544,209.8 547,208.6 550,206.4 553,191.0 556,181.3 559,176.3 562,158.2 565,159.6 568,141.6 571,130.0 574,123.3 577,113.8 580,100.9 583,90.2 586,81.4 589,73.7 592,67.3 595,62.9 598,60.6 601,58.0 604,60.5 607,60.7 610,62.4 613,68.7 616,77.5 619,84.3 622,93.4 625,86.9 628,80.9 631,77.1 634,79.9 637,80.2 640,79.6 643,79.5 646,79.8 649,80.7 652,81.8 655,83.2 658,83.5 661,81.5 664,80.9 667,80.2 670,80.5 673,82.1 676,83.2 679,82.7 682,84.2 685,84.9 688,84.4 691,84.8 694,86.7 697,86.9 700,88.0 703,87.9 706,89.8 709,89.9 712,91.4 715,93.9 718,95.9 721,96.4 724,97.8"/><polyline points="403,83.5 406,83.9 409,83.6 412,84.7 415,85.5 418,85.5 421,84.2 424,84.2 427,84.0 430,82.6 433,82.4 436,81.1 439,81.5 442,80.1 445,79.2 448,78.4 451,80.9 454,80.7 457,82.0 460,81.8 463,80.8 466,79.7 469,79.4 472,81.2 475,82.3 478,80.9 481,81.7 484,80.5 487,76.3 490,72.7 493,66.5 496,61.6 499,58.5 502,58.7 505,62.8 508,67.2 511,71.8 514,80.5 517,83.5 520,92.3 523,109.6 526,133.9 529,141.1 532,149.0 535,146.9 538,142.6 541,140.8 544,134.1 547,123.3 550,108.2 553,105.0 556,96.6 559,89.2 562,85.2 565,82.9 568,82.5 571,82.3 574,81.2 577,81.2 580,80.6 583,79.3 586,77.8 589,76.8 592,76.8 595,81.3 598,88.3 601,97.5 604,103.2 607,104.9 610,97.2 613,88.0 616,79.5 619,77.5 622,77.8 625,79.0 628,79.0 631,79.9 634,80.3 637,81.3 640,81.6 643,82.5 646,83.6 649,84.3 652,84.8 655,91.1 658,98.7 661,105.1 664,103.6 667,98.7 670,93.5 673,90.2 676,88.2 679,87.7 682,88.4 685,86.5 688,84.5 691,83.3 694,81.9 697,80.0 700,80.6 703,80.6 706,82.2 709,83.5 712,84.4 715,85.2 718,86.7 721,86.3 724,85.2"/><polyline points="403,89.0 406,87.9 409,89.7 412,90.9 415,91.1 418,89.4 421,90.5 424,91.1 427,91.2 430,90.8 433,91.6 436,91.5 439,90.2 442,89.6 445,88.9 448,88.2 451,89.0 454,89.9 457,92.4 460,92.4 463,92.4 466,91.0 469,90.4 472,88.8 475,89.0 478,88.0 481,88.0 484,85.6 487,81.0 490,76.7 493,73.3 496,72.2 499,71.9 502,74.9 505,78.1 508,85.4 511,86.4 514,93.8 517,95.9 520,100.7 523,105.6 526,112.7 529,119.7 532,129.7 535,140.0 538,149.1 541,152.6 544,166.2 547,169.7 550,164.0 553,168.0 556,160.9 559,155.3 562,156.9 565,148.6 568,144.4 571,139.5 574,134.8 577,125.8 580,115.5 583,109.0 586,101.3 589,93.3 592,88.7 595,83.7 598,81.7 601,81.2 604,79.9 607,82.5 610,85.6 613,89.1 616,92.8 619,94.9 622,94.5 625,93.0 628,91.7 631,97.1 634,106.8 637,115.8 640,109.0 643,100.7 646,92.7 649,88.5 652,89.5 655,89.7 658,92.7 661,93.9 664,93.9 667,92.9 670,92.9 673,93.2 676,91.6 679,91.2 682,92.2 685,92.1 688,92.3 691,92.6 694,92.6 697,93.3 700,94.0 703,94.2 706,93.4 709,91.9 712,90.5 715,89.6 718,88.1 721,87.4 724,89.8"/><polyline points="403,85.9 406,86.4 409,86.4 412,88.9 415,90.1 418,90.2 421,89.6 424,87.7 427,87.1 430,87.7 433,85.9 436,85.2 439,85.0 442,85.4 445,82.7 448,83.8 451,81.4 454,81.5 457,80.7 460,78.3 463,77.0 466,75.6 469,72.4 472,68.6 475,66.5 478,62.9 481,62.2 484,62.1 487,63.4 490,68.2 493,71.5 496,75.5 499,77.1 502,77.9 505,77.8 508,79.4 511,79.3 514,86.3 517,86.9 520,92.1 523,104.1 526,114.5 529,131.4 532,138.8 535,155.2 538,170.4 541,172.4 544,180.1 547,177.8 550,180.1 553,182.3 556,166.5 559,167.7 562,158.4 565,149.5 568,148.3 571,148.4 574,143.7 577,137.9 580,132.1 583,125.5 586,118.3 589,113.7 592,105.0 595,99.7 598,96.7 601,91.2 604,85.0 607,82.5 610,81.1 613,80.7 616,81.5 619,82.1 622,82.1 625,82.4 628,80.1 631,80.5 634,80.1 637,82.2 640,85.9 643,90.4 646,93.9 649,96.3 652,95.0 655,91.9 658,89.8 661,86.1 664,85.3 667,85.5 670,86.8 673,88.0 676,89.2 679,88.2 682,89.1 685,88.3 688,88.9 691,87.1 694,87.4 697,86.7 700,84.6 703,85.0 706,84.5 709,85.7 712,86.9 715,88.0 718,89.5 721,90.1 724,90.1"/><polyline points="403,86.2 406,85.3 409,82.5 412,82.2 415,81.3 418,82.4 421,83.8 424,84.4 427,84.9 430,86.1 433,87.3 436,88.9 439,89.3 442,88.7 445,87.6 448,84.6 451,83.0 454,81.8 457,82.9 460,82.4 463,81.8 466,82.7 469,81.6 472,81.5 475,81.3 478,81.8 481,81.6 484,80.2 487,77.4 490,73.5 493,69.3 496,66.0 499,63.8 502,66.8 505,69.7 508,72.7 511,73.8 514,81.3 517,83.5 520,91.7 523,105.0 526,125.9 529,143.2 532,156.3 535,168.6 538,170.7 541,167.6 544,161.4 547,157.6 550,162.1 553,152.7 556,146.6 559,141.9 562,139.9 565,135.4 568,126.2 571,119.5 574,113.4 577,107.9 580,102.4 583,94.1 586,86.9 589,80.2 592,73.6 595,69.9 598,66.9 601,67.2 604,64.2 607,63.7 610,61.1 613,60.9 616,62.0 619,65.5 622,70.2 625,74.2 628,80.3 631,90.9 634,95.8 637,91.6 640,88.2 643,85.7 646,84.6 649,86.1 652,87.9 655,86.9 658,88.5 661,86.5 664,84.3 667,84.5 670,84.6 673,86.2 676,87.6 679,93.7 682,100.0 685,105.6 688,110.7 691,106.1 694,99.8 697,93.7 700,88.4 703,86.4 706,85.7 709,84.5 712,86.0 715,86.4 718,87.3 721,86.9 724,86.0"/><polyline points="403,86.1 406,86.3 409,85.4 412,84.1 415,84.6 418,87.4 421,87.6 424,90.0 427,89.5 430,88.4 433,87.2 436,85.8 439,83.8 442,83.2 445,81.8 448,82.2 451,83.3 454,82.0 457,80.7 460,78.4 463,77.7 466,76.6 469,76.3 472,75.1 475,73.2 478,72.2 481,73.7 484,72.5 487,73.0 490,73.8 493,74.8 496,76.0 499,76.3 502,76.7 505,77.5 508,77.6 511,77.8 514,83.6 517,86.9 520,99.9 523,123.5 526,142.4 529,182.3 532,193.0 535,199.4 538,183.6 541,173.0 544,159.6 547,137.4 550,116.8 553,101.0 556,89.2 559,85.2 562,83.5 565,85.6 568,84.7 571,83.6 574,83.0 577,82.3 580,81.0 583,82.1 586,82.6 589,82.2 592,84.3 595,85.1 598,86.7 601,87.3 604,87.1 607,87.6 610,85.9 613,84.7 616,86.1 619,84.6 622,85.4 625,84.6 628,82.7 631,82.6 634,85.0 637,83.8 640,83.4 643,84.8 646,85.4 649,86.0 652,84.2 655,84.6 658,83.6 661,82.7 664,83.4 667,83.6 670,83.8 673,86.6 676,87.2 679,87.6 682,87.7 685,85.8 688,86.6 691,86.0 694,84.3 697,83.0 700,84.4 703,84.3 706,83.5 709,84.9 712,85.8 715,87.3 718,88.0 721,90.2 724,90.5"/><polyline points="403,91.2 406,92.2 409,92.9 412,93.5 415,94.2 418,93.8 421,92.3 424,89.5 427,88.7 430,87.6 433,86.0 436,86.2 439,85.5 442,84.8 445,86.4 448,85.9 451,87.3 454,86.8 457,86.6 460,87.4 463,86.4 466,86.5 469,87.0 472,88.0 475,89.1 478,87.8 481,87.4 484,85.9 487,85.7 490,83.3 493,80.8 496,78.3 499,76.0 502,70.9 505,68.5 508,66.1 511,69.5 514,79.5 517,84.9 520,104.3 523,144.6 526,184.5 529,230.8 532,232.0 535,229.4 538,208.0 541,211.8 544,215.3 547,207.2 550,198.3 553,196.5 556,178.6 559,170.2 562,161.0 565,146.8 568,134.4 571,125.7 574,112.4 577,105.3 580,100.9 583,95.7 586,93.4 589,90.2 592,89.3 595,89.0 598,88.6 601,87.3 604,87.0 607,85.3 610,86.7 613,85.6 616,87.2 619,88.0 622,88.5 625,88.2 628,88.1 631,87.0 634,85.6 637,90.6 640,98.1 643,105.1 646,111.8 649,115.5 652,109.9 655,102.1 658,95.4 661,94.3 664,93.5 667,91.8 670,90.8 673,89.5 676,88.8 679,89.7 682,90.2 685,89.4 688,88.3 691,88.3 694,92.0 697,94.7 700,97.9 703,99.2 706,100.7 709,102.0 712,104.6 715,107.1 718,107.7 721,110.2 724,112.6"/><polyline points="403,87.0 406,87.3 409,87.1 412,85.1 415,83.7 418,83.3 421,82.6 424,82.0 427,80.6 430,81.3 433,81.8 436,81.2 439,82.5 442,81.9 445,80.9 448,80.7 451,80.6 454,80.5 457,80.8 460,79.9 463,81.2 466,81.3 469,80.7 472,82.9 475,83.0 478,83.9 481,83.5 484,82.1 487,85.1 490,97.8 493,106.6 496,107.4 499,103.1 502,98.8 505,99.9 508,100.3 511,98.6 514,98.9 517,96.8 520,93.2 523,91.9 526,88.5 529,86.8 532,85.0 535,84.6 538,84.8 541,84.4 544,85.5 547,86.1 550,86.9 553,84.1 556,82.0 559,79.8 562,78.1 565,78.8 568,79.7 571,80.7 574,80.4 577,80.6 580,80.5 583,81.8 586,82.3 589,83.8 592,85.8 595,85.6 598,84.7 601,82.3 604,81.1 607,79.0 610,79.2 613,79.4 616,81.2 619,81.4 622,84.7 625,86.1 628,83.2 631,84.3 634,82.7 637,81.3 640,79.9 643,79.3 646,80.1 649,79.5 652,80.0 655,81.2 658,82.3 661,81.7 664,80.4 667,78.3 670,77.0 673,73.1 676,69.8 679,65.7 682,62.9 685,61.0 688,58.3 691,56.2 694,54.2 697,52.0 700,51.7 703,51.5 706,53.5 709,53.5 712,56.4 715,60.9 718,62.7 721,65.1 724,68.7"/><polyline points="403,83.1 406,83.7 409,82.9 412,82.5 415,80.8 418,81.0 421,80.6 424,80.8 427,81.9 430,82.4 433,83.2 436,83.1 439,81.4 442,80.4 445,81.1 448,79.8 451,81.0 454,81.2 457,81.6 460,83.2 463,82.6 466,80.7 469,79.6 472,80.1 475,81.8 478,80.7 481,80.4 484,80.0 487,80.1 490,80.2 493,81.0 496,80.5 499,80.8 502,79.1 505,79.5 508,78.3 511,77.9 514,83.8 517,85.5 520,102.3 523,132.5 526,166.4 529,201.8 532,213.9 535,223.6 538,228.8 541,208.0 544,207.2 547,197.9 550,177.0 553,166.1 556,139.4 559,125.2 562,109.8 565,99.6 568,90.1 571,84.1 574,81.9 577,82.7 580,83.0 583,82.4 586,81.9 589,80.3 592,79.0 595,76.8 598,77.1 601,74.8 604,73.5 607,70.0 610,68.4 613,67.2 616,68.6 619,69.9 622,71.5 625,73.9 628,74.2 631,75.3 634,75.1 637,75.6 640,78.9 643,79.4 646,80.5 649,80.9 652,82.6 655,83.1 658,83.2 661,83.8 664,83.8 667,82.7 670,81.3 673,81.1 676,81.6 679,81.5 682,82.6 685,83.2 688,84.3 691,85.5 694,87.4 697,90.4 700,92.6 703,95.7 706,98.8 709,101.3 712,104.2 715,105.7 718,107.1 721,109.8 724,111.7"/><polyline points="403,90.5 406,90.5 409,89.5 412,89.1 415,88.4 418,88.2 421,88.9 424,88.2 427,88.1 430,87.4 433,86.2 436,86.7 439,85.4 442,87.7 445,88.8 448,88.0 451,87.9 454,87.6 457,87.5 460,86.7 463,86.2 466,84.7 469,85.5 472,85.0 475,84.7 478,84.2 481,83.3 484,81.8 487,79.1 490,77.4 493,74.5 496,71.9 499,72.2 502,72.2 505,75.9 508,79.7 511,82.1 514,91.4 517,93.5 520,95.2 523,99.7 526,113.7 529,130.5 532,152.0 535,157.5 538,174.4 541,177.2 544,180.9 547,168.4 550,167.6 553,154.9 556,154.6 559,145.7 562,131.6 565,124.6 568,119.1 571,113.6 574,106.4 577,99.3 580,92.2 583,88.7 586,84.8 589,84.4 592,84.1 595,83.6 598,84.6 601,84.4 604,84.6 607,84.6 610,84.6 613,84.1 616,83.3 619,84.1 622,83.8 625,82.8 628,82.7 631,83.9 634,85.3 637,85.7 640,87.1 643,87.8 646,87.1 649,87.2 652,88.5 655,88.2 658,88.2 661,87.8 664,88.6 667,91.3 670,91.9 673,93.2 676,93.8 679,93.1 682,93.5 685,91.8 688,93.5 691,91.0 694,91.5 697,89.6 700,89.2 703,88.1 706,87.8 709,88.8 712,90.2 715,91.2 718,91.3 721,91.0 724,90.3"/><polyline points="403,93.1 406,97.0 409,97.7 412,97.5 415,96.3 418,95.0 421,92.0 424,92.7 427,92.4 430,93.0 433,90.7 436,89.2 439,88.9 442,85.4 445,84.6 448,82.8 451,81.8 454,82.1 457,84.9 460,85.8 463,85.8 466,87.4 469,86.0 472,86.0 475,83.5 478,82.7 481,82.2 484,80.7 487,81.3 490,80.1 493,79.9 496,77.3 499,76.7 502,76.4 505,79.6 508,83.4 511,83.2 514,90.1 517,93.0 520,107.2 523,129.3 526,163.7 529,179.9 532,211.4 535,237.7 538,242.7 541,228.7 544,229.7 547,220.7 550,225.6 553,217.9 556,185.6 559,191.6 562,182.5 565,162.1 568,146.5 571,137.4 574,117.2 577,108.7 580,98.0 583,88.8 586,81.7 589,75.7 592,73.2 595,70.6 598,69.3 601,67.3 604,66.1 607,71.4 610,77.2 613,84.7 616,98.7 619,104.7 622,109.7 625,113.9 628,108.1 631,102.6 634,96.1 637,88.5 640,84.8 643,85.6 646,87.6 649,88.2 652,88.9 655,90.2 658,90.5 661,92.7 664,92.1 667,92.4 670,91.8 673,92.5 676,91.3 679,91.4 682,90.0 685,90.3 688,90.7 691,90.0 694,92.8 697,94.5 700,95.2 703,97.8 706,98.6 709,100.1 712,101.3 715,103.6 718,104.3 721,106.7 724,109.7"/><polyline points="403,84.2 406,84.9 409,85.1 412,86.7 415,88.0 418,87.3 421,85.8 424,85.7 427,84.8 430,85.5 433,87.2 436,87.1 439,88.5 442,87.6 445,88.2 448,88.2 451,89.2 454,88.0 457,88.4 460,88.0 463,87.9 466,87.6 469,87.0 472,85.8 475,85.6 478,82.8 481,79.0 484,76.4 487,69.6 490,67.3 493,64.7 496,64.8 499,67.2 502,71.0 505,75.3 508,80.2 511,82.6 514,87.2 517,87.2 520,92.2 523,103.7 526,121.1 529,136.3 532,150.9 535,166.1 538,166.8 541,175.4 544,169.9 547,171.2 550,162.4 553,160.0 556,147.3 559,144.0 562,137.1 565,122.2 568,113.7 571,102.2 574,95.0 577,84.6 580,79.0 583,73.9 586,70.9 589,71.7 592,72.1 595,72.1 598,73.0 601,75.7 604,77.6 607,78.9 610,80.5 613,83.0 616,82.3 619,81.6 622,81.6 625,80.8 628,80.3 631,81.8 634,83.5 637,82.3 640,84.0 643,83.7 646,85.1 649,85.2 652,87.2 655,88.4 658,88.3 661,89.6 664,88.4 667,87.7 670,85.6 673,85.7 676,85.4 679,84.0 682,83.4 685,80.1 688,77.4 691,74.2 694,71.3 697,68.5 700,68.2 703,69.5 706,69.4 709,70.0 712,72.5 715,72.9 718,74.3 721,76.0 724,79.3"/><polyline points="403,87.1 406,84.5 409,84.7 412,85.5 415,84.9 418,85.6 421,84.5 424,83.8 427,83.3 430,81.0 433,79.8 436,80.3 439,80.3 442,81.4 445,80.7 448,80.9 451,81.5 454,80.1 457,80.1 460,81.7 463,80.2 466,80.8 469,79.7 472,79.4 475,80.2 478,81.1 481,81.6 484,83.3 487,82.8 490,83.6 493,82.8 496,82.6 499,81.5 502,82.5 505,82.6 508,81.8 511,82.4 514,88.4 517,94.2 520,101.9 523,110.1 526,124.3 529,132.5 532,141.1 535,152.8 538,153.0 541,157.5 544,157.8 547,154.7 550,155.4 553,161.5 556,149.0 559,145.2 562,148.5 565,136.7 568,131.4 571,127.3 574,123.7 577,118.2 580,112.8 583,107.0 586,102.1 589,100.2 592,97.4 595,94.2 598,92.8 601,91.3 604,87.5 607,84.9 610,84.9 613,84.7 616,84.7 619,84.1 622,85.4 625,87.1 628,86.8 631,87.8 634,86.2 637,84.8 640,83.6 643,83.8 646,82.2 649,83.7 652,83.8 655,84.8 658,84.9 661,83.8 664,82.9 667,83.5 670,82.6 673,85.1 676,94.0 679,105.8 682,100.3 685,93.4 688,90.0 691,89.4 694,87.1 697,87.0 700,86.4 703,85.0 706,85.9 709,84.9 712,85.8 715,88.8 718,88.7 721,89.4 724,90.4"/><polyline points="403,92.8 406,91.1 409,90.8 412,91.8 415,91.6 418,89.6 421,88.3 424,86.8 427,84.4 430,83.3 433,82.5 436,83.7 439,83.6 442,86.6 445,85.8 448,87.0 451,87.8 454,86.3 457,84.0 460,85.6 463,85.5 466,86.6 469,85.8 472,88.3 475,85.1 478,86.0 481,83.7 484,83.6 487,84.8 490,83.7 493,84.5 496,83.4 499,82.0 502,81.1 505,81.5 508,82.6 511,82.9 514,88.8 517,89.3 520,90.0 523,149.1 526,201.3 529,198.3 532,187.2 535,186.6 538,184.7 541,168.3 544,171.7 547,161.0 550,143.0 553,138.1 556,127.4 559,118.3 562,105.5 565,99.8 568,90.9 571,84.4 574,78.5 577,73.8 580,73.5 583,69.9 586,70.9 589,70.9 592,74.0 595,76.4 598,79.3 601,80.6 604,81.8 607,81.3 610,82.2 613,82.4 616,83.1 619,83.2 622,84.0 625,84.0 628,84.9 631,86.1 634,87.1 637,89.9 640,91.1 643,90.4 646,92.0 649,90.4 652,90.5 655,91.6 658,91.1 661,92.8 664,93.0 667,94.9 670,100.3 673,105.6 676,111.9 679,111.2 682,98.1 685,89.1 688,86.9 691,86.6 694,87.0 697,86.9 700,86.1 703,87.4 706,88.8 709,90.5 712,90.3 715,89.9 718,90.0 721,88.8 724,88.2"/><polyline points="403,89.3 406,85.1 409,84.1 412,82.0 415,81.7 418,82.0 421,81.2 424,82.0 427,80.7 430,81.2 433,81.4 436,82.0 439,83.2 442,84.8 445,86.6 448,84.4 451,83.5 454,78.5 457,76.6 460,72.1 463,69.6 466,68.1 469,66.7 472,66.1 475,65.6 478,66.4 481,67.3 484,71.0 487,74.5 490,76.3 493,78.7 496,78.0 499,76.1 502,75.8 505,76.3 508,76.8 511,80.6 514,92.2 517,98.1 520,108.4 523,117.8 526,129.1 529,133.6 532,143.6 535,151.8 538,170.6 541,171.4 544,175.6 547,182.0 550,170.8 553,165.9 556,169.4 559,159.8 562,157.7 565,152.9 568,139.4 571,131.5 574,118.3 577,109.3 580,101.9 583,94.1 586,86.5 589,84.0 592,81.9 595,81.1 598,81.6 601,82.0 604,80.4 607,80.2 610,80.4 613,80.2 616,80.4 619,81.1 622,83.6 625,81.6 628,82.5 631,82.2 634,81.8 637,82.2 640,82.1 643,83.3 646,83.6 649,83.5 652,83.6 655,83.4 658,84.0 661,86.2 664,86.4 667,85.8 670,87.5 673,87.2 676,88.0 679,87.6 682,87.0 685,86.0 688,86.8 691,87.9 694,88.5 697,89.5 700,88.8 703,87.1 706,85.2 709,83.1 712,82.8 715,81.6 718,83.5 721,84.4 724,86.4"/><polyline points="403,87.5 406,86.6 409,84.4 412,82.6 415,83.0 418,80.9 421,81.1 424,80.1 427,81.0 430,81.9 433,83.2 436,83.3 439,82.6 442,82.4 445,82.7 448,82.2 451,83.5 454,82.4 457,82.1 460,82.8 463,83.5 466,83.4 469,82.8 472,81.1 475,81.7 478,79.8 481,80.5 484,82.3 487,80.5 490,79.5 493,78.4 496,78.3 499,78.2 502,77.5 505,80.8 508,80.6 511,81.2 514,87.2 517,90.9 520,110.2 523,144.8 526,175.0 529,205.5 532,218.3 535,240.6 538,221.1 541,221.1 544,206.0 547,195.9 550,177.4 553,157.9 556,131.7 559,111.6 562,97.5 565,89.8 568,84.6 571,84.0 574,84.1 577,84.0 580,85.3 583,84.5 586,83.5 589,84.2 592,85.1 595,85.8 598,86.7 601,85.9 604,85.3 607,83.4 610,81.3 613,79.7 616,81.4 619,81.5 622,84.9 625,89.5 628,92.7 631,97.4 634,100.8 637,103.6 640,108.7 643,98.0 646,90.5 649,88.2 652,89.2 655,89.9 658,89.8 661,89.7 664,88.7 667,89.5 670,88.5 673,86.6 676,87.0 679,87.2 682,87.7 685,87.2 688,88.3 691,87.6 694,88.7 697,87.9 700,87.6 703,89.0 706,88.2 709,88.5 712,89.7 715,91.8 718,94.3 721,95.7 724,97.6"/><polyline points="403,92.1 406,92.2 409,91.2 412,93.6 415,95.3 418,96.1 421,97.3 424,96.7 427,95.1 430,93.1 433,90.3 436,87.0 439,86.3 442,87.8 445,90.9 448,93.5 451,95.7 454,96.4 457,93.5 460,92.1 463,88.3 466,87.8 469,87.2 472,87.2 475,89.6 478,89.7 481,91.0 484,91.7 487,92.3 490,91.2 493,88.9 496,98.0 499,128.5 502,159.0 505,172.1 508,161.1 511,163.2 514,175.1 517,167.8 520,170.0 523,163.4 526,151.7 529,142.4 532,138.4 535,129.5 538,121.0 541,111.4 544,104.8 547,99.3 550,97.2 553,95.0 556,96.3 559,96.5 562,96.6 565,98.0 568,96.3 571,97.1 574,95.8 577,94.9 580,92.2 583,90.3 586,90.8 589,88.1 592,86.8 595,86.7 598,90.1 601,94.7 604,101.4 607,99.8 610,98.9 613,97.3 616,93.9 619,92.0 622,92.4 625,91.8 628,92.8 631,94.0 634,95.1 637,95.2 640,94.6 643,96.0 646,96.7 649,99.1 652,100.7 655,103.5 658,102.6 661,97.8 664,95.4 667,95.9 670,96.7 673,96.4 676,96.3 679,94.7 682,96.1 685,94.0 688,94.5 691,92.5 694,91.4 697,89.2 700,86.6 703,84.4 706,83.6 709,81.9 712,80.8 715,82.5 718,83.2 721,83.9 724,85.3"/><polyline points="403,95.6 406,96.0 409,97.3 412,96.9 415,97.8 418,95.9 421,94.5 424,95.9 427,95.2 430,95.0 433,92.9 436,92.5 439,92.5 442,93.9 445,93.2 448,94.4 451,94.4 454,93.0 457,92.4 460,91.0 463,87.9 466,89.9 469,89.3 472,90.0 475,90.8 478,89.4 481,89.0 484,87.0 487,83.0 490,80.7 493,77.1 496,73.7 499,73.7 502,75.1 505,76.3 508,80.3 511,83.7 514,94.1 517,116.1 520,153.2 523,193.5 526,203.0 529,195.6 532,202.0 535,196.3 538,197.3 541,185.5 544,177.5 547,172.3 550,170.1 553,151.7 556,143.0 559,138.5 562,132.4 565,123.7 568,114.2 571,103.9 574,98.3 577,90.4 580,83.0 583,78.8 586,75.8 589,71.1 592,72.1 595,71.4 598,72.7 601,74.5 604,78.0 607,80.9 610,83.5 613,85.5 616,85.1 619,87.7 622,88.3 625,89.5 628,91.3 631,92.6 634,95.3 637,97.3 640,98.6 643,99.2 646,98.3 649,96.5 652,94.5 655,94.8 658,93.8 661,94.1 664,92.6 667,93.1 670,99.0 673,115.5 676,127.0 679,115.4 682,103.0 685,95.1 688,94.9 691,95.0 694,95.8 697,95.9 700,95.9 703,96.3 706,95.4 709,97.0 712,97.3 715,98.4 718,96.6 721,97.4 724,96.7"/><polyline points="403,86.4 406,86.5 409,88.3 412,88.0 415,90.0 418,89.9 421,89.1 424,90.1 427,89.4 430,89.0 433,87.1 436,85.8 439,84.8 442,85.3 445,84.4 448,85.5 451,85.0 454,85.0 457,83.8 460,83.2 463,82.2 466,82.4 469,80.7 472,81.6 475,81.7 478,80.2 481,81.0 484,82.1 487,82.6 490,82.9 493,81.4 496,78.5 499,74.8 502,71.5 505,67.1 508,66.6 511,68.0 514,76.9 517,80.6 520,99.0 523,138.7 526,165.6 529,174.3 532,166.3 535,163.9 538,160.0 541,154.9 544,149.3 547,141.2 550,133.4 553,123.0 556,116.2 559,107.0 562,99.3 565,91.8 568,87.1 571,84.4 574,81.2 577,79.7 580,79.5 583,82.9 586,86.5 589,90.4 592,89.8 595,84.9 598,81.3 601,75.6 604,74.8 607,74.9 610,74.6 613,78.3 616,77.5 619,79.2 622,79.5 625,80.4 628,80.9 631,82.6 634,81.4 637,81.8 640,82.3 643,81.7 646,79.6 649,80.3 652,81.1 655,86.1 658,90.1 661,93.4 664,89.5 667,87.1 670,84.7 673,81.9 676,83.2 679,83.5 682,82.4 685,83.6 688,81.3 691,81.3 694,80.4 697,79.7 700,80.8 703,80.8 706,80.6 709,82.1 712,83.7 715,84.3 718,86.2 721,86.4 724,87.4"/><polyline points="403,87.9 406,86.2 409,85.8 412,84.4 415,84.3 418,86.2 421,85.7 424,87.3 427,85.8 430,85.8 433,85.4 436,85.2 439,83.3 442,83.2 445,82.0 448,81.5 451,81.7 454,81.4 457,81.8 460,81.8 463,80.6 466,79.4 469,79.3 472,78.3 475,79.2 478,79.4 481,79.2 484,81.1 487,79.6 490,79.4 493,78.3 496,77.6 499,76.9 502,76.4 505,75.4 508,76.1 511,75.5 514,81.0 517,90.0 520,105.6 523,120.6 526,136.8 529,138.8 532,134.6 535,136.1 538,137.8 541,131.5 544,128.4 547,125.9 550,118.2 553,119.8 556,112.3 559,111.5 562,105.6 565,103.8 568,97.8 571,95.1 574,92.4 577,89.2 580,86.9 583,84.3 586,83.0 589,83.8 592,81.7 595,82.2 598,80.0 601,79.0 604,78.4 607,77.7 610,79.0 613,80.0 616,80.2 619,81.9 622,80.4 625,81.2 628,79.0 631,80.6 634,83.9 637,87.7 640,89.9 643,89.7 646,87.1 649,90.5 652,96.6 655,100.9 658,95.8 661,90.7 664,86.7 667,84.1 670,83.3 673,84.6 676,85.4 679,87.0 682,86.8 685,86.3 688,84.4 691,88.3 694,87.7 697,89.3 700,89.1 703,88.3 706,85.7 709,84.7 712,84.3 715,86.0 718,85.5 721,85.6 724,85.6"/><polyline points="403,86.1 406,85.9 409,85.0 412,85.8 415,86.8 418,86.2 421,84.9 424,84.3 427,83.3 430,82.8 433,81.0 436,81.7 439,83.8 442,86.4 445,88.8 448,91.1 451,90.7 454,89.0 457,87.1 460,82.9 463,82.1 466,79.4 469,79.5 472,79.8 475,80.3 478,81.8 481,81.9 484,83.8 487,83.0 490,83.8 493,83.5 496,82.0 499,82.0 502,81.0 505,79.3 508,78.4 511,78.1 514,85.4 517,105.1 520,144.3 523,189.1 526,210.6 529,228.0 532,229.8 535,205.1 538,214.5 541,210.9 544,218.5 547,204.9 550,196.1 553,184.6 556,182.0 559,176.8 562,163.6 565,152.4 568,149.3 571,135.3 574,129.8 577,124.7 580,113.7 583,105.5 586,96.4 589,93.7 592,87.3 595,84.0 598,81.5 601,81.1 604,81.6 607,81.6 610,82.6 613,84.0 616,85.1 619,85.6 622,85.7 625,86.3 628,84.0 631,82.7 634,82.9 637,83.3 640,84.3 643,86.2 646,86.8 649,87.9 652,89.7 655,88.4 658,86.0 661,86.8 664,86.9 667,83.8 670,83.8 673,81.3 676,81.3 679,81.6 682,83.2 685,83.5 688,84.3 691,84.9 694,88.0 697,89.4 700,90.4 703,92.9 706,95.6 709,98.6 712,101.4 715,104.6 718,107.2 721,110.6 724,111.9"/><polyline points="403,88.0 406,87.8 409,86.7 412,85.0 415,86.1 418,84.5 421,82.2 424,80.5 427,82.6 430,83.2 433,84.5 436,85.1 439,84.6 442,82.5 445,80.4 448,79.3 451,78.7 454,79.0 457,80.7 460,81.6 463,82.8 466,84.7 469,84.0 472,81.8 475,79.0 478,78.5 481,79.7 484,80.6 487,81.6 490,83.8 493,83.3 496,82.9 499,82.3 502,81.0 505,81.4 508,79.5 511,80.2 514,85.9 517,85.6 520,85.6 523,87.2 526,92.8 529,99.1 532,104.9 535,111.5 538,115.6 541,122.2 544,128.0 547,129.7 550,129.9 553,130.4 556,129.1 559,127.8 562,123.0 565,122.8 568,125.1 571,117.3 574,113.6 577,109.9 580,100.3 583,94.1 586,91.9 589,90.5 592,87.8 595,85.2 598,82.1 601,78.4 604,73.4 607,71.6 610,72.1 613,72.6 616,75.9 619,75.2 622,77.5 625,78.3 628,80.5 631,82.6 634,82.4 637,83.1 640,83.3 643,90.3 646,97.1 649,94.4 652,92.5 655,89.6 658,87.7 661,86.8 664,89.5 667,91.7 670,93.8 673,93.7 676,91.7 679,89.5 682,87.2 685,87.5 688,88.0 691,89.7 694,89.8 697,90.5 700,90.6 703,89.6 706,89.5 709,87.8 712,87.2 715,87.1 718,89.3 721,90.2 724,90.7"/><polyline points="403,90.5 406,90.1 409,91.2 412,92.1 415,92.4 418,93.3 421,92.3 424,90.8 427,89.9 430,87.0 433,86.7 436,88.1 439,88.7 442,89.7 445,91.4 448,91.6 451,89.3 454,89.3 457,87.6 460,87.3 463,87.1 466,87.9 469,87.0 472,87.5 475,86.6 478,87.4 481,87.5 484,89.6 487,89.5 490,89.1 493,89.3 496,87.9 499,86.0 502,84.2 505,82.9 508,82.4 511,82.3 514,94.9 517,117.4 520,145.7 523,179.0 526,190.9 529,193.7 532,206.2 535,188.8 538,193.1 541,184.4 544,174.3 547,171.4 550,158.2 553,150.5 556,144.1 559,131.3 562,124.3 565,118.1 568,109.8 571,102.5 574,97.0 577,92.7 580,89.9 583,89.2 586,88.4 589,87.6 592,87.8 595,88.3 598,94.1 601,98.7 604,99.5 607,96.3 610,95.0 613,91.3 616,88.7 619,90.1 622,88.8 625,88.2 628,88.5 631,89.6 634,89.0 637,89.7 640,89.0 643,88.4 646,88.8 649,87.9 652,88.0 655,88.6 658,89.7 661,88.5 664,88.2 667,90.3 670,96.0 673,101.2 676,97.0 679,91.5 682,88.5 685,90.1 688,89.9 691,89.9 694,89.5 697,88.4 700,89.1 703,87.7 706,87.6 709,86.2 712,86.4 715,87.4 718,88.1 721,89.8 724,89.4"/><polyline points="403,96.7 406,97.2 409,97.4 412,96.6 415,94.0 418,92.5 421,91.5 424,91.8 427,90.9 430,88.5 433,88.2 436,87.4 439,86.8 442,87.8 445,89.1 448,90.3 451,89.1 454,89.3 457,90.2 460,90.5 463,91.2 466,89.3 469,90.7 472,87.3 475,87.1 478,85.3 481,83.3 484,83.8 487,83.1 490,82.8 493,82.8 496,81.6 499,81.1 502,79.6 505,79.5 508,78.3 511,77.7 514,85.2 517,89.3 520,102.5 523,126.9 526,154.2 529,185.0 532,214.1 535,236.2 538,244.9 541,254.9 544,246.6 547,239.8 550,226.0 553,209.5 556,208.1 559,190.5 562,171.2 565,157.8 568,136.7 571,125.9 574,114.7 577,105.1 580,96.6 583,91.9 586,89.1 589,87.8 592,87.7 595,86.4 598,87.7 601,87.5 604,87.6 607,87.5 610,88.3 613,88.3 616,89.7 619,91.0 622,92.4 625,93.3 628,92.8 631,93.8 634,93.1 637,90.6 640,89.7 643,88.6 646,88.9 649,92.8 652,93.7 655,94.6 658,95.6 661,94.0 664,94.5 667,94.0 670,93.4 673,93.8 676,93.0 679,94.7 682,94.6 685,94.2 688,94.5 691,93.4 694,92.7 697,92.1 700,91.5 703,90.9 706,90.8 709,91.1 712,92.1 715,91.4 718,93.6 721,94.3 724,92.8"/><polyline points="403,94.9 406,94.7 409,94.2 412,95.2 415,95.1 418,94.1 421,93.7 424,92.5 427,91.1 430,91.0 433,89.8 436,88.0 439,87.3 442,85.6 445,85.9 448,86.5 451,85.0 454,85.7 457,83.6 460,81.3 463,79.3 466,77.8 469,75.1 472,73.1 475,73.3 478,71.0 481,69.4 484,69.9 487,70.3 490,73.8 493,75.9 496,77.5 499,78.0 502,80.2 505,83.5 508,83.8 511,90.1 514,107.9 517,130.1 520,150.6 523,181.3 526,197.1 529,219.5 532,226.5 535,233.2 538,219.6 541,238.6 544,231.9 547,217.7 550,205.4 553,192.1 556,178.5 559,164.1 562,148.5 565,128.5 568,116.2 571,104.4 574,96.9 577,91.7 580,89.6 583,88.0 586,87.6 589,85.3 592,84.6 595,83.3 598,84.8 601,83.6 604,86.3 607,87.1 610,90.4 613,91.5 616,90.9 619,91.4 622,90.6 625,89.6 628,89.7 631,89.7 634,89.5 637,90.3 640,92.4 643,93.2 646,94.1 649,96.1 652,94.9 655,94.1 658,93.7 661,93.2 664,92.1 667,90.7 670,88.7 673,95.3 676,103.6 679,103.8 682,96.7 685,89.5 688,88.9 691,90.5 694,92.3 697,94.7 700,94.2 703,93.8 706,94.0 709,96.0 712,97.3 715,103.8 718,107.2 721,109.7 724,111.5"/><polyline points="403,82.8 406,83.5 409,82.3 412,83.1 415,82.3 418,82.0 421,80.6 424,80.6 427,80.6 430,79.8 433,79.9 436,78.2 439,79.5 442,79.5 445,77.5 448,79.1 451,81.0 454,83.0 457,85.2 460,87.4 463,86.4 466,85.4 469,82.9 472,81.0 475,80.5 478,77.9 481,77.6 484,77.0 487,76.2 490,77.7 493,76.1 496,77.4 499,77.3 502,78.3 505,76.6 508,77.1 511,76.5 514,84.5 517,88.8 520,98.3 523,109.5 526,124.7 529,136.5 532,151.9 535,176.5 538,193.6 541,199.5 544,199.9 547,208.4 550,211.4 553,200.1 556,185.9 559,173.0 562,166.0 565,138.3 568,125.4 571,104.2 574,89.6 577,80.6 580,74.9 583,74.3 586,75.0 589,73.7 592,74.3 595,73.4 598,73.3 601,74.1 604,74.3 607,75.3 610,77.6 613,78.8 616,81.2 619,83.2 622,83.0 625,83.3 628,82.7 631,81.7 634,82.6 637,83.1 640,84.1 643,86.3 646,86.7 649,87.3 652,86.4 655,85.4 658,84.2 661,82.9 664,82.6 667,83.6 670,83.5 673,85.9 676,86.4 679,86.7 682,86.1 685,86.0 688,85.4 691,82.7 694,82.6 697,81.0 700,80.1 703,80.8 706,80.7 709,80.5 712,80.8 715,81.6 718,82.7 721,82.1 724,82.3"/><polyline points="403,90.7 406,91.7 409,90.6 412,89.7 415,89.8 418,89.2 421,90.1 424,88.6 427,89.1 430,88.9 433,89.8 436,88.5 439,89.9 442,90.8 445,90.3 448,90.1 451,89.3 454,89.8 457,88.1 460,88.6 463,86.5 466,84.2 469,83.2 472,80.3 475,78.3 478,77.2 481,75.2 484,73.9 487,71.1 490,70.3 493,70.3 496,72.8 499,74.5 502,77.6 505,80.7 508,81.8 511,84.7 514,92.4 517,121.5 520,181.5 523,206.6 526,214.8 529,211.5 532,198.4 535,195.2 538,184.3 541,166.8 544,154.5 547,140.8 550,125.6 553,115.5 556,107.8 559,96.3 562,86.7 565,82.8 568,81.1 571,79.1 574,78.2 577,77.9 580,76.4 583,76.1 586,76.7 589,78.1 592,78.9 595,79.5 598,81.7 601,83.6 604,94.9 607,107.5 610,108.4 613,101.6 616,93.5 619,88.2 622,89.3 625,88.7 628,91.9 631,90.5 634,91.6 637,90.6 640,88.6 643,88.4 646,86.9 649,87.0 652,87.7 655,90.7 658,93.2 661,93.6 664,91.8 667,93.6 670,93.9 673,95.7 676,97.5 679,97.1 682,97.3 685,98.0 688,95.5 691,94.5 694,93.1 697,93.4 700,93.4 703,93.7 706,92.6 709,92.1 712,92.2 715,93.9 718,94.1 721,94.3 724,92.9"/><polyline points="403,88.2 406,86.8 409,87.2 412,86.0 415,86.3 418,83.3 421,84.5 424,83.0 427,84.8 430,85.7 433,86.0 436,87.0 439,88.2 442,88.5 445,87.4 448,84.8 451,83.0 454,82.2 457,79.5 460,77.5 463,78.9 466,79.7 469,81.1 472,83.3 475,82.4 478,82.4 481,82.9 484,83.0 487,83.6 490,83.1 493,82.7 496,80.9 499,76.2 502,70.0 505,64.8 508,63.2 511,65.8 514,79.1 517,96.1 520,122.2 523,144.9 526,159.2 529,163.6 532,171.1 535,172.4 538,166.6 541,159.6 544,160.9 547,152.5 550,144.6 553,146.0 556,135.6 559,128.6 562,127.1 565,118.6 568,112.8 571,107.8 574,100.5 577,96.8 580,94.0 583,90.1 586,89.8 589,87.5 592,83.9 595,82.0 598,81.5 601,80.7 604,80.7 607,83.1 610,84.4 613,85.4 616,85.1 619,87.1 622,89.3 625,87.7 628,88.9 631,88.8 634,88.6 637,87.5 640,87.0 643,87.9 646,88.9 649,88.7 652,87.4 655,87.5 658,86.8 661,85.0 664,84.1 667,83.2 670,81.7 673,81.0 676,78.1 679,75.4 682,77.3 685,78.5 688,80.6 691,83.4 694,80.1 697,71.5 700,66.3 703,60.1 706,61.6 709,63.9 712,66.4 715,67.4 718,69.2 721,71.0 724,74.2"/><polyline points="403,90.7 406,90.5 409,90.8 412,89.8 415,88.2 418,87.8 421,88.2 424,87.2 427,87.0 430,87.7 433,87.8 436,87.9 439,89.6 442,90.1 445,90.3 448,88.6 451,87.5 454,86.8 457,86.2 460,86.2 463,86.2 466,87.4 469,86.6 472,86.1 475,86.5 478,86.8 481,85.7 484,87.0 487,84.6 490,83.1 493,76.0 496,71.4 499,66.3 502,66.0 505,68.9 508,73.2 511,79.8 514,87.2 517,91.6 520,112.6 523,142.4 526,147.3 529,146.7 532,142.8 535,133.9 538,127.1 541,120.4 544,112.8 547,104.7 550,97.0 553,91.9 556,88.5 559,86.9 562,86.4 565,85.7 568,85.5 571,85.5 574,85.1 577,85.6 580,86.1 583,86.0 586,85.8 589,88.2 592,89.7 595,90.2 598,92.6 601,91.7 604,92.5 607,91.2 610,88.6 613,88.2 616,84.7 619,84.3 622,83.0 625,83.1 628,83.1 631,83.1 634,81.9 637,83.9 640,87.1 643,86.6 646,86.4 649,88.0 652,88.4 655,90.2 658,94.6 661,98.7 664,103.0 667,100.5 670,96.4 673,90.4 676,87.6 679,83.3 682,82.4 685,84.7 688,85.1 691,85.4 694,84.3 697,83.2 700,83.8 703,86.0 706,86.0 709,85.9 712,86.7 715,87.0 718,89.1 721,90.1 724,90.4"/><polyline points="403,91.6 406,90.8 409,90.5 412,92.2 415,92.0 418,90.6 421,91.0 424,89.8 427,91.1 430,88.6 433,90.5 436,89.8 439,90.2 442,88.3 445,88.4 448,86.8 451,84.8 454,85.0 457,84.0 460,82.5 463,83.4 466,82.9 469,84.0 472,85.7 475,84.7 478,85.6 481,86.1 484,85.4 487,88.4 490,88.8 493,88.5 496,89.8 499,87.9 502,86.7 505,85.4 508,85.2 511,83.5 514,89.0 517,88.5 520,94.8 523,117.5 526,152.1 529,184.4 532,224.5 535,248.4 538,246.4 541,237.2 544,231.8 547,231.4 550,225.4 553,223.6 556,221.3 559,211.7 562,198.6 565,193.0 568,175.2 571,170.5 574,148.5 577,137.7 580,124.7 583,113.9 586,104.3 589,94.7 592,88.0 595,83.1 598,79.9 601,78.3 604,79.5 607,81.7 610,85.4 613,93.0 616,99.7 619,106.4 622,102.0 625,96.2 628,95.1 631,91.9 634,91.7 637,88.3 640,89.8 643,87.9 646,86.8 649,87.6 652,85.7 655,89.1 658,90.4 661,91.3 664,92.1 667,93.3 670,94.5 673,93.0 676,93.8 679,93.8 682,92.7 685,93.7 688,96.6 691,97.3 694,99.2 697,100.7 700,99.7 703,100.2 706,100.1 709,100.5 712,100.0 715,99.5 718,102.6 721,103.7 724,107.5"/><polyline points="403,94.3 406,94.9 409,93.1 412,94.5 415,91.4 418,89.8 421,88.1 424,87.5 427,85.0 430,84.8 433,86.3 436,86.9 439,88.3 442,88.9 445,90.5 448,89.4 451,88.5 454,88.5 457,88.1 460,87.3 463,88.9 466,88.6 469,88.5 472,89.6 475,89.5 478,90.2 481,89.9 484,90.0 487,89.6 490,88.6 493,89.0 496,88.1 499,87.9 502,88.4 505,87.6 508,86.7 511,85.8 514,90.6 517,95.2 520,113.6 523,134.3 526,166.8 529,194.7 532,213.8 535,239.4 538,234.9 541,242.8 544,224.8 547,224.8 550,235.4 553,214.2 556,190.2 559,187.0 562,168.9 565,156.6 568,135.2 571,127.3 574,116.2 577,106.5 580,98.6 583,100.2 586,104.2 589,97.3 592,85.4 595,78.3 598,80.5 601,83.9 604,85.9 607,87.1 610,88.0 613,86.8 616,86.7 619,85.1 622,84.9 625,85.6 628,87.1 631,88.9 634,90.0 637,90.4 640,92.9 643,94.1 646,93.5 649,93.6 652,93.1 655,93.3 658,92.0 661,92.0 664,88.7 667,88.8 670,89.4 673,89.0 676,90.6 679,93.5 682,92.6 685,94.0 688,95.8 691,94.9 694,93.6 697,94.6 700,95.1 703,97.8 706,98.6 709,99.8 712,100.1 715,101.3 718,98.8 721,99.2 724,100.7"/><polyline points="403,89.8 406,89.3 409,89.4 412,88.4 415,89.1 418,89.6 421,86.4 424,86.2 427,85.3 430,84.8 433,84.4 436,85.9 439,84.8 442,85.9 445,85.8 448,85.7 451,87.4 454,89.3 457,89.1 460,88.0 463,87.0 466,83.9 469,81.7 472,81.1 475,79.7 478,80.3 481,78.7 484,79.9 487,80.1 490,80.0 493,79.1 496,78.9 499,78.9 502,78.8 505,78.0 508,79.0 511,81.6 514,87.9 517,92.1 520,94.6 523,99.1 526,102.5 529,106.6 532,110.9 535,116.5 538,120.5 541,121.8 544,121.7 547,124.6 550,121.6 553,124.9 556,117.1 559,117.2 562,112.7 565,108.0 568,103.0 571,96.1 574,93.3 577,91.4 580,89.3 583,87.9 586,85.7 589,85.3 592,83.8 595,82.8 598,82.2 601,83.1 604,84.6 607,86.0 610,88.2 613,89.9 616,90.5 619,91.5 622,92.0 625,90.8 628,89.4 631,88.3 634,88.8 637,87.1 640,86.5 643,87.0 646,87.0 649,86.9 652,85.7 655,86.9 658,87.0 661,87.6 664,89.1 667,90.3 670,93.1 673,93.2 676,93.0 679,91.3 682,93.3 685,94.3 688,95.3 691,95.5 694,89.3 697,82.4 700,78.4 703,74.5 706,68.3 709,62.2 712,58.0 715,55.7 718,59.3 721,64.5 724,70.9"/><polyline points="403,85.2 406,85.3 409,86.0 412,87.7 415,87.8 418,88.4 421,87.1 424,85.4 427,84.5 430,84.1 433,82.9 436,82.5 439,83.0 442,84.5 445,84.6 448,85.0 451,84.8 454,84.1 457,85.4 460,83.3 463,84.1 466,82.6 469,81.0 472,79.6 475,81.0 478,81.6 481,82.3 484,81.1 487,77.4 490,73.1 493,65.9 496,63.3 499,63.2 502,67.4 505,72.1 508,75.8 511,77.3 514,83.1 517,84.6 520,84.2 523,102.9 526,154.1 529,196.1 532,210.9 535,220.3 538,215.7 541,209.7 544,200.4 547,196.7 550,192.3 553,182.2 556,166.0 559,156.0 562,144.6 565,133.8 568,122.8 571,112.5 574,103.4 577,97.0 580,90.8 583,86.2 586,84.2 589,83.9 592,82.5 595,82.6 598,81.5 601,81.6 604,81.7 607,83.2 610,82.3 613,82.4 616,82.8 619,82.6 622,82.8 625,82.6 628,81.8 631,82.0 634,80.8 637,79.3 640,80.5 643,82.8 646,83.6 649,84.8 652,85.8 655,84.1 658,84.8 661,84.9 664,85.2 667,85.7 670,84.9 673,84.4 676,84.7 679,84.7 682,86.8 685,86.4 688,86.6 691,87.0 694,86.4 697,87.1 700,87.6 703,89.0 706,90.1 709,94.0 712,95.2 715,97.0 718,99.0 721,99.9 724,101.7"/><polyline points="403,81.0 406,81.5 409,82.3 412,84.3 415,84.5 418,82.8 421,83.8 424,82.6 427,82.9 430,83.2 433,82.4 436,81.2 439,79.4 442,79.7 445,79.3 448,81.0 451,79.5 454,80.6 457,80.7 460,81.3 463,81.9 466,83.5 469,82.5 472,82.5 475,82.1 478,81.5 481,82.7 484,82.2 487,83.0 490,82.6 493,81.6 496,82.0 499,79.9 502,77.2 505,74.3 508,73.6 511,74.4 514,80.2 517,87.4 520,94.5 523,108.3 526,125.6 529,141.3 532,164.1 535,171.3 538,191.3 541,198.5 544,212.6 547,235.5 550,219.2 553,227.5 556,224.7 559,221.6 562,216.8 565,197.1 568,186.3 571,171.8 574,154.9 577,141.7 580,125.4 583,112.9 586,100.6 589,91.1 592,84.6 595,80.3 598,78.3 601,80.0 604,80.5 607,81.2 610,80.4 613,80.5 616,81.3 619,81.1 622,82.1 625,81.9 628,83.3 631,82.6 634,83.8 637,82.0 640,83.0 643,82.8 646,82.8 649,82.6 652,83.1 655,83.1 658,83.0 661,83.6 664,82.9 667,84.3 670,85.3 673,85.8 676,85.4 679,84.8 682,84.0 685,82.8 688,80.3 691,78.5 694,76.6 697,71.9 700,65.9 703,62.0 706,59.5 709,58.8 712,60.7 715,64.8 718,69.8 721,74.0 724,78.7"/><polyline points="403,89.8 406,89.3 409,89.5 412,91.5 415,90.2 418,91.7 421,90.5 424,88.4 427,87.2 430,85.7 433,85.7 436,86.7 439,84.3 442,86.0 445,85.6 448,84.9 451,85.3 454,86.2 457,84.6 460,84.7 463,83.5 466,83.2 469,83.5 472,83.9 475,82.9 478,84.2 481,83.8 484,82.0 487,81.9 490,81.1 493,83.1 496,84.3 499,85.5 502,86.7 505,86.6 508,85.7 511,84.7 514,91.4 517,96.8 520,112.0 523,126.5 526,142.6 529,160.0 532,165.5 535,166.9 538,164.9 541,154.6 544,159.7 547,151.6 550,146.9 553,149.9 556,141.1 559,134.6 562,123.6 565,124.1 568,120.7 571,114.9 574,109.9 577,105.1 580,99.0 583,96.0 586,92.5 589,89.0 592,85.1 595,82.8 598,81.5 601,77.4 604,75.4 607,72.1 610,69.9 613,67.9 616,67.3 619,67.5 622,68.7 625,72.9 628,76.6 631,82.5 634,91.1 637,93.7 640,92.0 643,89.5 646,87.6 649,85.3 652,86.2 655,87.1 658,85.6 661,86.2 664,86.3 667,86.0 670,87.0 673,88.5 676,87.9 679,87.7 682,89.4 685,88.6 688,89.2 691,90.2 694,90.5 697,90.9 700,91.2 703,94.3 706,96.9 709,100.6 712,100.3 715,100.4 718,96.2 721,92.8 724,89.3"/><polyline points="403,77.3 406,77.2 409,78.7 412,79.4 415,80.5 418,80.6 421,80.6 424,80.0 427,78.4 430,78.7 433,79.0 436,79.6 439,79.4 442,79.0 445,81.0 448,81.5 451,81.7 454,83.6 457,82.3 460,82.0 463,80.3 466,79.0 469,77.5 472,76.2 475,76.0 478,75.3 481,73.9 484,75.3 487,76.1 490,76.8 493,76.9 496,75.9 499,73.4 502,69.0 505,64.5 508,62.3 511,61.5 514,72.1 517,79.5 520,91.1 523,101.4 526,113.2 529,124.9 532,143.5 535,151.1 538,155.4 541,170.1 544,170.7 547,168.8 550,161.8 553,158.9 556,152.4 559,154.5 562,146.4 565,137.3 568,126.1 571,115.0 574,105.7 577,95.3 580,90.3 583,84.0 586,80.3 589,78.9 592,79.4 595,78.5 598,79.2 601,77.6 604,77.4 607,77.5 610,76.7 613,78.3 616,77.8 619,77.4 622,77.0 625,77.0 628,77.6 631,78.3 634,78.4 637,79.1 640,79.0 643,78.5 646,79.4 649,83.2 652,91.5 655,105.2 658,109.7 661,112.0 664,102.5 667,91.1 670,82.4 673,80.5 676,79.6 679,79.9 682,82.2 685,82.8 688,84.0 691,86.0 694,88.7 697,90.0 700,90.3 703,90.6 706,92.0 709,94.1 712,97.0 715,98.8 718,100.6 721,103.9 724,106.2"/><polyline points="403,82.8 406,83.9 409,82.1 412,82.5 415,82.7 418,82.2 421,81.9 424,81.8 427,81.9 430,82.5 433,82.7 436,82.1 439,82.9 442,82.4 445,81.1 448,82.9 451,82.3 454,84.1 457,84.0 460,84.3 463,84.4 466,83.5 469,83.1 472,82.2 475,81.4 478,82.8 481,82.0 484,82.6 487,84.1 490,84.1 493,83.1 496,82.2 499,79.6 502,79.0 505,76.8 508,76.0 511,76.1 514,81.1 517,82.9 520,84.3 523,91.6 526,100.5 529,117.6 532,132.1 535,149.2 538,159.8 541,163.6 544,160.4 547,165.2 550,164.7 553,156.3 556,158.5 559,146.0 562,143.5 565,135.2 568,121.1 571,116.9 574,105.0 577,98.8 580,94.2 583,87.1 586,82.6 589,81.9 592,80.7 595,82.3 598,81.6 601,80.7 604,80.3 607,79.5 610,79.3 613,81.2 616,82.6 619,84.5 622,84.5 625,84.1 628,84.4 631,83.0 634,83.6 637,82.5 640,81.9 643,81.2 646,79.7 649,79.4 652,80.4 655,81.5 658,82.9 661,83.4 664,83.9 667,85.1 670,83.5 673,83.9 676,82.3 679,81.9 682,83.8 685,83.1 688,83.1 691,83.4 694,83.8 697,84.5 700,86.0 703,84.4 706,84.6 709,85.4 712,85.8 715,85.7 718,85.1 721,84.0 724,83.8"/><polyline points="403,95.5 406,93.8 409,92.9 412,92.7 415,93.4 418,92.8 421,93.8 424,93.1 427,93.1 430,94.6 433,94.8 436,94.8 439,94.0 442,92.9 445,91.8 448,90.2 451,90.3 454,90.4 457,91.9 460,91.5 463,90.9 466,90.6 469,89.2 472,88.8 475,87.5 478,89.1 481,86.6 484,86.6 487,84.4 490,82.3 493,78.7 496,75.3 499,69.4 502,65.0 505,72.6 508,106.5 511,141.8 514,175.7 517,189.5 520,186.4 523,192.0 526,182.9 529,168.9 532,158.2 535,148.4 538,135.1 541,124.2 544,110.2 547,103.7 550,96.7 553,94.0 556,92.9 559,92.5 562,90.9 565,93.3 568,91.5 571,91.3 574,89.6 577,88.5 580,86.2 583,85.9 586,84.4 589,82.6 592,81.6 595,79.5 598,78.3 601,77.4 604,77.5 607,78.8 610,81.8 613,83.9 616,86.2 619,87.6 622,90.7 625,91.2 628,93.6 631,93.5 634,94.1 637,92.1 640,94.6 643,92.6 646,93.6 649,93.5 652,94.6 655,94.3 658,93.2 661,94.2 664,94.4 667,93.2 670,93.0 673,93.0 676,92.9 679,93.7 682,95.0 685,95.7 688,97.5 691,98.8 694,98.9 697,96.9 700,95.3 703,93.6 706,91.9 709,91.2 712,89.3 715,90.8 718,88.3 721,89.2 724,90.1"/><polyline points="403,81.3 406,80.9 409,80.1 412,81.2 415,80.3 418,78.4 421,79.6 424,81.4 427,84.9 430,85.6 433,86.6 436,86.5 439,84.5 442,82.2 445,80.8 448,79.8 451,79.7 454,78.8 457,78.8 460,78.5 463,76.8 466,76.2 469,78.2 472,76.1 475,78.4 478,77.0 481,77.5 484,76.6 487,75.2 490,76.0 493,76.9 496,78.0 499,78.5 502,77.5 505,75.6 508,73.5 511,73.0 514,83.2 517,95.0 520,116.1 523,134.4 526,165.9 529,175.4 532,202.1 535,203.0 538,207.3 541,202.1 544,205.1 547,197.9 550,186.6 553,181.0 556,168.3 559,152.1 562,140.2 565,124.2 568,116.8 571,106.6 574,98.1 577,88.6 580,84.1 583,81.6 586,79.8 589,78.9 592,79.9 595,81.4 598,82.2 601,81.8 604,81.8 607,78.5 610,78.3 613,78.8 616,79.7 619,79.6 622,86.5 625,89.7 628,93.7 631,90.6 634,88.3 637,86.7 640,82.6 643,83.6 646,83.3 649,84.4 652,83.6 655,81.7 658,79.6 661,79.1 664,77.6 667,78.4 670,79.6 673,78.2 676,76.1 679,73.4 682,70.8 685,66.9 688,65.3 691,62.8 694,61.8 697,61.5 700,61.2 703,65.1 706,71.5 709,78.2 712,88.1 715,95.3 718,92.0 721,87.2 724,80.5"/><polyline points="403,93.0 406,93.7 409,96.3 412,95.5 415,96.3 418,95.7 421,93.5 424,93.3 427,93.6 430,94.4 433,94.3 436,95.2 439,93.2 442,91.8 445,90.6 448,88.8 451,88.5 454,88.0 457,88.8 460,87.2 463,85.8 466,84.6 469,81.5 472,80.1 475,76.1 478,74.5 481,74.7 484,74.9 487,79.2 490,85.4 493,90.8 496,93.9 499,94.9 502,93.2 505,91.6 508,89.1 511,87.1 514,92.8 517,95.4 520,103.1 523,111.2 526,121.4 529,131.4 532,137.9 535,152.7 538,163.3 541,163.5 544,170.3 547,181.7 550,169.2 553,168.6 556,168.6 559,161.7 562,150.1 565,142.2 568,127.6 571,115.7 574,105.0 577,98.2 580,92.8 583,91.7 586,90.1 589,89.6 592,88.9 595,88.4 598,88.2 601,88.9 604,89.5 607,89.6 610,88.2 613,88.4 616,88.2 619,90.2 622,91.9 625,93.2 628,92.8 631,94.2 634,92.8 637,93.5 640,93.2 643,93.3 646,93.7 649,93.5 652,92.3 655,92.7 658,92.9 661,93.6 664,92.7 667,92.9 670,95.0 673,93.9 676,93.2 679,92.8 682,91.8 685,88.7 688,85.1 691,80.0 694,74.3 697,70.5 700,69.9 703,74.7 706,78.5 709,83.0 712,88.5 715,92.0 718,93.1 721,94.3 724,95.2"/><polyline points="403,87.6 406,88.3 409,88.2 412,87.4 415,88.3 418,88.1 421,86.2 424,85.5 427,86.4 430,86.1 433,86.3 436,86.1 439,85.9 442,86.2 445,84.8 448,84.9 451,85.7 454,84.4 457,82.4 460,82.5 463,82.1 466,80.7 469,80.1 472,78.0 475,78.0 478,78.1 481,80.9 484,82.4 487,84.5 490,86.0 493,86.3 496,86.3 499,83.6 502,81.3 505,80.3 508,80.7 511,79.4 514,85.2 517,91.9 520,110.9 523,132.8 526,156.6 529,148.9 532,151.8 535,146.5 538,143.4 541,145.8 544,134.4 547,128.6 550,122.3 553,112.9 556,106.4 559,97.1 562,91.3 565,87.5 568,85.0 571,84.2 574,83.8 577,85.0 580,85.2 583,84.7 586,83.0 589,80.3 592,78.4 595,78.8 598,77.2 601,79.5 604,81.8 607,83.4 610,86.2 613,86.9 616,88.1 619,85.9 622,85.8 625,84.8 628,85.8 631,86.2 634,87.3 637,87.9 640,89.2 643,87.9 646,88.2 649,87.6 652,87.1 655,86.7 658,84.3 661,84.1 664,81.1 667,78.5 670,74.7 673,71.4 676,70.3 679,67.6 682,65.9 685,64.5 688,61.1 691,60.4 694,58.6 697,58.6 700,60.7 703,65.9 706,69.6 709,75.1 712,76.6 715,79.6 718,81.6 721,83.5 724,86.2"/><polyline points="403,93.8 406,92.1 409,93.2 412,91.3 415,90.6 418,92.6 421,91.3 424,92.7 427,92.6 430,91.6 433,89.5 436,87.7 439,88.8 442,88.1 445,86.9 448,87.6 451,86.6 454,87.4 457,87.3 460,87.9 463,87.3 466,85.9 469,86.7 472,86.5 475,87.8 478,87.4 481,87.7 484,87.7 487,86.0 490,83.8 493,79.5 496,76.3 499,72.2 502,70.5 505,72.4 508,77.1 511,80.3 514,87.5 517,89.7 520,113.6 523,159.7 526,166.0 529,159.1 532,148.0 535,140.7 538,130.2 541,124.6 544,110.6 547,99.7 550,94.6 553,91.4 556,90.2 559,89.7 562,88.5 565,86.7 568,84.6 571,82.0 574,80.5 577,80.1 580,78.1 583,77.8 586,76.3 589,76.8 592,77.1 595,76.0 598,74.6 601,75.0 604,76.2 607,76.4 610,76.7 613,80.1 616,81.6 619,85.3 622,87.2 625,89.0 628,88.9 631,88.7 634,88.1 637,88.6 640,90.2 643,90.6 646,91.2 649,91.6 652,89.9 655,90.7 658,91.5 661,91.7 664,91.3 667,92.0 670,89.2 673,87.5 676,84.8 679,81.6 682,77.4 685,72.5 688,68.0 691,64.6 694,61.6 697,61.5 700,63.9 703,67.4 706,71.9 709,76.7 712,78.4 715,81.4 718,83.2 721,86.0 724,87.0"/><polyline points="403,88.7 406,87.6 409,85.9 412,85.9 415,83.8 418,83.3 421,80.9 424,82.5 427,82.0 430,81.9 433,82.5 436,83.5 439,82.8 442,84.2 445,85.0 448,87.7 451,88.2 454,89.1 457,89.1 460,88.2 463,87.0 466,87.2 469,84.8 472,84.4 475,85.1 478,84.4 481,83.0 484,83.6 487,83.6 490,80.8 493,81.2 496,80.2 499,81.6 502,81.5 505,81.2 508,81.6 511,79.7 514,85.5 517,104.4 520,131.0 523,132.6 526,129.8 529,132.8 532,128.4 535,125.2 538,119.6 541,116.3 544,109.8 547,104.3 550,99.4 553,97.2 556,92.2 559,89.7 562,87.9 565,85.4 568,82.5 571,78.2 574,74.6 577,73.1 580,70.9 583,70.3 586,69.4 589,69.7 592,69.3 595,71.0 598,71.4 601,77.1 604,87.5 607,97.9 610,93.1 613,88.3 616,83.7 619,78.8 622,77.0 625,76.7 628,76.9 631,78.2 634,81.1 637,81.0 640,83.1 643,83.4 646,83.6 649,82.5 652,81.4 655,81.8 658,81.9 661,82.2 664,81.4 667,82.5 670,81.9 673,85.0 676,86.2 679,87.4 682,88.3 685,88.3 688,88.9 691,88.3 694,89.9 697,91.1 700,92.4 703,94.2 706,94.7 709,96.4 712,100.2 715,103.0 718,106.8 721,108.9 724,112.3"/><polyline points="403,80.7 406,79.1 409,79.5 412,77.7 415,75.6 418,74.4 421,74.3 424,72.0 427,73.6 430,74.1 433,75.3 436,74.4 439,76.3 442,76.4 445,74.7 448,74.8 451,74.2 454,73.3 457,74.5 460,74.2 463,73.3 466,73.7 469,72.4 472,71.8 475,70.7 478,69.6 481,69.5 484,71.4 487,72.4 490,71.7 493,72.8 496,71.5 499,68.6 502,64.4 505,58.4 508,55.4 511,52.7 514,63.1 517,75.7 520,101.4 523,134.3 526,156.6 529,179.8 532,194.2 535,198.9 538,201.2 541,201.0 544,187.9 547,173.1 550,142.1 553,117.2 556,94.9 559,78.5 562,69.3 565,68.1 568,66.0 571,65.2 574,65.4 577,63.1 580,60.8 583,58.8 586,57.5 589,55.4 592,54.3 595,55.1 598,56.0 601,59.0 604,60.8 607,64.7 610,67.8 613,70.9 616,72.9 619,75.1 622,76.7 625,79.7 628,79.2 631,79.2 634,78.2 637,77.8 640,77.7 643,79.4 646,80.7 649,81.0 652,82.4 655,81.8 658,80.7 661,80.3 664,80.2 667,78.8 670,77.4 673,79.2 676,80.0 679,80.9 682,81.8 685,80.4 688,79.5 691,77.5 694,74.2 697,71.3 700,70.1 703,69.6 706,66.5 709,67.5 712,67.2 715,68.9 718,69.0 721,70.4 724,70.4"/><polyline points="403,92.8 406,93.8 409,91.5 412,91.2 415,89.3 418,90.8 421,90.9 424,90.4 427,89.6 430,89.4 433,87.0 436,86.9 439,87.3 442,90.3 445,89.4 448,91.7 451,94.9 454,94.7 457,93.4 460,92.8 463,90.5 466,89.8 469,87.1 472,86.6 475,85.3 478,87.0 481,87.1 484,87.2 487,85.9 490,85.8 493,86.8 496,87.3 499,88.6 502,90.7 505,104.3 508,132.9 511,161.3 514,195.1 517,200.1 520,194.9 523,198.1 526,194.0 529,182.5 532,173.3 535,174.2 538,174.8 541,164.4 544,158.6 547,154.1 550,143.0 553,142.3 556,130.3 559,124.0 562,117.8 565,108.1 568,102.8 571,99.5 574,95.1 577,92.0 580,90.9 583,91.3 586,91.5 589,92.8 592,95.3 595,96.4 598,97.7 601,96.1 604,95.0 607,93.4 610,91.3 613,90.5 616,89.5 619,89.5 622,88.0 625,88.4 628,88.1 631,88.2 634,88.5 637,90.6 640,92.9 643,94.3 646,93.7 649,92.9 652,92.9 655,91.9 658,90.9 661,89.9 664,91.1 667,92.5 670,93.3 673,94.3 676,94.1 679,93.0 682,93.2 685,92.8 688,93.4 691,94.0 694,95.9 697,95.5 700,95.3 703,94.6 706,92.8 709,94.6 712,93.0 715,92.3 718,91.4 721,90.4 724,91.5"/><polyline points="403,87.6 406,87.3 409,85.5 412,87.1 415,88.6 418,87.9 421,85.9 424,84.6 427,83.4 430,83.1 433,84.1 436,85.8 439,87.7 442,89.8 445,89.7 448,89.8 451,87.7 454,85.5 457,86.0 460,84.5 463,84.6 466,84.4 469,84.3 472,84.8 475,86.5 478,85.7 481,87.2 484,87.5 487,86.4 490,86.3 493,86.5 496,86.7 499,87.4 502,87.4 505,88.4 508,88.3 511,88.0 514,92.5 517,91.0 520,103.7 523,121.8 526,151.0 529,177.3 532,197.5 535,201.1 538,206.8 541,188.5 544,200.2 547,195.0 550,188.9 553,186.4 556,166.6 559,158.6 562,153.0 565,146.9 568,137.6 571,122.2 574,114.3 577,104.4 580,94.2 583,92.2 586,87.1 589,84.1 592,80.7 595,80.1 598,79.6 601,81.7 604,83.3 607,84.5 610,85.7 613,85.9 616,85.7 619,84.8 622,86.3 625,86.2 628,87.5 631,88.9 634,89.1 637,90.0 640,89.9 643,88.8 646,88.7 649,87.6 652,90.5 655,89.6 658,90.9 661,92.7 664,93.6 667,95.4 670,96.3 673,96.0 676,96.6 679,95.5 682,93.1 685,91.9 688,90.6 691,90.8 694,91.1 697,91.1 700,90.1 703,90.0 706,91.0 709,91.9 712,92.7 715,95.0 718,96.2 721,98.6 724,100.9"/><polyline points="403,97.5 406,99.2 409,98.4 412,97.9 415,98.4 418,96.8 421,95.6 424,94.7 427,94.4 430,93.4 433,93.9 436,93.3 439,94.4 442,95.3 445,95.7 448,98.8 451,100.0 454,99.3 457,99.5 460,97.5 463,97.8 466,95.2 469,95.5 472,94.1 475,93.5 478,94.5 481,95.6 484,97.3 487,94.7 490,93.6 493,91.3 496,89.4 499,89.4 502,89.3 505,90.7 508,90.7 511,93.1 514,102.6 517,106.0 520,113.2 523,116.6 526,121.8 529,123.4 532,119.4 535,120.2 538,122.0 541,119.1 544,117.7 547,115.7 550,115.5 553,110.7 556,108.1 559,106.7 562,103.3 565,101.4 568,98.4 571,96.1 574,94.9 577,93.3 580,92.8 583,92.9 586,93.0 589,92.6 592,93.4 595,94.9 598,95.1 601,96.4 604,96.3 607,96.4 610,97.5 613,95.7 616,96.3 619,95.4 622,94.6 625,93.2 628,93.9 631,94.9 634,95.8 637,96.9 640,97.8 643,98.1 646,98.1 649,98.8 652,97.3 655,97.9 658,97.4 661,98.2 664,98.2 667,98.4 670,98.9 673,97.8 676,96.8 679,98.4 682,95.8 685,96.1 688,96.7 691,98.5 694,99.3 697,100.9 700,100.5 703,99.2 706,98.5 709,98.4 712,96.9 715,96.8 718,96.1 721,95.4 724,96.4"/><polyline points="403,91.6 406,92.1 409,92.5 412,91.0 415,89.9 418,89.0 421,88.3 424,87.2 427,88.0 430,88.4 433,87.9 436,88.7 439,87.2 442,87.6 445,86.5 448,87.6 451,90.6 454,90.8 457,91.8 460,92.5 463,90.1 466,89.1 469,88.0 472,86.5 475,86.9 478,87.6 481,88.3 484,86.8 487,85.9 490,85.1 493,84.2 496,83.9 499,82.0 502,82.2 505,82.0 508,84.2 511,84.9 514,94.9 517,99.0 520,103.5 523,105.9 526,112.9 529,120.1 532,121.1 535,122.4 538,129.0 541,130.5 544,130.8 547,135.0 550,131.0 553,136.9 556,128.2 559,131.1 562,128.9 565,119.9 568,116.9 571,107.6 574,107.6 577,99.6 580,95.1 583,88.8 586,86.3 589,81.6 592,76.6 595,73.2 598,71.6 601,70.4 604,70.6 607,70.3 610,72.4 613,73.9 616,75.0 619,77.7 622,79.5 625,80.1 628,80.9 631,84.1 634,84.2 637,85.4 640,87.7 643,88.4 646,90.1 649,91.2 652,93.7 655,93.4 658,93.4 661,91.8 664,91.8 667,91.5 670,91.7 673,92.3 676,91.2 679,88.6 682,88.1 685,89.1 688,88.6 691,89.9 694,89.7 697,89.6 700,88.6 703,92.4 706,98.8 709,103.5 712,101.3 715,98.5 718,94.5 721,91.0 724,89.9"/><polyline points="403,83.3 406,84.8 409,85.3 412,86.5 415,85.0 418,85.8 421,82.5 424,81.5 427,80.5 430,82.0 433,83.8 436,83.7 439,85.4 442,86.8 445,86.0 448,86.2 451,86.1 454,85.0 457,84.5 460,82.5 463,81.1 466,80.5 469,81.1 472,79.4 475,80.5 478,82.1 481,81.5 484,80.6 487,81.8 490,82.4 493,81.9 496,81.6 499,81.4 502,79.5 505,79.0 508,80.6 511,78.9 514,84.6 517,82.7 520,93.2 523,119.5 526,156.3 529,185.7 532,204.8 535,197.6 538,201.6 541,188.9 544,194.5 547,188.8 550,196.5 553,182.3 556,178.2 559,169.8 562,162.3 565,155.9 568,144.4 571,140.3 574,134.9 577,121.3 580,115.3 583,110.2 586,104.6 589,97.6 592,92.1 595,86.6 598,83.2 601,82.0 604,80.6 607,80.1 610,80.0 613,82.1 616,82.6 619,84.0 622,84.2 625,87.4 628,86.8 631,88.6 634,88.0 637,87.1 640,87.3 643,84.9 646,86.9 649,87.0 652,87.1 655,89.8 658,88.3 661,88.3 664,88.4 667,89.5 670,88.1 673,87.5 676,86.5 679,84.9 682,86.3 685,84.8 688,83.5 691,81.7 694,79.1 697,75.9 700,73.7 703,69.7 706,67.3 709,66.9 712,69.4 715,69.5 718,72.4 721,75.8 724,78.8"/><polyline points="403,88.9 406,88.4 409,88.7 412,89.1 415,88.5 418,87.8 421,89.2 424,90.9 427,90.2 430,90.8 433,89.5 436,89.1 439,87.9 442,86.7 445,87.6 448,87.7 451,88.0 454,88.0 457,87.6 460,86.8 463,87.3 466,86.4 469,87.2 472,87.5 475,88.2 478,87.3 481,86.6 484,85.0 487,83.5 490,83.2 493,82.1 496,82.0 499,81.6 502,79.5 505,78.3 508,75.7 511,74.6 514,82.6 517,87.9 520,102.7 523,121.1 526,140.6 529,162.2 532,187.9 535,199.8 538,197.2 541,214.6 544,214.0 547,206.6 550,167.5 553,153.1 556,130.0 559,106.5 562,90.6 565,81.4 568,79.0 571,75.5 574,74.4 577,72.1 580,71.3 583,69.4 586,68.4 589,69.3 592,69.3 595,71.9 598,75.6 601,77.9 604,80.4 607,81.6 610,84.8 613,86.0 616,85.9 619,87.3 622,86.3 625,84.0 628,85.4 631,85.8 634,85.4 637,86.6 640,86.9 643,85.4 646,86.8 649,88.6 652,89.7 655,89.2 658,89.2 661,91.2 664,97.3 667,100.7 670,101.8 673,98.4 676,95.6 679,94.3 682,90.3 685,91.0 688,90.4 691,90.5 694,91.2 697,90.7 700,90.6 703,90.5 706,88.6 709,86.2 712,86.3 715,84.5 718,86.2 721,87.5 724,87.5"/><polyline points="403,90.5 406,89.9 409,91.3 412,89.6 415,88.2 418,88.3 421,86.2 424,83.4 427,82.8 430,81.3 433,80.0 436,80.1 439,79.9 442,81.0 445,82.9 448,85.8 451,86.1 454,86.5 457,86.1 460,85.9 463,83.8 466,84.0 469,83.5 472,84.0 475,83.2 478,82.6 481,83.2 484,82.1 487,82.6 490,86.2 493,108.7 496,137.6 499,167.1 502,191.8 505,187.3 508,177.5 511,164.9 514,157.8 517,153.6 520,134.6 523,119.7 526,109.0 529,97.9 532,92.3 535,87.9 538,86.8 541,86.5 544,85.7 547,84.3 550,82.6 553,81.4 556,83.0 559,83.3 562,83.9 565,85.8 568,87.1 571,85.7 574,85.9 577,84.4 580,82.2 583,81.8 586,82.4 589,83.1 592,84.7 595,85.4 598,85.4 601,84.2 604,84.0 607,83.8 610,85.2 613,85.5 616,85.9 619,88.2 622,88.3 625,90.0 628,92.4 631,94.2 634,94.3 637,92.8 640,88.8 643,85.8 646,86.1 649,85.6 652,84.1 655,84.4 658,85.2 661,87.9 664,89.4 667,91.4 670,89.5 673,89.7 676,88.2 679,85.3 682,83.7 685,81.6 688,81.9 691,82.1 694,83.5 697,85.0 700,84.7 703,85.4 706,84.8 709,86.6 712,85.2 715,87.2 718,86.3 721,87.1 724,87.1"/><polyline points="403,77.4 406,78.0 409,77.6 412,77.1 415,77.2 418,79.1 421,78.8 424,78.6 427,78.7 430,79.8 433,80.2 436,82.9 439,83.2 442,83.0 445,81.5 448,78.3 451,76.9 454,76.5 457,75.9 460,76.6 463,78.9 466,78.8 469,80.1 472,79.8 475,79.4 478,78.6 481,76.4 484,75.0 487,73.2 490,70.5 493,65.3 496,60.6 499,54.9 502,52.3 505,52.4 508,54.9 511,63.0 514,72.0 517,79.7 520,93.1 523,118.5 526,132.8 529,138.8 532,140.4 535,140.8 538,135.5 541,128.6 544,127.2 547,122.7 550,120.1 553,116.2 556,110.1 559,104.0 562,97.7 565,93.1 568,88.2 571,81.3 574,77.8 577,76.8 580,76.4 583,77.3 586,77.1 589,77.7 592,78.0 595,77.4 598,76.2 601,75.8 604,76.9 607,78.2 610,79.2 613,79.1 616,78.3 619,79.2 622,78.8 625,80.0 628,78.8 631,79.6 634,81.0 637,81.3 640,81.5 643,80.0 646,81.4 649,88.1 652,93.8 655,99.0 658,94.2 661,85.8 664,81.2 667,81.6 670,82.6 673,82.4 676,83.8 679,83.0 682,84.4 685,83.7 688,84.7 691,85.6 694,86.7 697,87.6 700,87.0 703,85.5 706,85.7 709,86.1 712,87.2 715,88.1 718,89.1 721,90.0 724,90.5"/><polyline points="403,90.2 406,91.9 409,92.6 412,92.5 415,92.5 418,89.8 421,88.1 424,87.2 427,88.1 430,87.5 433,87.8 436,85.9 439,86.7 442,86.1 445,85.3 448,86.0 451,87.5 454,87.2 457,89.7 460,89.4 463,89.4 466,87.6 469,87.1 472,85.4 475,84.8 478,84.2 481,84.8 484,84.4 487,86.0 490,85.8 493,86.4 496,87.1 499,85.0 502,84.0 505,83.5 508,84.0 511,84.2 514,95.6 517,102.9 520,115.8 523,124.6 526,140.3 529,163.0 532,168.5 535,181.7 538,191.1 541,207.8 544,214.1 547,202.4 550,203.5 553,204.2 556,197.4 559,195.9 562,193.1 565,180.1 568,175.8 571,160.9 574,153.2 577,149.5 580,146.4 583,132.3 586,120.4 589,116.2 592,105.5 595,98.8 598,93.5 601,87.9 604,85.4 607,81.7 610,80.9 613,81.3 616,82.4 619,85.7 622,87.1 625,87.8 628,87.2 631,86.2 634,84.9 637,84.4 640,85.1 643,86.2 646,88.0 649,91.0 652,92.0 655,91.3 658,91.0 661,89.9 664,88.6 667,89.3 670,88.9 673,90.3 676,90.0 679,86.4 682,85.2 685,83.8 688,84.5 691,83.7 694,83.4 697,80.5 700,80.3 703,79.8 706,78.4 709,79.4 712,80.4 715,81.5 718,83.3 721,84.8 724,85.1"/><polyline points="403,84.7 406,84.3 409,85.8 412,86.1 415,84.8 418,86.7 421,85.1 424,83.3 427,82.3 430,80.3 433,80.2 436,79.8 439,81.8 442,82.6 445,83.3 448,83.1 451,82.9 454,82.3 457,82.7 460,83.2 463,83.7 466,85.3 469,84.4 472,83.5 475,82.5 478,81.5 481,81.6 484,80.9 487,79.8 490,77.0 493,71.7 496,66.2 499,64.8 502,64.1 505,67.3 508,73.2 511,77.9 514,86.0 517,91.2 520,100.7 523,113.2 526,128.2 529,143.0 532,157.0 535,157.1 538,164.1 541,170.0 544,164.8 547,160.7 550,160.4 553,153.4 556,150.1 559,148.3 562,144.6 565,132.9 568,126.2 571,118.0 574,110.7 577,101.4 580,91.7 583,85.8 586,82.6 589,76.9 592,74.9 595,74.0 598,73.2 601,79.1 604,88.4 607,93.2 610,82.0 613,72.7 616,74.0 619,76.2 622,79.2 625,81.1 628,83.8 631,85.3 634,86.6 637,86.9 640,87.4 643,89.2 646,87.7 649,88.2 652,86.7 655,86.8 658,84.5 661,85.7 664,85.1 667,85.4 670,86.1 673,91.5 676,102.6 679,109.0 682,101.7 685,93.5 688,86.5 691,87.0 694,88.0 697,90.3 700,90.7 703,88.8 706,88.7 709,87.2 712,83.6 715,83.1 718,81.8 721,82.4 724,83.6"/><polyline points="403,89.0 406,88.6 409,90.2 412,89.6 415,90.5 418,89.6 421,88.4 424,87.8 427,87.2 430,86.2 433,84.9 436,86.1 439,85.8 442,86.3 445,87.5 448,86.2 451,86.9 454,85.7 457,87.6 460,89.2 463,89.2 466,90.9 469,90.6 472,88.1 475,86.2 478,84.8 481,83.1 484,81.7 487,79.6 490,76.8 493,71.5 496,66.1 499,61.3 502,61.3 505,63.2 508,66.8 511,72.6 514,83.8 517,86.8 520,86.8 523,95.7 526,132.0 529,155.6 532,150.1 535,157.0 538,159.0 541,157.2 544,154.5 547,152.5 550,147.4 553,143.2 556,135.7 559,132.9 562,133.1 565,127.7 568,120.9 571,119.0 574,114.3 577,109.3 580,106.3 583,99.2 586,94.9 589,88.3 592,80.3 595,76.7 598,73.9 601,70.7 604,70.3 607,70.3 610,71.9 613,72.3 616,74.2 619,76.2 622,77.5 625,79.7 628,83.7 631,85.2 634,86.5 637,86.2 640,87.6 643,87.4 646,88.1 649,88.6 652,88.4 655,89.1 658,90.0 661,89.4 664,89.4 667,88.8 670,87.7 673,86.2 676,85.7 679,88.0 682,89.7 685,92.1 688,93.2 691,93.5 694,96.0 697,98.1 700,98.4 703,99.7 706,100.9 709,103.0 712,106.3 715,109.9 718,113.5 721,113.2 724,111.3"/><polyline points="403,90.2 406,91.3 409,91.1 412,91.9 415,92.2 418,91.1 421,91.2 424,91.1 427,91.2 430,90.1 433,90.2 436,89.0 439,88.7 442,89.8 445,89.0 448,88.4 451,87.7 454,86.5 457,86.9 460,88.1 463,87.9 466,88.3 469,88.0 472,86.9 475,85.6 478,84.7 481,85.0 484,85.1 487,84.9 490,84.5 493,83.6 496,83.6 499,82.4 502,82.2 505,82.3 508,79.6 511,80.5 514,90.1 517,104.9 520,120.9 523,146.9 526,171.2 529,177.8 532,188.5 535,204.3 538,201.4 541,199.4 544,191.3 547,192.4 550,177.4 553,175.9 556,165.7 559,160.1 562,144.7 565,131.1 568,126.3 571,118.5 574,108.6 577,99.8 580,95.3 583,89.3 586,86.4 589,85.3 592,85.3 595,85.1 598,86.2 601,86.1 604,85.0 607,84.7 610,86.5 613,88.2 616,87.7 619,89.2 622,88.6 625,89.1 628,88.1 631,88.8 634,88.6 637,88.7 640,92.1 643,94.7 646,98.1 649,104.7 652,102.9 655,99.7 658,96.4 661,99.6 664,95.4 667,92.2 670,90.7 673,91.2 676,92.8 679,92.3 682,92.1 685,90.0 688,89.9 691,90.2 694,90.3 697,91.7 700,91.4 703,88.9 706,90.6 709,88.9 712,89.8 715,90.1 718,90.4 721,90.8 724,91.8"/><polyline points="403,91.0 406,89.1 409,87.4 412,86.5 415,86.1 418,87.3 421,86.6 424,86.2 427,86.5 430,87.0 433,87.4 436,87.8 439,86.5 442,87.9 445,87.4 448,89.1 451,88.3 454,87.5 457,88.4 460,88.0 463,86.3 466,87.3 469,86.6 472,85.2 475,85.5 478,85.7 481,85.5 484,85.4 487,83.9 490,81.5 493,78.9 496,74.8 499,73.5 502,73.6 505,75.0 508,80.9 511,84.6 514,92.0 517,94.2 520,103.5 523,123.5 526,145.8 529,175.3 532,189.9 535,221.2 538,231.1 541,230.8 544,245.8 547,229.8 550,232.8 553,222.7 556,223.4 559,215.8 562,201.6 565,179.4 568,178.1 571,173.3 574,164.3 577,147.2 580,132.5 583,126.6 586,115.7 589,108.3 592,100.7 595,94.1 598,86.8 601,84.4 604,83.3 607,83.8 610,83.5 613,85.5 616,86.4 619,86.6 622,86.1 625,86.4 628,86.4 631,84.7 634,84.7 637,83.6 640,85.8 643,84.4 646,86.7 649,87.7 652,88.0 655,87.8 658,87.0 661,86.3 664,84.7 667,84.0 670,84.4 673,84.1 676,84.3 679,83.5 682,88.7 685,97.4 688,95.2 691,89.0 694,83.7 697,79.6 700,75.7 703,78.4 706,77.5 709,79.8 712,82.3 715,83.8 718,85.5 721,86.6 724,87.8"/><polyline points="403,84.1 406,85.1 409,85.1 412,84.3 415,84.8 418,83.5 421,85.0 424,84.1 427,84.2 430,86.3 433,85.4 436,85.4 439,83.4 442,83.1 445,81.8 448,83.6 451,84.1 454,84.5 457,84.7 460,82.9 463,84.9 466,85.2 469,85.0 472,86.0 475,85.5 478,86.3 481,85.7 484,84.6 487,84.4 490,84.1 493,84.2 496,85.1 499,85.3 502,85.1 505,84.3 508,84.2 511,84.2 514,90.3 517,94.7 520,106.2 523,124.3 526,144.2 529,171.7 532,178.4 535,200.3 538,214.2 541,207.8 544,215.8 547,218.7 550,209.0 553,212.2 556,193.3 559,203.0 562,185.7 565,178.6 568,174.2 571,165.8 574,142.6 577,136.1 580,128.3 583,119.0 586,117.6 589,114.2 592,104.5 595,101.2 598,92.0 601,88.9 604,86.9 607,84.4 610,83.8 613,83.5 616,83.0 619,83.1 622,83.1 625,84.3 628,85.9 631,85.5 634,86.7 637,87.4 640,84.6 643,84.5 646,83.1 649,84.2 652,86.0 655,87.6 658,89.2 661,90.0 664,89.6 667,88.7 670,88.8 673,87.6 676,87.2 679,87.5 682,88.1 685,89.4 688,89.1 691,89.5 694,89.9 697,88.3 700,88.5 703,87.9 706,88.4 709,92.0 712,93.4 715,95.1 718,94.7 721,94.1 724,92.6"/><polyline points="403,89.3 406,88.7 409,87.7 412,87.5 415,85.2 418,84.8 421,83.9 424,85.9 427,85.5 430,85.9 433,84.4 436,84.3 439,84.6 442,83.0 445,83.2 448,83.3 451,84.0 454,82.0 457,81.0 460,81.5 463,79.6 466,81.1 469,80.6 472,81.2 475,82.4 478,82.0 481,81.5 484,81.5 487,80.7 490,79.1 493,79.8 496,77.2 499,77.6 502,77.0 505,78.8 508,79.5 511,83.4 514,92.8 517,100.1 520,110.6 523,123.2 526,140.3 529,148.9 532,158.8 535,176.6 538,183.9 541,175.4 544,176.4 547,168.3 550,158.4 553,145.3 556,132.5 559,117.8 562,106.5 565,95.6 568,88.6 571,83.8 574,82.5 577,82.3 580,83.3 583,82.0 586,84.1 589,85.3 592,85.8 595,87.6 598,85.7 601,85.4 604,83.9 607,82.9 610,81.8 613,82.7 616,82.6 619,84.2 622,83.5 625,83.5 628,84.6 631,85.1 634,85.2 637,83.8 640,82.0 643,82.5 646,82.6 649,84.2 652,85.5 655,88.6 658,88.6 661,89.7 664,89.7 667,88.3 670,87.0 673,85.2 676,84.5 679,85.7 682,84.7 685,84.1 688,84.6 691,85.1 694,89.2 697,94.2 700,96.7 703,97.6 706,99.1 709,101.2 712,104.3 715,107.9 718,109.8 721,111.1 724,109.8"/><polyline points="403,80.7 406,81.7 409,80.8 412,80.4 415,83.2 418,83.6 421,84.3 424,86.9 427,88.8 430,88.8 433,88.9 436,86.8 439,86.5 442,84.9 445,84.2 448,83.0 451,83.3 454,83.9 457,84.6 460,83.7 463,84.7 466,84.5 469,85.0 472,84.0 475,84.7 478,84.3 481,81.4 484,79.2 487,74.2 490,67.7 493,61.6 496,57.2 499,57.5 502,61.9 505,67.0 508,73.3 511,76.7 514,86.1 517,91.8 520,99.1 523,109.1 526,116.6 529,124.0 532,134.3 535,144.2 538,149.0 541,163.8 544,163.2 547,164.4 550,170.1 553,164.2 556,154.2 559,155.1 562,139.5 565,134.6 568,119.9 571,109.5 574,99.4 577,90.0 580,83.7 583,82.2 586,80.4 589,80.4 592,82.5 595,82.9 598,82.9 601,82.0 604,83.0 607,83.5 610,84.0 613,85.3 616,85.6 619,85.4 622,84.5 625,85.2 628,84.3 631,83.8 634,84.5 637,83.7 640,83.1 643,83.8 646,82.7 649,83.4 652,85.3 655,85.3 658,85.4 661,85.3 664,86.0 667,84.7 670,84.9 673,85.8 676,85.5 679,84.2 682,80.9 685,77.8 688,76.7 691,76.9 694,78.8 697,81.2 700,84.6 703,86.3 706,85.1 709,85.2 712,85.5 715,84.3 718,85.4 721,85.7 724,87.1"/><polyline points="403,93.1 406,92.5 409,91.5 412,89.9 415,89.0 418,86.9 421,86.2 424,84.5 427,86.3 430,85.6 433,86.5 436,87.7 439,88.5 442,91.0 445,91.7 448,92.3 451,90.7 454,87.4 457,85.3 460,83.0 463,81.9 466,81.6 469,81.5 472,81.3 475,79.9 478,81.3 481,77.3 484,76.5 487,77.1 490,77.8 493,78.6 496,80.2 499,82.5 502,84.4 505,85.7 508,85.9 511,86.9 514,93.7 517,115.0 520,148.7 523,186.6 526,206.6 529,228.4 532,224.8 535,208.0 538,217.2 541,214.5 544,204.5 547,193.6 550,188.5 553,176.6 556,170.4 559,168.5 562,151.0 565,140.2 568,133.4 571,125.3 574,112.5 577,105.2 580,99.5 583,95.8 586,90.8 589,88.3 592,83.7 595,81.9 598,81.4 601,81.5 604,82.9 607,85.5 610,87.2 613,89.5 616,90.5 619,90.7 622,90.4 625,87.6 628,85.9 631,85.6 634,83.6 637,84.1 640,84.0 643,86.7 646,88.4 649,90.2 652,90.4 655,91.5 658,91.8 661,92.3 664,90.9 667,90.6 670,88.7 673,85.6 676,85.3 679,84.8 682,85.0 685,84.9 688,83.3 691,82.0 694,79.6 697,75.7 700,73.4 703,71.7 706,73.2 709,76.1 712,78.8 715,82.3 718,83.8 721,84.8 724,86.0"/><polyline points="403,84.8 406,85.5 409,85.6 412,87.5 415,88.4 418,89.1 421,88.1 424,86.6 427,85.5 430,83.7 433,85.1 436,84.8 439,85.4 442,86.7 445,86.9 448,87.7 451,87.5 454,86.2 457,85.6 460,83.4 463,83.1 466,82.7 469,84.0 472,85.6 475,86.1 478,86.9 481,88.0 484,88.3 487,88.5 490,90.8 493,90.4 496,89.9 499,88.3 502,85.2 505,80.2 508,78.0 511,76.3 514,82.1 517,84.4 520,89.0 523,94.6 526,103.0 529,111.3 532,121.1 535,124.5 538,134.6 541,137.3 544,135.7 547,138.2 550,127.5 553,131.6 556,129.0 559,119.1 562,117.8 565,111.9 568,103.5 571,96.3 574,90.2 577,85.5 580,82.4 583,80.9 586,77.5 589,75.3 592,74.5 595,75.9 598,78.1 601,81.6 604,82.9 607,83.3 610,84.5 613,83.9 616,83.3 619,87.9 622,94.8 625,99.5 628,103.1 631,94.5 634,87.0 637,85.8 640,88.3 643,89.1 646,89.5 649,90.8 652,91.9 655,92.1 658,92.7 661,94.7 664,93.5 667,92.2 670,92.2 673,92.4 676,93.9 679,95.9 682,93.1 685,92.7 688,89.4 691,88.9 694,89.2 697,91.5 700,91.5 703,92.2 706,91.9 709,90.6 712,89.5 715,88.7 718,88.7 721,89.0 724,89.3"/><polyline points="403,86.5 406,86.7 409,86.4 412,85.5 415,84.3 418,83.5 421,82.8 424,83.0 427,81.8 430,81.0 433,82.3 436,82.6 439,84.6 442,84.1 445,84.6 448,83.3 451,83.9 454,81.7 457,82.1 460,82.7 463,83.6 466,83.7 469,83.0 472,81.6 475,82.3 478,81.6 481,78.0 484,78.3 487,76.3 490,75.0 493,74.4 496,74.1 499,72.7 502,72.2 505,73.3 508,73.9 511,77.2 514,84.8 517,93.5 520,112.8 523,143.4 526,167.7 529,194.7 532,202.7 535,220.4 538,216.3 541,216.4 544,202.7 547,188.5 550,178.9 553,157.7 556,144.1 559,125.7 562,111.1 565,98.3 568,84.9 571,77.0 574,69.6 577,67.2 580,63.8 583,63.7 586,62.3 589,64.9 592,65.4 595,67.2 598,67.2 601,68.6 604,70.0 607,71.9 610,72.9 613,75.0 616,77.2 619,79.8 622,81.4 625,82.0 628,82.2 631,82.7 634,81.8 637,82.6 640,82.8 643,83.4 646,85.8 649,91.6 652,97.0 655,102.0 658,107.5 661,102.2 664,97.8 667,92.1 670,86.9 673,85.5 676,83.4 679,82.1 682,81.7 685,81.0 688,82.4 691,83.7 694,85.1 697,85.0 700,85.6 703,86.1 706,86.3 709,87.2 712,86.1 715,86.5 718,86.7 721,86.7 724,86.6"/><polyline points="403,84.7 406,84.7 409,85.0 412,85.9 415,85.0 418,86.1 421,86.1 424,86.0 427,84.6 430,84.4 433,84.5 436,84.8 439,85.2 442,85.3 445,85.3 448,82.5 451,82.6 454,81.3 457,81.2 460,82.3 463,83.7 466,83.6 469,85.1 472,86.9 475,86.5 478,86.7 481,86.8 484,86.6 487,85.5 490,82.2 493,77.3 496,70.5 499,64.4 502,60.0 505,57.9 508,62.5 511,68.2 514,81.5 517,87.7 520,95.6 523,102.7 526,111.7 529,125.6 532,133.1 535,150.0 538,159.2 541,174.4 544,188.4 547,192.0 550,204.2 553,218.1 556,203.4 559,212.0 562,198.2 565,200.0 568,190.0 571,182.7 574,185.5 577,168.3 580,153.3 583,138.8 586,132.5 589,118.3 592,106.9 595,97.3 598,91.3 601,85.8 604,83.4 607,82.8 610,83.6 613,84.3 616,83.7 619,89.0 622,92.6 625,98.5 628,104.7 631,104.7 634,97.0 637,90.1 640,82.4 643,84.3 646,83.8 649,83.8 652,81.6 655,80.6 658,80.7 661,80.0 664,80.2 667,79.4 670,79.7 673,79.0 676,78.0 679,79.4 682,80.6 685,82.4 688,84.3 691,81.4 694,83.5 697,84.6 700,83.3 703,84.7 706,84.6 709,86.0 712,86.1 715,86.9 718,87.2 721,89.0 724,90.3"/><polyline points="403,80.1 406,80.1 409,80.1 412,78.9 415,79.6 418,80.7 421,81.4 424,81.4 427,78.7 430,80.0 433,77.9 436,79.8 439,80.3 442,81.8 445,83.1 448,81.6 451,82.9 454,82.6 457,81.9 460,82.3 463,81.0 466,82.3 469,80.9 472,80.6 475,80.6 478,79.5 481,76.8 484,75.6 487,73.6 490,73.8 493,72.4 496,71.4 499,67.9 502,65.5 505,65.8 508,66.7 511,68.5 514,77.6 517,81.3 520,90.7 523,118.1 526,146.7 529,168.9 532,179.6 535,178.8 538,181.7 541,175.0 544,173.6 547,170.4 550,167.4 553,152.3 556,147.2 559,132.5 562,124.6 565,116.0 568,105.9 571,99.8 574,94.1 577,90.8 580,87.4 583,85.3 586,82.3 589,82.2 592,80.5 595,80.3 598,81.4 601,83.4 604,89.2 607,99.6 610,109.0 613,101.2 616,91.4 619,79.8 622,78.4 625,77.9 628,79.3 631,80.8 634,82.0 637,86.1 640,88.7 643,90.4 646,88.9 649,85.4 652,81.5 655,81.0 658,80.3 661,80.6 664,81.8 667,80.8 670,81.2 673,81.2 676,82.3 679,83.0 682,83.0 685,84.2 688,81.6 691,81.0 694,80.1 697,79.6 700,80.4 703,82.8 706,82.9 709,85.0 712,86.2 715,87.6 718,88.2 721,89.3 724,90.9"/><polyline points="403,86.5 406,83.3 409,84.1 412,81.1 415,80.6 418,80.6 421,80.1 424,80.1 427,80.1 430,79.8 433,80.7 436,81.5 439,80.4 442,79.0 445,80.4 448,80.7 451,80.0 454,81.6 457,82.0 460,83.1 463,81.8 466,80.2 469,80.0 472,78.2 475,78.2 478,77.4 481,78.4 484,78.3 487,80.3 490,79.0 493,77.7 496,76.3 499,76.2 502,76.2 505,77.0 508,76.9 511,76.2 514,83.2 517,82.3 520,91.2 523,109.0 526,141.3 529,160.9 532,189.2 535,202.2 538,216.8 541,221.0 544,198.7 547,183.2 550,181.5 553,169.3 556,158.6 559,142.2 562,128.8 565,118.7 568,106.5 571,98.3 574,91.7 577,84.7 580,81.8 583,81.0 586,81.2 589,79.9 592,81.0 595,82.2 598,82.2 601,83.2 604,82.0 607,82.2 610,82.3 613,85.4 616,84.4 619,86.9 622,87.4 625,87.7 628,86.6 631,82.8 634,82.4 637,82.3 640,81.9 643,82.0 646,83.6 649,83.0 652,82.1 655,80.9 658,80.0 661,79.2 664,82.0 667,83.6 670,86.2 673,87.2 676,87.8 679,85.7 682,83.7 685,82.8 688,81.9 691,83.8 694,85.2 697,84.7 700,90.3 703,95.3 706,101.0 709,106.5 712,105.1 715,100.7 718,97.3 721,91.5 724,86.2"/><polyline points="403,82.8 406,82.6 409,83.3 412,82.8 415,84.1 418,85.6 421,86.7 424,87.8 427,88.9 430,87.6 433,88.1 436,86.9 439,85.9 442,86.3 445,87.0 448,84.4 451,83.4 454,83.2 457,81.7 460,82.6 463,82.9 466,83.9 469,84.0 472,82.7 475,81.9 478,81.0 481,79.7 484,77.9 487,78.0 490,78.6 493,78.1 496,78.4 499,79.0 502,79.3 505,78.8 508,79.3 511,78.1 514,83.4 517,82.9 520,84.9 523,85.8 526,91.0 529,95.4 532,100.2 535,105.9 538,112.7 541,113.7 544,111.8 547,111.8 550,108.4 553,108.5 556,102.9 559,103.2 562,98.4 565,95.2 568,91.7 571,90.4 574,88.5 577,86.8 580,85.6 583,83.6 586,83.4 589,82.3 592,82.3 595,89.3 598,98.5 601,107.5 604,98.7 607,89.7 610,82.3 613,83.0 616,83.5 619,83.4 622,83.9 625,85.4 628,85.0 631,84.4 634,84.7 637,84.1 640,84.8 643,88.2 646,92.8 649,100.3 652,105.7 655,112.5 658,105.0 661,97.3 664,89.4 667,86.2 670,85.2 673,85.5 676,83.5 679,84.2 682,84.9 685,87.5 688,88.8 691,90.2 694,91.8 697,88.8 700,89.1 703,89.0 706,88.4 709,88.8 712,86.4 715,86.5 718,85.5 721,84.7 724,85.6"/><polyline points="403,90.3 406,89.0 409,88.4 412,87.2 415,88.2 418,88.2 421,87.7 424,88.5 427,88.8 430,90.9 433,90.7 436,91.0 439,89.1 442,89.2 445,87.4 448,87.5 451,85.6 454,85.2 457,85.1 460,84.4 463,83.9 466,84.9 469,86.6 472,85.2 475,88.8 478,87.2 481,89.7 484,88.2 487,90.9 490,89.8 493,87.2 496,86.6 499,83.4 502,82.7 505,82.9 508,81.2 511,83.2 514,89.1 517,91.8 520,101.1 523,115.3 526,130.9 529,151.6 532,164.1 535,197.4 538,198.7 541,201.5 544,198.1 547,190.8 550,182.1 553,190.7 556,180.6 559,185.7 562,176.6 565,162.4 568,156.8 571,154.4 574,148.2 577,144.0 580,135.3 583,126.0 586,118.4 589,113.4 592,108.5 595,101.2 598,97.8 601,90.9 604,89.5 607,86.0 610,84.6 613,85.4 616,86.2 619,89.4 622,91.3 625,90.3 628,89.0 631,88.0 634,87.4 637,87.4 640,89.0 643,88.6 646,94.8 649,97.3 652,101.5 655,97.7 658,96.6 661,94.1 664,91.7 667,91.0 670,91.2 673,90.8 676,93.0 679,91.2 682,91.7 685,89.6 688,88.8 691,85.9 694,85.6 697,83.2 700,84.0 703,83.8 706,85.1 709,86.5 712,87.7 715,86.9 718,87.5 721,87.4 724,89.8"/><polyline points="403,88.4 406,89.1 409,89.2 412,89.6 415,91.1 418,92.5 421,92.6 424,91.2 427,89.6 430,88.9 433,87.9 436,87.8 439,88.0 442,86.6 445,87.9 448,88.3 451,88.5 454,87.7 457,88.1 460,88.8 463,88.4 466,90.5 469,91.2 472,92.5 475,92.2 478,92.1 481,90.4 484,86.9 487,85.7 490,84.7 493,85.6 496,84.7 499,86.3 502,87.1 505,87.2 508,86.9 511,86.8 514,196.2 517,189.1 520,190.4 523,188.0 526,177.2 529,172.1 532,168.3 535,165.7 538,166.2 541,153.9 544,147.1 547,143.2 550,134.0 553,132.7 556,119.4 559,115.1 562,107.0 565,100.9 568,97.2 571,91.4 574,86.5 577,83.6 580,81.6 583,82.3 586,84.4 589,85.8 592,88.3 595,90.5 598,90.3 601,89.9 604,88.5 607,87.1 610,86.9 613,85.8 616,86.0 619,85.3 622,85.2 625,84.9 628,85.1 631,85.5 634,85.3 637,85.7 640,86.7 643,87.1 646,87.5 649,88.8 652,88.1 655,89.3 658,89.2 661,88.2 664,87.8 667,87.6 670,88.0 673,90.6 676,90.2 679,91.3 682,91.4 685,90.7 688,89.9 691,90.6 694,88.8 697,88.2 700,86.2 703,84.6 706,80.5 709,79.6 712,78.1 715,77.7 718,78.7 721,79.7 724,79.8"/><polyline points="403,86.2 406,87.8 409,88.1 412,87.7 415,85.9 418,87.1 421,85.0 424,86.3 427,88.5 430,87.7 433,87.5 436,87.0 439,85.6 442,82.7 445,82.1 448,83.4 451,85.7 454,87.7 457,88.6 460,87.3 463,87.2 466,83.2 469,82.5 472,80.7 475,81.5 478,81.6 481,83.1 484,83.1 487,84.6 490,85.0 493,84.5 496,83.6 499,83.1 502,82.8 505,83.6 508,85.0 511,84.6 514,94.7 517,122.6 520,162.2 523,184.1 526,190.9 529,181.3 532,179.5 535,169.5 538,154.2 541,151.6 544,129.2 547,124.2 550,115.6 553,103.8 556,96.7 559,92.2 562,87.8 565,89.2 568,88.9 571,86.5 574,85.1 577,84.3 580,84.6 583,83.7 586,83.7 589,85.7 592,82.9 595,80.7 598,81.4 601,81.1 604,81.0 607,76.3 610,72.5 613,67.3 616,65.2 619,64.9 622,67.8 625,72.7 628,74.1 631,77.5 634,80.4 637,82.4 640,84.7 643,87.2 646,87.6 649,87.0 652,96.9 655,111.0 658,110.6 661,105.9 664,99.5 667,92.4 670,87.2 673,86.7 676,84.5 679,84.1 682,82.8 685,80.6 688,80.8 691,79.5 694,78.8 697,76.8 700,75.0 703,72.8 706,71.3 709,71.0 712,70.4 715,70.6 718,72.6 721,74.5 724,77.8"/><polyline points="403,85.4 406,82.3 409,81.0 412,79.0 415,81.5 418,83.8 421,83.6 424,81.5 427,82.0 430,80.1 433,81.0 436,81.0 439,80.8 442,80.9 445,80.4 448,81.0 451,79.6 454,78.1 457,79.2 460,78.5 463,79.1 466,80.8 469,79.2 472,80.4 475,81.0 478,79.7 481,82.1 484,80.5 487,79.9 490,80.3 493,78.5 496,77.8 499,76.2 502,77.1 505,76.8 508,78.7 511,79.9 514,92.4 517,102.4 520,117.7 523,128.4 526,140.5 529,142.4 532,146.5 535,135.1 538,135.3 541,125.9 544,127.0 547,121.8 550,111.8 553,105.9 556,97.5 559,91.2 562,86.4 565,82.6 568,82.4 571,81.4 574,81.5 577,79.8 580,79.0 583,76.5 586,76.7 589,76.2 592,75.7 595,77.1 598,77.6 601,79.0 604,79.4 607,80.0 610,82.3 613,87.7 616,91.1 619,94.9 622,91.3 625,88.9 628,85.2 631,83.1 634,81.4 637,81.2 640,82.7 643,83.3 646,83.3 649,83.5 652,82.2 655,84.0 658,83.2 661,83.8 664,82.1 667,82.9 670,82.1 673,81.2 676,78.3 679,77.1 682,74.1 685,71.2 688,71.6 691,70.0 694,70.8 697,71.8 700,72.8 703,75.4 706,75.7 709,77.4 712,78.9 715,79.8 718,82.7 721,84.3 724,85.1"/><polyline points="403,84.2 406,87.5 409,89.4 412,90.7 415,92.5 418,93.5 421,93.7 424,92.9 427,91.8 430,90.0 433,88.5 436,86.8 439,86.1 442,84.1 445,83.5 448,81.3 451,80.0 454,79.7 457,78.8 460,77.6 463,77.9 466,75.7 469,74.7 472,74.4 475,73.1 478,74.1 481,75.9 484,76.2 487,78.8 490,80.6 493,82.0 496,83.0 499,82.7 502,82.8 505,82.4 508,82.0 511,82.0 514,90.8 517,95.8 520,99.0 523,106.5 526,116.9 529,125.5 532,132.2 535,142.3 538,155.3 541,153.1 544,163.8 547,163.9 550,167.5 553,171.8 556,171.4 559,166.8 562,159.2 565,164.0 568,150.2 571,141.4 574,132.6 577,131.0 580,126.0 583,116.3 586,114.8 589,114.0 592,112.2 595,107.9 598,100.0 601,91.8 604,86.5 607,85.5 610,84.6 613,83.8 616,82.7 619,83.1 622,84.2 625,84.7 628,85.9 631,86.4 634,87.1 637,88.2 640,87.8 643,89.0 646,88.5 649,88.4 652,89.2 655,89.9 658,90.7 661,91.1 664,90.3 667,88.4 670,87.6 673,86.6 676,85.0 679,84.6 682,82.5 685,79.5 688,76.3 691,74.4 694,71.1 697,72.8 700,73.4 703,79.1 706,84.0 709,89.2 712,91.5 715,91.8 718,89.4 721,86.7 724,84.0"/><polyline points="403,90.0 406,85.9 409,85.9 412,85.5 415,85.6 418,85.4 421,83.8 424,84.7 427,84.5 430,84.6 433,83.4 436,85.5 439,85.7 442,85.5 445,85.8 448,85.9 451,86.1 454,86.1 457,84.2 460,83.2 463,82.4 466,82.5 469,83.7 472,85.0 475,86.0 478,86.3 481,85.7 484,83.3 487,82.6 490,81.3 493,81.7 496,79.9 499,80.0 502,79.8 505,79.3 508,80.7 511,90.9 514,126.0 517,159.6 520,192.5 523,214.2 526,226.1 529,246.8 532,227.6 535,227.6 538,235.1 541,222.7 544,215.6 547,209.7 550,195.1 553,190.1 556,179.5 559,162.4 562,162.5 565,155.7 568,139.7 571,128.7 574,124.7 577,113.3 580,104.3 583,100.2 586,93.0 589,87.4 592,84.1 595,89.4 598,96.6 601,96.3 604,93.8 607,90.0 610,85.1 613,84.0 616,83.5 619,84.5 622,84.4 625,84.2 628,83.2 631,83.7 634,84.2 637,85.0 640,86.4 643,86.4 646,87.7 649,85.6 652,85.6 655,83.2 658,82.9 661,82.6 664,83.3 667,82.9 670,84.4 673,82.9 676,83.8 679,82.6 682,81.9 685,81.5 688,79.9 691,80.8 694,76.6 697,76.1 700,76.2 703,76.3 706,76.0 709,76.9 712,76.7 715,76.6 718,78.4 721,79.5 724,82.5"/><polyline points="403,85.1 406,85.7 409,85.7 412,86.3 415,85.2 418,84.7 421,83.9 424,84.1 427,85.4 430,83.6 433,83.3 436,83.2 439,83.8 442,85.4 445,86.7 448,86.2 451,86.0 454,85.0 457,84.7 460,84.9 463,83.3 466,82.1 469,81.0 472,80.3 475,77.9 478,77.3 481,75.3 484,73.9 487,69.2 490,64.3 493,59.5 496,57.0 499,58.4 502,74.6 505,114.1 508,152.0 511,156.4 514,166.2 517,161.2 520,163.5 523,157.0 526,155.0 529,152.2 532,142.9 535,138.2 538,130.0 541,120.7 544,120.2 547,109.8 550,103.8 553,98.2 556,94.4 559,89.6 562,87.3 565,83.7 568,81.1 571,79.8 574,79.5 577,77.7 580,77.5 583,74.3 586,71.4 589,68.2 592,64.7 595,64.5 598,64.5 601,63.7 604,63.8 607,64.5 610,63.7 613,62.8 616,66.3 619,68.5 622,71.2 625,75.2 628,78.3 631,78.6 634,79.3 637,80.7 640,80.5 643,81.6 646,81.4 649,81.4 652,81.8 655,82.5 658,82.5 661,84.3 664,84.4 667,83.9 670,84.2 673,84.8 676,83.3 679,82.9 682,81.2 685,78.4 688,78.6 691,76.3 694,80.7 697,84.5 700,90.4 703,92.3 706,85.2 709,77.2 712,73.8 715,73.6 718,75.8 721,78.0 724,79.9"/><polyline points="403,82.2 406,81.6 409,82.6 412,84.7 415,84.4 418,84.6 421,87.5 424,87.6 427,89.0 430,87.4 433,83.6 436,82.2 439,81.5 442,81.3 445,82.2 448,82.8 451,83.6 454,84.1 457,82.2 460,81.3 463,81.4 466,79.5 469,79.1 472,78.7 475,79.9 478,78.6 481,78.2 484,78.6 487,77.8 490,77.9 493,76.4 496,72.8 499,70.1 502,68.8 505,68.9 508,70.6 511,71.2 514,89.1 517,147.8 520,211.8 523,236.3 526,249.4 529,214.8 532,225.7 535,218.6 538,193.6 541,185.5 544,167.5 547,151.3 550,148.5 553,121.6 556,114.1 559,103.2 562,93.2 565,87.4 568,81.5 571,81.9 574,80.9 577,79.8 580,80.3 583,79.7 586,78.1 589,74.5 592,70.9 595,68.5 598,64.4 601,63.5 604,61.8 607,61.6 610,62.1 613,62.3 616,63.9 619,65.1 622,67.2 625,70.2 628,72.7 631,73.0 634,73.3 637,74.9 640,75.1 643,74.9 646,77.3 649,78.1 652,79.1 655,81.3 658,82.0 661,82.1 664,82.3 667,81.4 670,82.7 673,84.6 676,84.1 679,85.4 682,87.3 685,87.0 688,86.0 691,83.6 694,84.4 697,86.1 700,91.3 703,96.5 706,98.6 709,95.6 712,92.6 715,86.9 718,87.0 721,86.5 724,88.0"/><polyline points="403,83.3 406,82.2 409,82.8 412,84.3 415,85.5 418,86.0 421,87.0 424,86.9 427,86.1 430,84.5 433,83.8 436,83.0 439,83.0 442,83.5 445,83.6 448,82.4 451,81.0 454,79.2 457,79.5 460,80.6 463,80.9 466,82.0 469,84.0 472,85.2 475,84.0 478,83.5 481,78.8 484,71.7 487,66.8 490,62.3 493,60.4 496,64.2 499,70.6 502,76.9 505,80.1 508,82.2 511,83.2 514,88.4 517,98.1 520,126.9 523,161.4 526,181.6 529,185.6 532,184.2 535,190.2 538,177.2 541,165.7 544,173.4 547,162.7 550,159.9 553,157.5 556,148.2 559,146.7 562,136.6 565,127.7 568,120.5 571,112.4 574,107.9 577,102.7 580,98.4 583,93.2 586,87.7 589,84.2 592,82.0 595,80.9 598,80.7 601,81.4 604,82.7 607,82.5 610,83.5 613,85.2 616,84.6 619,85.2 622,86.2 625,89.0 628,91.8 631,95.4 634,97.2 637,95.0 640,94.1 643,91.7 646,89.3 649,87.9 652,86.0 655,84.7 658,85.8 661,85.1 664,83.9 667,85.4 670,85.2 673,86.1 676,83.2 679,84.8 682,83.6 685,84.2 688,85.0 691,85.2 694,86.5 697,85.4 700,87.2 703,86.8 706,88.1 709,92.6 712,99.4 715,102.6 718,94.3 721,86.1 724,84.4"/><polyline points="403,89.2 406,89.2 409,88.8 412,88.2 415,87.7 418,87.6 421,88.1 424,87.7 427,87.5 430,87.8 433,87.9 436,87.8 439,86.3 442,85.1 445,84.8 448,84.5 451,86.0 454,87.7 457,88.6 460,89.7 463,88.5 466,87.9 469,86.8 472,85.5 475,84.8 478,81.9 481,81.3 484,82.7 487,81.0 490,83.0 493,82.7 496,82.8 499,83.6 502,77.2 505,71.9 508,68.9 511,64.6 514,72.6 517,76.0 520,85.4 523,90.8 526,97.6 529,103.1 532,108.8 535,114.7 538,120.5 541,122.9 544,122.9 547,125.7 550,125.3 553,127.5 556,125.4 559,121.2 562,118.2 565,118.5 568,114.3 571,115.1 574,108.7 577,104.5 580,102.3 583,96.3 586,94.9 589,93.7 592,91.9 595,87.9 598,86.1 601,84.0 604,83.0 607,84.1 610,85.6 613,87.2 616,87.8 619,88.7 622,89.6 625,90.0 628,89.8 631,88.0 634,88.7 637,88.7 640,89.5 643,90.2 646,92.3 649,94.1 652,94.2 655,94.1 658,92.8 661,90.6 664,90.9 667,97.6 670,105.3 673,112.9 676,117.1 679,110.3 682,100.9 685,93.0 688,89.6 691,90.0 694,93.5 697,98.7 700,102.6 703,103.6 706,106.2 709,107.7 712,109.3 715,110.0 718,109.9 721,112.0 724,111.9"/><polyline points="403,91.1 406,90.2 409,90.3 412,91.4 415,89.8 418,89.4 421,89.7 424,87.3 427,86.2 430,86.0 433,85.1 436,86.1 439,85.6 442,87.1 445,85.8 448,85.8 451,85.5 454,84.1 457,84.7 460,86.4 463,86.4 466,86.5 469,86.9 472,87.5 475,86.8 478,85.6 481,86.6 484,85.7 487,83.8 490,82.2 493,79.9 496,77.4 499,75.5 502,72.5 505,72.5 508,73.9 511,76.5 514,83.8 517,87.3 520,91.3 523,95.3 526,99.2 529,103.8 532,105.7 535,110.5 538,112.4 541,114.3 544,116.5 547,116.3 550,115.9 553,111.2 556,112.6 559,110.6 562,109.7 565,107.2 568,107.8 571,103.2 574,101.5 577,100.3 580,97.7 583,97.6 586,92.8 589,89.1 592,84.8 595,79.6 598,77.5 601,74.0 604,71.7 607,69.0 610,67.3 613,66.9 616,65.9 619,67.6 622,69.7 625,74.2 628,77.9 631,82.5 634,85.0 637,87.4 640,86.3 643,87.0 646,85.1 649,84.8 652,84.2 655,86.1 658,88.0 661,88.5 664,90.4 667,90.9 670,90.7 673,92.1 676,91.6 679,91.1 682,91.1 685,90.0 688,89.5 691,88.6 694,88.4 697,88.0 700,88.2 703,85.1 706,82.6 709,79.5 712,77.6 715,78.9 718,82.0 721,83.8 724,85.7"/><polyline points="403,86.9 406,85.8 409,84.4 412,84.2 415,83.8 418,84.6 421,86.1 424,86.0 427,84.1 430,84.2 433,81.9 436,82.3 439,80.9 442,81.2 445,80.8 448,80.3 451,81.6 454,79.5 457,79.4 460,80.0 463,80.1 466,79.3 469,79.7 472,79.2 475,79.5 478,80.0 481,81.3 484,81.1 487,81.3 490,79.6 493,79.4 496,79.6 499,77.8 502,77.8 505,77.2 508,75.0 511,73.7 514,79.1 517,78.8 520,87.8 523,100.3 526,118.5 529,136.5 532,156.6 535,167.7 538,181.9 541,199.1 544,201.1 547,184.5 550,179.3 553,174.6 556,161.3 559,156.4 562,136.7 565,120.5 568,110.7 571,103.1 574,93.5 577,86.9 580,84.9 583,83.6 586,81.1 589,80.8 592,78.6 595,77.7 598,76.3 601,75.8 604,75.2 607,75.1 610,76.4 613,76.2 616,80.0 619,81.3 622,82.7 625,84.3 628,84.7 631,84.4 634,82.7 637,81.7 640,83.1 643,82.1 646,83.2 649,84.3 652,83.5 655,84.7 658,83.9 661,83.3 664,81.0 667,80.2 670,79.0 673,78.6 676,77.1 679,77.4 682,79.1 685,81.7 688,82.1 691,82.8 694,82.9 697,82.5 700,83.5 703,82.9 706,82.2 709,83.9 712,85.3 715,85.4 718,87.0 721,87.9 724,88.4"/><polyline points="403,84.9 406,83.5 409,81.7 412,77.2 415,77.7 418,78.5 421,79.4 424,81.3 427,81.8 430,81.9 433,80.7 436,80.5 439,78.9 442,78.3 445,79.8 448,79.8 451,81.4 454,82.4 457,80.0 460,79.5 463,77.5 466,74.0 469,74.7 472,75.5 475,75.6 478,77.3 481,79.0 484,78.2 487,76.2 490,71.7 493,65.7 496,59.6 499,58.1 502,57.8 505,62.9 508,69.0 511,72.5 514,82.5 517,88.3 520,96.6 523,112.7 526,125.5 529,137.3 532,150.8 535,161.1 538,167.6 541,155.8 544,149.6 547,149.3 550,146.2 553,136.9 556,127.4 559,118.3 562,113.9 565,103.9 568,96.7 571,89.4 574,84.0 577,80.6 580,78.7 583,77.3 586,79.5 589,78.1 592,77.8 595,77.0 598,76.9 601,78.1 604,79.2 607,79.2 610,79.9 613,80.5 616,78.7 619,79.3 622,78.6 625,80.0 628,80.0 631,80.4 634,79.7 637,81.6 640,80.9 643,81.9 646,80.0 649,80.0 652,80.8 655,81.0 658,81.2 661,80.0 664,78.9 667,78.9 670,78.3 673,77.4 676,76.2 679,77.0 682,75.1 685,74.7 688,75.1 691,75.1 694,74.2 697,72.2 700,72.0 703,71.6 706,71.7 709,72.7 712,74.4 715,78.3 718,82.2 721,83.7 724,86.3"/><polyline points="403,84.2 406,86.0 409,86.1 412,85.9 415,84.6 418,84.8 421,83.6 424,82.9 427,83.1 430,82.1 433,81.8 436,82.4 439,82.9 442,83.8 445,85.3 448,85.5 451,85.6 454,86.0 457,86.3 460,85.4 463,85.0 466,82.5 469,81.1 472,81.0 475,80.4 478,81.3 481,83.0 484,82.4 487,81.0 490,79.6 493,76.6 496,76.9 499,76.0 502,76.0 505,76.6 508,77.3 511,77.7 514,83.7 517,85.9 520,89.9 523,98.9 526,111.5 529,124.6 532,145.1 535,156.3 538,179.8 541,178.3 544,186.9 547,193.6 550,214.9 553,196.5 556,205.7 559,176.9 562,179.7 565,154.9 568,137.5 571,126.1 574,106.6 577,95.7 580,88.6 583,84.4 586,83.4 589,83.8 592,80.9 595,80.6 598,80.0 601,78.5 604,78.7 607,80.3 610,81.6 613,82.0 616,81.2 619,79.7 622,78.8 625,79.5 628,84.4 631,90.0 634,90.9 637,88.3 640,87.6 643,84.7 646,83.6 649,84.2 652,85.1 655,85.7 658,83.5 661,81.8 664,79.6 667,76.0 670,72.9 673,69.4 676,65.4 679,65.3 682,62.5 685,61.1 688,58.2 691,58.9 694,57.6 697,56.5 700,56.6 703,58.8 706,61.1 709,64.2 712,68.4 715,72.4 718,77.5 721,81.0 724,83.5"/><polyline points="403,88.9 406,89.0 409,89.5 412,90.5 415,90.5 418,92.3 421,91.1 424,90.0 427,88.0 430,88.8 433,87.5 436,88.9 439,88.5 442,88.1 445,87.6 448,87.4 451,86.1 454,86.0 457,86.5 460,85.7 463,86.1 466,85.5 469,85.4 472,86.9 475,87.9 478,87.3 481,87.7 484,86.0 487,83.7 490,79.8 493,76.0 496,68.1 499,64.1 502,61.4 505,65.0 508,69.8 511,79.0 514,90.6 517,96.1 520,102.7 523,112.6 526,122.9 529,136.9 532,151.6 535,161.3 538,165.5 541,172.1 544,188.8 547,191.5 550,193.1 553,193.4 556,189.5 559,186.8 562,183.7 565,171.8 568,168.0 571,163.4 574,148.1 577,137.3 580,136.1 583,126.0 586,112.2 589,106.4 592,101.8 595,96.1 598,92.5 601,90.6 604,90.8 607,91.3 610,90.3 613,91.3 616,88.9 619,90.2 622,90.1 625,90.9 628,90.3 631,90.3 634,88.5 637,87.5 640,87.9 643,88.6 646,87.9 649,89.8 652,90.3 655,90.5 658,92.5 661,92.0 664,92.1 667,91.9 670,92.5 673,92.5 676,90.9 679,92.1 682,91.1 685,89.0 688,88.8 691,89.8 694,91.2 697,91.5 700,94.6 703,96.4 706,96.0 709,95.2 712,93.8 715,92.7 718,93.9 721,91.4 724,90.4"/><polyline points="403,82.2 406,83.1 409,79.7 412,81.1 415,82.0 418,81.8 421,81.7 424,83.7 427,84.4 430,84.8 433,86.3 436,85.1 439,83.1 442,82.3 445,81.1 448,81.2 451,82.6 454,83.5 457,83.8 460,81.1 463,80.2 466,80.6 469,80.3 472,80.0 475,79.0 478,80.9 481,81.3 484,80.4 487,80.5 490,79.3 493,77.5 496,75.3 499,73.9 502,70.8 505,71.0 508,70.9 511,71.2 514,77.4 517,80.3 520,88.2 523,101.6 526,115.0 529,130.3 532,143.2 535,158.2 538,165.9 541,162.9 544,157.6 547,151.8 550,150.4 553,141.5 556,138.6 559,127.7 562,121.6 565,108.5 568,102.6 571,93.1 574,85.8 577,78.2 580,74.8 583,72.8 586,72.1 589,68.6 592,67.5 595,68.0 598,66.9 601,65.9 604,64.0 607,61.6 610,61.6 613,61.8 616,62.6 619,64.7 622,66.9 625,70.0 628,72.4 631,74.1 634,76.1 637,77.1 640,78.5 643,79.4 646,80.4 649,81.3 652,81.3 655,83.2 658,83.4 661,84.1 664,86.4 667,86.8 670,86.6 673,86.3 676,86.9 679,85.0 682,84.4 685,83.6 688,86.1 691,91.0 694,96.7 697,101.4 700,97.5 703,93.1 706,89.6 709,91.3 712,94.9 715,98.3 718,100.1 721,102.1 724,104.5"/><polyline points="403,89.8 406,87.9 409,87.8 412,84.9 415,85.1 418,84.7 421,85.5 424,86.4 427,85.5 430,84.6 433,85.0 436,83.5 439,84.0 442,82.6 445,83.3 448,82.8 451,83.3 454,85.6 457,86.3 460,87.7 463,85.2 466,84.0 469,81.1 472,81.2 475,79.9 478,79.6 481,80.3 484,79.8 487,79.1 490,78.8 493,80.2 496,81.7 499,82.5 502,83.2 505,82.7 508,81.9 511,81.0 514,87.8 517,91.8 520,102.3 523,117.9 526,133.7 529,154.6 532,168.8 535,184.6 538,187.0 541,186.6 544,184.3 547,192.4 550,174.1 553,161.6 556,158.8 559,136.2 562,124.0 565,112.0 568,100.4 571,91.6 574,84.2 577,82.3 580,82.3 583,81.6 586,81.2 589,85.1 592,92.5 595,97.9 598,103.3 601,99.5 604,96.0 607,95.8 610,106.2 613,103.2 616,93.8 619,85.7 622,87.3 625,86.6 628,86.0 631,86.9 634,86.4 637,87.5 640,87.2 643,89.0 646,86.6 649,87.9 652,88.7 655,90.1 658,89.6 661,90.0 664,90.6 667,89.7 670,89.7 673,89.2 676,87.6 679,87.1 682,86.6 685,87.3 688,87.6 691,89.3 694,90.4 697,87.8 700,88.8 703,88.0 706,87.2 709,85.6 712,85.7 715,85.4 718,85.5 721,85.1 724,86.3"/><polyline points="403,84.4 406,84.4 409,83.6 412,83.1 415,83.2 418,82.9 421,82.9 424,83.9 427,85.1 430,84.1 433,84.8 436,84.7 439,84.8 442,83.5 445,83.3 448,84.2 451,84.8 454,85.2 457,86.1 460,84.8 463,84.8 466,82.5 469,82.1 472,84.0 475,84.7 478,86.4 481,86.1 484,83.9 487,83.0 490,82.0 493,81.1 496,80.0 499,80.2 502,79.8 505,81.5 508,82.1 511,83.5 514,91.5 517,98.8 520,107.7 523,121.1 526,134.3 529,146.2 532,163.4 535,173.8 538,179.4 541,200.5 544,195.3 547,204.2 550,197.0 553,191.4 556,172.1 559,153.7 562,132.7 565,114.9 568,102.3 571,92.1 574,86.5 577,82.8 580,83.6 583,82.4 586,81.6 589,82.1 592,81.7 595,82.8 598,84.1 601,83.0 604,83.9 607,84.7 610,84.3 613,83.2 616,82.5 619,82.4 622,82.2 625,81.4 628,83.0 631,83.8 634,83.8 637,83.0 640,83.8 643,82.7 646,83.6 649,85.4 652,88.1 655,88.0 658,87.4 661,88.7 664,87.9 667,88.7 670,88.0 673,87.6 676,87.4 679,85.9 682,83.5 685,82.8 688,82.1 691,81.6 694,81.9 697,90.2 700,96.5 703,105.6 706,104.6 709,100.1 712,94.1 715,89.9 718,87.0 721,86.9 724,87.5"/><polyline points="403,80.5 406,78.1 409,78.9 412,79.3 415,80.6 418,81.1 421,81.9 424,80.7 427,80.5 430,79.0 433,78.2 436,77.8 439,77.4 442,76.2 445,75.4 448,75.9 451,74.5 454,74.8 457,77.0 460,76.5 463,77.8 466,76.9 469,77.2 472,75.2 475,74.0 478,73.5 481,72.0 484,72.0 487,72.4 490,74.1 493,72.7 496,73.9 499,73.7 502,74.5 505,73.7 508,72.9 511,73.2 514,78.5 517,80.4 520,91.7 523,111.6 526,132.4 529,155.7 532,187.2 535,212.2 538,221.0 541,225.0 544,227.0 547,227.1 550,231.6 553,216.9 556,206.9 559,205.4 562,192.8 565,179.3 568,165.0 571,142.5 574,124.4 577,114.8 580,100.0 583,89.7 586,83.3 589,80.6 592,79.0 595,79.9 598,86.2 601,99.4 604,102.8 607,94.4 610,87.0 613,79.3 616,74.1 619,76.6 622,75.7 625,76.9 628,76.3 631,77.2 634,81.5 637,89.2 640,97.3 643,98.2 646,92.8 649,87.0 652,80.2 655,81.0 658,80.9 661,80.4 664,78.4 667,77.3 670,75.6 673,73.1 676,71.1 679,69.6 682,68.0 685,67.0 688,66.4 691,63.5 694,62.6 697,62.0 700,61.1 703,61.7 706,60.5 709,61.9 712,63.1 715,65.3 718,68.3 721,71.6 724,75.2"/><polyline points="403,83.7 406,82.9 409,81.5 412,80.8 415,81.3 418,80.8 421,80.7 424,81.8 427,81.3 430,80.5 433,79.6 436,81.2 439,81.6 442,83.8 445,84.9 448,85.7 451,85.2 454,84.3 457,84.2 460,83.5 463,84.6 466,84.3 469,87.0 472,85.0 475,86.6 478,86.2 481,86.2 484,85.9 487,85.4 490,85.0 493,82.8 496,81.3 499,79.4 502,79.0 505,78.9 508,79.6 511,80.3 514,87.0 517,88.5 520,92.5 523,102.4 526,110.7 529,122.1 532,132.5 535,147.7 538,159.7 541,176.2 544,175.9 547,187.5 550,180.9 553,194.7 556,183.9 559,179.4 562,171.4 565,168.0 568,165.4 571,156.4 574,149.8 577,139.7 580,129.3 583,124.0 586,108.0 589,105.7 592,99.4 595,93.5 598,88.0 601,84.8 604,80.3 607,79.2 610,79.5 613,78.3 616,78.5 619,79.5 622,79.7 625,78.1 628,78.1 631,79.4 634,81.6 637,83.3 640,83.7 643,86.1 646,88.3 649,90.0 652,90.3 655,90.1 658,90.7 661,89.0 664,87.3 667,87.2 670,86.2 673,85.9 676,84.9 679,84.6 682,84.5 685,84.0 688,82.5 691,82.2 694,83.0 697,82.9 700,81.0 703,79.2 706,79.1 709,78.6 712,80.1 715,80.5 718,82.1 721,84.4 724,85.1"/><polyline points="403,79.6 406,80.3 409,81.5 412,83.0 415,82.7 418,83.9 421,83.6 424,83.6 427,82.3 430,82.1 433,81.1 436,79.4 439,78.3 442,79.0 445,77.9 448,77.8 451,80.6 454,79.5 457,79.9 460,80.9 463,80.0 466,78.3 469,76.1 472,74.8 475,74.2 478,73.8 481,74.8 484,75.5 487,75.7 490,75.8 493,76.3 496,75.6 499,76.1 502,76.6 505,76.6 508,76.8 511,75.5 514,82.2 517,84.5 520,86.1 523,90.6 526,94.4 529,100.0 532,105.9 535,105.8 538,112.0 541,120.3 544,126.7 547,122.6 550,124.9 553,119.1 556,114.7 559,108.1 562,104.0 565,97.7 568,91.8 571,87.2 574,81.5 577,77.8 580,74.8 583,73.2 586,71.2 589,68.6 592,66.4 595,64.1 598,61.3 601,59.6 604,59.4 607,59.5 610,58.9 613,59.3 616,62.2 619,64.1 622,66.8 625,71.5 628,74.8 631,75.0 634,78.7 637,78.7 640,78.2 643,78.9 646,79.5 649,82.8 652,83.4 655,85.3 658,81.7 661,80.0 664,78.8 667,77.2 670,77.3 673,76.3 676,77.6 679,78.2 682,78.2 685,77.0 688,75.6 691,73.4 694,73.7 697,71.1 700,72.4 703,73.1 706,75.0 709,78.7 712,81.1 715,81.5 718,80.9 721,80.8 724,79.5"/><polyline points="403,88.9 406,87.7 409,87.4 412,87.0 415,86.5 418,86.5 421,86.4 424,85.7 427,85.2 430,84.9 433,85.6 436,85.1 439,84.0 442,83.2 445,82.6 448,84.0 451,83.3 454,83.7 457,84.9 460,84.6 463,85.5 466,86.1 469,84.6 472,82.0 475,80.9 478,78.0 481,74.0 484,70.8 487,69.6 490,70.2 493,73.7 496,75.5 499,78.8 502,80.0 505,79.9 508,77.7 511,79.1 514,92.4 517,106.4 520,121.5 523,140.4 526,163.7 529,172.7 532,188.7 535,205.3 538,218.8 541,233.0 544,233.1 547,232.0 550,219.5 553,215.3 556,211.8 559,208.4 562,202.8 565,187.6 568,185.1 571,166.7 574,165.3 577,157.6 580,140.2 583,131.5 586,125.4 589,119.1 592,110.4 595,104.5 598,97.6 601,93.4 604,90.4 607,86.1 610,85.6 613,84.9 616,85.1 619,84.0 622,83.1 625,82.1 628,83.1 631,83.7 634,85.2 637,84.2 640,85.9 643,85.7 646,84.9 649,84.9 652,88.6 655,94.0 658,101.1 661,107.2 664,108.3 667,100.5 670,89.5 673,89.6 676,89.5 679,86.3 682,84.5 685,80.5 688,76.9 691,76.3 694,75.2 697,77.6 700,80.3 703,84.3 706,85.3 709,86.1 712,86.5 715,87.6 718,85.8 721,84.4 724,83.8"/><polyline points="403,87.1 406,87.0 409,85.3 412,85.4 415,84.6 418,85.0 421,83.2 424,82.4 427,84.2 430,85.6 433,86.5 436,86.6 439,87.9 442,88.9 445,88.3 448,87.5 451,86.5 454,86.2 457,85.8 460,85.0 463,84.1 466,84.9 469,84.5 472,84.1 475,83.6 478,84.3 481,85.8 484,86.7 487,86.1 490,86.5 493,86.3 496,84.1 499,82.5 502,80.8 505,81.2 508,80.7 511,82.0 514,87.3 517,87.9 520,101.7 523,127.5 526,157.2 529,165.1 532,168.3 535,156.6 538,151.4 541,133.9 544,126.6 547,116.2 550,106.1 553,98.2 556,91.5 559,87.6 562,87.4 565,86.8 568,85.5 571,85.7 574,85.2 577,85.2 580,84.0 583,84.5 586,84.5 589,85.5 592,88.6 595,94.2 598,98.1 601,102.9 604,106.5 607,99.8 610,94.2 613,85.8 616,84.5 619,83.7 622,83.5 625,84.6 628,86.0 631,88.4 634,90.2 637,90.8 640,88.6 643,88.0 646,87.6 649,98.0 652,109.4 655,110.8 658,105.2 661,97.8 664,92.7 667,92.2 670,91.4 673,89.9 676,87.7 679,84.9 682,85.3 685,85.7 688,87.6 691,87.4 694,91.6 697,92.8 700,94.8 703,97.8 706,101.9 709,106.5 712,110.2 715,112.9 718,114.8 721,116.3 724,117.6"/><polyline points="403,88.3 406,88.4 409,88.2 412,86.9 415,86.4 418,86.3 421,87.7 424,88.0 427,88.7 430,88.7 433,89.1 436,88.0 439,85.9 442,86.4 445,84.9 448,83.2 451,84.7 454,84.9 457,85.7 460,85.2 463,84.4 466,85.7 469,85.4 472,86.3 475,86.7 478,85.9 481,86.3 484,84.7 487,82.5 490,76.7 493,74.1 496,68.1 499,68.0 502,70.5 505,75.5 508,78.9 511,83.4 514,97.8 517,115.6 520,136.9 523,155.3 526,177.4 529,185.8 532,191.7 535,184.9 538,182.7 541,174.7 544,184.9 547,163.1 550,160.4 553,155.5 556,150.7 559,145.5 562,134.9 565,128.3 568,123.2 571,112.8 574,109.8 577,104.1 580,99.2 583,93.1 586,88.3 589,83.7 592,83.7 595,82.9 598,82.5 601,82.6 604,82.0 607,83.1 610,83.4 613,83.7 616,83.1 619,84.2 622,86.5 625,85.2 628,86.4 631,89.1 634,89.4 637,90.0 640,86.8 643,84.6 646,84.9 649,84.9 652,85.4 655,88.2 658,89.9 661,89.9 664,89.8 667,87.7 670,88.0 673,88.6 676,89.1 679,89.7 682,90.6 685,92.3 688,91.4 691,89.7 694,87.3 697,88.3 700,87.5 703,87.3 706,88.7 709,87.8 712,85.1 715,85.0 718,86.3 721,86.8 724,88.1"/><polyline points="403,79.3 406,80.2 409,80.3 412,79.4 415,81.3 418,81.9 421,81.3 424,82.7 427,81.1 430,81.3 433,79.0 436,78.3 439,77.9 442,76.7 445,75.6 448,76.0 451,74.7 454,76.5 457,75.7 460,74.8 463,74.4 466,75.0 469,75.0 472,75.1 475,76.6 478,78.2 481,78.0 484,78.0 487,75.2 490,72.1 493,67.6 496,61.5 499,56.2 502,55.9 505,60.3 508,66.3 511,72.6 514,83.2 517,85.9 520,92.9 523,101.0 526,110.3 529,126.0 532,136.1 535,150.1 538,157.7 541,158.8 544,154.9 547,166.0 550,155.0 553,148.8 556,146.8 559,137.7 562,130.5 565,126.0 568,120.8 571,110.3 574,107.2 577,104.1 580,96.1 583,94.4 586,88.7 589,85.8 592,84.8 595,82.6 598,80.4 601,79.5 604,79.3 607,77.0 610,73.7 613,73.9 616,73.8 619,72.7 622,74.8 625,76.8 628,78.2 631,79.1 634,79.8 637,80.1 640,81.4 643,80.8 646,80.9 649,80.7 652,82.3 655,82.7 658,82.8 661,83.0 664,82.6 667,83.3 670,83.7 673,84.2 676,84.0 679,85.6 682,84.2 685,83.8 688,84.4 691,85.2 694,85.0 697,86.6 700,86.8 703,87.1 706,88.0 709,89.3 712,87.5 715,86.0 718,84.0 721,81.7 724,79.6"/><polyline points="403,83.9 406,84.6 409,84.5 412,86.0 415,87.0 418,87.1 421,88.2 424,87.1 427,86.1 430,85.2 433,83.7 436,84.1 439,82.5 442,84.4 445,85.1 448,87.0 451,86.4 454,88.2 457,87.0 460,85.7 463,85.8 466,84.1 469,82.3 472,81.6 475,80.6 478,80.2 481,80.7 484,81.6 487,82.3 490,81.5 493,80.4 496,78.9 499,77.2 502,83.9 505,121.2 508,169.6 511,188.6 514,196.9 517,194.5 520,196.8 523,192.8 526,180.8 529,170.2 532,163.6 535,162.5 538,153.4 541,150.3 544,147.4 547,140.2 550,133.0 553,124.5 556,115.7 559,110.2 562,102.2 565,96.2 568,89.2 571,86.4 574,83.6 577,82.5 580,81.8 583,79.2 586,78.7 589,76.6 592,74.8 595,72.9 598,72.1 601,72.9 604,74.3 607,75.6 610,73.9 613,70.2 616,68.6 619,67.7 622,68.0 625,69.4 628,71.6 631,74.5 634,76.6 637,78.1 640,81.2 643,80.3 646,82.0 649,82.4 652,82.4 655,83.3 658,83.3 661,85.0 664,85.2 667,85.0 670,85.8 673,86.2 676,86.1 679,87.7 682,87.8 685,85.9 688,85.2 691,83.1 694,81.9 697,80.8 700,82.3 703,82.0 706,83.4 709,86.0 712,86.0 715,86.7 718,88.3 721,89.3 724,87.7"/><polyline points="403,87.1 406,89.9 409,89.3 412,89.7 415,89.2 418,88.7 421,88.4 424,87.9 427,86.4 430,87.2 433,87.2 436,86.6 439,87.2 442,86.9 445,87.6 448,86.2 451,86.3 454,87.0 457,87.4 460,87.2 463,88.2 466,89.2 469,88.5 472,86.9 475,86.3 478,83.7 481,83.8 484,82.8 487,82.7 490,82.9 493,81.8 496,81.4 499,81.6 502,81.7 505,82.9 508,83.4 511,83.6 514,88.9 517,89.2 520,91.5 523,97.4 526,110.6 529,121.8 532,130.8 535,134.6 538,128.6 541,127.7 544,122.0 547,119.6 550,110.1 553,107.8 556,99.8 559,94.5 562,91.4 565,87.3 568,86.0 571,83.7 574,82.4 577,80.9 580,79.5 583,77.6 586,76.5 589,72.4 592,71.4 595,71.0 598,71.5 601,70.6 604,69.8 607,70.6 610,73.7 613,74.6 616,75.5 619,77.0 622,78.9 625,78.1 628,78.5 631,78.8 634,79.3 637,81.5 640,83.1 643,85.5 646,89.2 649,92.1 652,95.3 655,92.4 658,92.3 661,89.2 664,85.9 667,84.7 670,85.2 673,86.0 676,85.9 679,91.4 682,97.8 685,100.9 688,105.8 691,99.5 694,93.6 697,87.8 700,85.5 703,87.6 706,87.9 709,88.4 712,89.6 715,89.8 718,90.3 721,89.6 724,89.0"/><polyline points="403,83.4 406,83.0 409,81.9 412,82.9 415,81.7 418,81.6 421,81.1 424,83.2 427,82.0 430,84.1 433,84.8 436,85.3 439,83.8 442,81.7 445,80.1 448,80.8 451,79.4 454,79.5 457,79.9 460,79.3 463,79.6 466,78.9 469,79.9 472,80.1 475,79.6 478,80.8 481,81.1 484,81.0 487,80.1 490,79.8 493,79.2 496,78.6 499,77.9 502,77.0 505,77.1 508,77.8 511,76.8 514,82.2 517,87.8 520,99.2 523,119.0 526,133.3 529,144.1 532,162.4 535,156.7 538,166.7 541,161.7 544,160.0 547,150.1 550,153.6 553,141.0 556,136.1 559,134.0 562,127.1 565,118.3 568,114.3 571,108.2 574,103.2 577,100.9 580,96.3 583,92.6 586,86.6 589,84.2 592,79.7 595,79.5 598,78.9 601,79.5 604,79.6 607,80.5 610,80.6 613,80.6 616,80.5 619,82.6 622,84.6 625,84.7 628,84.5 631,86.1 634,84.3 637,82.3 640,81.2 643,82.0 646,82.0 649,81.1 652,84.3 655,84.3 658,85.6 661,84.0 664,84.8 667,85.2 670,84.3 673,86.8 676,85.5 679,84.6 682,83.3 685,83.0 688,84.3 691,85.7 694,86.3 697,86.5 700,86.5 703,85.8 706,84.2 709,83.2 712,82.9 715,81.4 718,84.6 721,83.4 724,83.4"/><polyline points="403,83.3 406,82.4 409,81.3 412,80.9 415,81.5 418,81.7 421,84.9 424,84.6 427,85.1 430,83.4 433,84.3 436,85.0 439,85.2 442,83.6 445,86.1 448,84.3 451,86.1 454,84.2 457,82.4 460,82.0 463,81.2 466,81.4 469,79.7 472,80.1 475,80.3 478,80.5 481,81.7 484,83.1 487,82.2 490,79.3 493,77.0 496,72.6 499,70.7 502,70.2 505,72.0 508,74.4 511,77.6 514,109.7 517,231.0 520,235.8 523,231.0 526,234.5 529,210.9 532,186.1 535,165.8 538,149.1 541,131.6 544,117.9 547,103.6 550,94.4 553,90.0 556,88.6 559,86.8 562,87.9 565,86.5 568,85.4 571,83.6 574,82.5 577,82.2 580,80.9 583,81.9 586,81.8 589,81.7 592,80.5 595,81.7 598,83.1 601,86.2 604,86.6 607,86.2 610,87.4 613,87.2 616,85.7 619,86.5 622,85.6 625,84.4 628,83.8 631,85.0 634,83.1 637,82.4 640,82.6 643,85.9 646,89.9 649,96.7 652,94.6 655,90.5 658,87.1 661,84.5 664,85.7 667,86.4 670,86.9 673,86.8 676,89.1 679,88.9 682,89.1 685,87.9 688,89.1 691,88.5 694,88.0 697,87.0 700,86.4 703,86.3 706,85.6 709,85.5 712,87.5 715,90.6 718,90.8 721,88.9 724,85.2"/><polyline points="403,95.6 406,91.2 409,92.0 412,90.7 415,90.1 418,91.1 421,91.2 424,90.5 427,89.9 430,89.0 433,87.6 436,88.8 439,86.7 442,88.7 445,88.6 448,90.2 451,89.8 454,91.6 457,92.2 460,91.9 463,91.4 466,90.1 469,88.7 472,87.0 475,84.9 478,85.5 481,84.5 484,85.1 487,85.2 490,84.5 493,84.8 496,83.3 499,81.6 502,81.1 505,79.4 508,79.0 511,79.1 514,84.3 517,89.7 520,100.2 523,117.5 526,138.7 529,158.7 532,175.0 535,198.5 538,202.5 541,218.4 544,210.2 547,206.8 550,199.4 553,194.1 556,181.7 559,168.2 562,151.1 565,140.1 568,124.2 571,109.0 574,94.9 577,88.0 580,81.6 583,76.7 586,76.3 589,74.5 592,74.7 595,73.5 598,76.3 601,76.2 604,78.0 607,81.8 610,83.0 613,84.0 616,84.1 619,85.2 622,84.6 625,84.9 628,85.7 631,85.8 634,86.7 637,87.7 640,88.4 643,88.4 646,89.5 649,90.9 652,90.5 655,90.7 658,90.4 661,90.0 664,89.3 667,89.4 670,91.1 673,90.2 676,91.2 679,89.7 682,89.2 685,88.3 688,86.8 691,85.0 694,84.2 697,82.8 700,83.2 703,83.2 706,86.2 709,94.3 712,102.8 715,110.6 718,105.1 721,98.7 724,88.8"/><polyline points="403,90.5 406,89.6 409,89.0 412,89.1 415,90.8 418,89.0 421,88.8 424,87.5 427,87.9 430,88.2 433,88.7 436,89.3 439,90.7 442,90.5 445,89.2 448,89.2 451,87.4 454,86.7 457,85.6 460,84.6 463,84.4 466,86.7 469,86.8 472,88.8 475,89.7 478,88.4 481,87.5 484,85.1 487,84.4 490,81.2 493,80.2 496,79.3 499,79.8 502,81.1 505,81.8 508,83.4 511,83.9 514,90.3 517,91.8 520,94.8 523,104.1 526,114.2 529,131.3 532,144.0 535,164.2 538,169.0 541,185.7 544,181.3 547,184.8 550,169.2 553,175.9 556,161.2 559,158.1 562,149.6 565,145.1 568,133.0 571,125.2 574,117.4 577,111.1 580,103.0 583,98.3 586,91.0 589,88.8 592,83.9 595,82.8 598,81.1 601,83.3 604,85.2 607,85.7 610,86.9 613,87.7 616,89.2 619,88.5 622,88.6 625,86.3 628,85.6 631,85.6 634,85.6 637,87.9 640,87.3 643,87.9 646,86.8 649,85.8 652,85.8 655,84.8 658,87.5 661,90.4 664,93.4 667,92.6 670,92.4 673,92.5 676,90.6 679,89.2 682,90.2 685,91.6 688,91.5 691,93.7 694,95.4 697,95.5 700,95.8 703,94.7 706,94.1 709,91.4 712,90.7 715,90.3 718,90.2 721,91.6 724,94.3"/><polyline points="403,85.4 406,85.8 409,87.0 412,86.3 415,85.1 418,83.5 421,82.5 424,81.9 427,82.7 430,82.2 433,81.8 436,82.5 439,83.6 442,83.3 445,84.0 448,83.0 451,82.6 454,83.3 457,83.3 460,85.4 463,85.9 466,84.8 469,84.3 472,82.7 475,80.2 478,76.5 481,75.6 484,75.2 487,76.1 490,77.6 493,77.6 496,77.9 499,77.7 502,75.1 505,71.7 508,70.6 511,70.4 514,79.9 517,90.1 520,107.7 523,128.4 526,157.4 529,178.2 532,195.1 535,212.7 538,216.2 541,203.9 544,204.1 547,198.2 550,208.6 553,193.8 556,170.3 559,170.4 562,163.9 565,160.8 568,143.0 571,135.9 574,129.0 577,117.2 580,106.2 583,99.4 586,90.6 589,84.5 592,79.2 595,76.0 598,77.0 601,80.1 604,82.0 607,83.1 610,83.7 613,83.7 616,84.4 619,83.4 622,85.3 625,86.0 628,87.4 631,87.7 634,87.5 637,88.0 640,86.8 643,87.3 646,86.7 649,85.5 652,86.3 655,83.2 658,83.7 661,83.4 664,83.5 667,83.6 670,82.9 673,84.4 676,85.3 679,84.2 682,87.3 685,88.4 688,90.7 691,89.2 694,87.2 697,86.7 700,86.2 703,86.4 706,94.1 709,98.9 712,99.7 715,92.2 718,82.4 721,83.7 724,84.3"/><polyline points="403,91.1 406,90.2 409,88.9 412,89.3 415,89.6 418,90.1 421,89.8 424,89.1 427,87.6 430,89.1 433,88.9 436,88.1 439,86.3 442,85.9 445,85.3 448,86.0 451,84.9 454,87.2 457,87.9 460,87.6 463,85.3 466,83.7 469,82.9 472,82.2 475,80.3 478,79.7 481,78.3 484,75.0 487,74.0 490,72.4 493,72.5 496,73.0 499,75.2 502,78.3 505,80.2 508,81.1 511,82.2 514,88.2 517,87.2 520,90.4 523,103.8 526,133.3 529,161.3 532,189.5 535,209.7 538,216.7 541,226.4 544,203.1 547,184.3 550,164.0 553,138.4 556,113.7 559,98.3 562,87.2 565,84.1 568,84.9 571,86.9 574,88.8 577,90.8 580,91.5 583,88.9 586,88.5 589,85.7 592,84.1 595,85.1 598,85.4 601,85.3 604,86.6 607,85.6 610,85.0 613,84.5 616,85.6 619,86.9 622,86.5 625,87.8 628,89.4 631,87.7 634,88.1 637,88.7 640,87.6 643,91.3 646,96.7 649,103.2 652,108.2 655,115.9 658,105.5 661,92.3 664,89.1 667,90.1 670,90.4 673,90.0 676,90.7 679,89.2 682,86.9 685,87.2 688,85.8 691,86.4 694,87.6 697,89.0 700,90.5 703,92.4 706,91.5 709,90.7 712,90.2 715,88.2 718,87.4 721,86.2 724,86.8"/><polyline points="403,91.9 406,92.5 409,91.8 412,90.0 415,90.9 418,89.4 421,90.3 424,87.7 427,89.0 430,85.8 433,86.2 436,84.9 439,83.6 442,82.4 445,81.4 448,81.3 451,83.0 454,83.5 457,84.9 460,85.2 463,85.1 466,85.2 469,83.3 472,84.7 475,83.6 478,82.8 481,83.5 484,82.4 487,82.7 490,80.5 493,80.9 496,80.1 499,81.7 502,80.8 505,81.1 508,79.4 511,78.6 514,83.9 517,85.2 520,93.0 523,107.8 526,120.6 529,143.5 532,172.2 535,179.4 538,196.5 541,202.3 544,218.0 547,220.2 550,208.1 553,205.3 556,201.5 559,198.9 562,172.9 565,179.2 568,159.5 571,144.9 574,134.1 577,126.0 580,112.1 583,103.2 586,95.4 589,89.1 592,84.3 595,81.5 598,81.5 601,80.9 604,79.6 607,80.3 610,79.8 613,82.9 616,89.6 619,96.6 622,102.8 625,106.6 628,100.3 631,91.7 634,88.6 637,92.2 640,95.3 643,97.3 646,93.7 649,89.0 652,87.9 655,87.5 658,85.1 661,85.7 664,86.5 667,86.9 670,87.4 673,86.1 676,86.7 679,86.6 682,84.8 685,85.5 688,83.1 691,82.0 694,78.2 697,74.2 700,71.7 703,68.1 706,68.9 709,71.1 712,72.9 715,76.0 718,79.3 721,82.7 724,86.7"/><polyline points="403,83.7 406,85.4 409,85.6 412,85.3 415,86.7 418,87.0 421,86.4 424,86.8 427,88.9 430,89.3 433,90.4 436,89.7 439,90.0 442,89.8 445,90.2 448,88.2 451,89.0 454,88.6 457,88.0 460,86.6 463,86.1 466,86.5 469,85.9 472,85.2 475,82.7 478,80.2 481,77.6 484,73.4 487,72.6 490,70.0 493,69.8 496,86.8 499,122.2 502,155.0 505,161.9 508,158.6 511,157.5 514,169.0 517,157.6 520,156.8 523,144.9 526,140.6 529,131.9 532,125.3 535,120.7 538,108.3 541,102.0 544,96.5 547,93.4 550,90.4 553,87.7 556,87.7 559,86.3 562,85.9 565,85.1 568,84.2 571,84.9 574,84.9 577,83.5 580,84.2 583,86.3 586,88.0 589,88.1 592,89.1 595,86.7 598,86.1 601,84.8 604,83.4 607,82.6 610,84.0 613,82.6 616,85.2 619,84.7 622,85.1 625,84.6 628,83.2 631,84.2 634,83.9 637,84.9 640,85.3 643,87.7 646,88.3 649,87.9 652,86.1 655,88.7 658,88.0 661,88.7 664,90.0 667,89.8 670,90.9 673,91.8 676,90.6 679,88.8 682,88.9 685,88.3 688,87.6 691,88.7 694,88.8 697,88.1 700,88.2 703,87.9 706,86.2 709,87.4 712,87.6 715,88.3 718,88.8 721,89.7 724,90.8"/><polyline points="403,83.3 406,82.5 409,80.4 412,80.1 415,80.1 418,80.0 421,80.0 424,80.4 427,81.8 430,81.8 433,82.1 436,82.4 439,79.4 442,77.0 445,76.8 448,74.9 451,77.1 454,76.2 457,75.9 460,75.4 463,75.0 466,75.3 469,75.2 472,75.4 475,75.7 478,76.1 481,75.8 484,76.7 487,75.6 490,75.2 493,76.7 496,76.2 499,74.8 502,76.3 505,77.0 508,78.0 511,80.7 514,91.0 517,95.3 520,102.7 523,110.3 526,120.0 529,125.3 532,135.5 535,139.8 538,143.9 541,158.3 544,163.5 547,160.8 550,160.4 553,148.0 556,140.4 559,122.7 562,108.4 565,96.6 568,87.5 571,79.5 574,76.3 577,74.3 580,76.2 583,75.1 586,75.8 589,73.5 592,73.8 595,73.0 598,73.9 601,74.6 604,76.0 607,78.4 610,80.5 613,81.0 616,80.5 619,79.8 622,79.2 625,78.2 628,78.0 631,78.5 634,78.7 637,77.7 640,77.9 643,79.0 646,78.9 649,78.6 652,78.3 655,78.3 658,77.5 661,78.0 664,80.0 667,82.0 670,87.2 673,90.1 676,85.9 679,82.1 682,78.0 685,70.2 688,67.7 691,64.8 694,63.3 697,64.7 700,64.3 703,66.5 706,66.8 709,68.6 712,68.8 715,68.6 718,68.0 721,69.0 724,71.2"/><polyline points="403,91.8 406,91.8 409,92.3 412,93.9 415,92.8 418,93.1 421,94.8 424,95.3 427,95.2 430,94.9 433,92.7 436,90.4 439,91.2 442,91.3 445,92.4 448,90.3 451,89.9 454,89.0 457,90.3 460,88.3 463,88.5 466,87.4 469,86.5 472,86.2 475,87.1 478,87.2 481,87.4 484,87.9 487,87.5 490,86.2 493,84.6 496,80.9 499,76.1 502,72.3 505,73.9 508,75.5 511,79.7 514,88.6 517,92.6 520,98.3 523,108.2 526,119.1 529,134.8 532,148.3 535,163.4 538,175.7 541,190.1 544,183.8 547,188.6 550,186.1 553,188.4 556,170.7 559,163.4 562,156.6 565,145.4 568,137.3 571,131.6 574,122.7 577,111.2 580,103.7 583,94.8 586,91.2 589,88.4 592,87.1 595,87.7 598,86.8 601,88.0 604,87.9 607,89.2 610,92.7 613,97.6 616,101.4 619,100.7 622,98.0 625,94.9 628,90.9 631,89.2 634,89.2 637,92.4 640,94.0 643,95.5 646,96.4 649,97.1 652,98.1 655,95.8 658,95.7 661,96.4 664,95.8 667,92.9 670,93.5 673,92.5 676,92.7 679,91.0 682,90.4 685,90.6 688,91.4 691,92.5 694,100.8 697,112.3 700,124.9 703,116.7 706,106.9 709,99.1 712,98.6 715,98.6 718,100.0 721,103.0 724,102.3"/><polyline points="403,87.9 406,87.8 409,86.4 412,85.7 415,85.9 418,86.5 421,87.4 424,87.6 427,86.7 430,86.2 433,85.3 436,86.5 439,87.5 442,88.6 445,88.2 448,88.7 451,86.6 454,85.3 457,84.5 460,85.8 463,86.2 466,87.8 469,88.9 472,87.9 475,88.0 478,84.7 481,84.1 484,82.9 487,83.4 490,84.5 493,85.9 496,85.8 499,88.2 502,86.7 505,85.0 508,81.8 511,80.6 514,93.3 517,104.7 520,121.3 523,133.9 526,149.0 529,160.0 532,163.3 535,164.8 538,162.4 541,151.3 544,143.8 547,129.1 550,114.4 553,104.7 556,93.9 559,86.4 562,84.3 565,84.7 568,88.0 571,88.2 574,89.7 577,88.8 580,88.7 583,86.6 586,82.4 589,78.4 592,75.3 595,72.6 598,78.4 601,81.2 604,85.9 607,81.3 610,72.6 613,63.3 616,64.7 619,68.4 622,71.4 625,73.4 628,76.7 631,77.6 634,80.3 637,82.4 640,84.1 643,86.8 646,88.7 649,89.1 652,91.8 655,91.8 658,94.3 661,93.1 664,93.1 667,92.2 670,92.7 673,92.7 676,92.1 679,92.2 682,91.2 685,90.7 688,92.3 691,93.5 694,95.2 697,94.5 700,95.6 703,92.7 706,93.2 709,91.6 712,92.0 715,94.4 718,95.7 721,97.2 724,100.4"/><polyline points="403,86.3 406,87.0 409,88.2 412,87.8 415,88.6 418,88.2 421,88.5 424,87.2 427,85.9 430,85.0 433,83.2 436,81.2 439,80.9 442,80.8 445,82.3 448,82.6 451,82.4 454,81.4 457,82.9 460,84.2 463,85.8 466,85.5 469,85.9 472,85.4 475,85.3 478,84.4 481,82.9 484,79.5 487,75.4 490,69.2 493,67.7 496,66.0 499,69.7 502,72.6 505,76.3 508,79.6 511,81.3 514,90.9 517,95.3 520,113.8 523,145.4 526,162.9 529,167.1 532,161.3 535,156.5 538,148.9 541,135.3 544,132.3 547,115.6 550,106.1 553,94.1 556,90.2 559,86.9 562,84.6 565,83.5 568,83.7 571,83.5 574,84.6 577,83.9 580,83.8 583,81.9 586,80.5 589,77.2 592,73.1 595,70.3 598,67.8 601,69.8 604,69.6 607,70.6 610,71.3 613,70.7 616,73.2 619,73.9 622,75.1 625,77.5 628,80.5 631,83.2 634,86.5 637,89.6 640,90.1 643,89.1 646,87.9 649,85.3 652,83.8 655,85.4 658,85.9 661,85.9 664,86.3 667,86.5 670,86.5 673,86.6 676,85.3 679,86.4 682,86.0 685,86.3 688,86.3 691,88.5 694,92.1 697,95.1 700,97.2 703,101.2 706,103.3 709,103.7 712,104.3 715,105.0 718,107.0 721,109.1 724,112.0"/><polyline points="403,89.5 406,88.4 409,86.6 412,86.1 415,84.2 418,83.7 421,85.1 424,85.8 427,86.0 430,87.6 433,88.6 436,88.0 439,86.8 442,85.8 445,85.1 448,85.5 451,85.4 454,85.2 457,84.4 460,84.5 463,85.3 466,85.8 469,84.8 472,83.6 475,82.4 478,80.7 481,80.8 484,82.1 487,83.6 490,84.3 493,81.5 496,76.9 499,71.1 502,67.2 505,67.5 508,68.6 511,74.5 514,83.1 517,91.8 520,100.2 523,111.9 526,126.6 529,137.5 532,147.9 535,149.2 538,160.2 541,159.0 544,155.5 547,162.5 550,153.0 553,159.8 556,156.7 559,145.3 562,140.1 565,131.9 568,120.9 571,115.4 574,104.7 577,98.5 580,93.2 583,86.3 586,82.4 589,81.8 592,80.2 595,80.0 598,79.6 601,78.7 604,78.5 607,79.0 610,80.5 613,79.2 616,80.5 619,81.4 622,81.3 625,84.1 628,83.9 631,83.9 634,84.8 637,83.7 640,83.1 643,82.8 646,83.4 649,82.9 652,81.5 655,83.0 658,83.2 661,82.0 664,83.0 667,83.3 670,82.4 673,83.4 676,82.2 679,80.8 682,80.0 685,77.1 688,75.2 691,71.9 694,65.8 697,63.7 700,60.4 703,63.0 706,68.4 709,73.2 712,78.1 715,80.6 718,82.6 721,85.1 724,85.7"/><polyline points="403,81.7 406,81.1 409,80.3 412,80.9 415,81.2 418,82.0 421,84.0 424,84.5 427,84.0 430,84.3 433,83.6 436,83.1 439,82.2 442,80.9 445,81.4 448,79.7 451,79.2 454,76.3 457,75.9 460,73.4 463,73.1 466,74.5 469,75.9 472,75.9 475,77.0 478,78.7 481,78.4 484,78.9 487,76.6 490,73.4 493,69.2 496,65.5 499,63.3 502,65.0 505,66.5 508,70.8 511,72.9 514,81.4 517,82.4 520,131.4 523,194.7 526,192.5 529,195.0 532,180.5 535,178.7 538,174.5 541,166.2 544,139.6 547,136.8 550,120.4 553,111.9 556,102.1 559,94.2 562,88.8 565,83.5 568,81.5 571,80.7 574,78.4 577,76.5 580,74.5 583,75.5 586,75.1 589,77.3 592,76.6 595,77.8 598,78.9 601,78.1 604,76.4 607,77.5 610,77.1 613,78.8 616,79.2 619,78.8 622,78.2 625,76.5 628,76.5 631,77.1 634,76.0 637,77.0 640,77.1 643,78.7 646,80.1 649,81.5 652,82.6 655,82.8 658,82.8 661,82.3 664,83.8 667,82.8 670,83.0 673,82.4 676,81.3 679,80.5 682,80.0 685,78.1 688,79.2 691,78.5 694,80.9 697,81.4 700,84.4 703,86.1 706,87.1 709,88.2 712,89.4 715,88.1 718,87.8 721,86.4 724,83.4"/><polyline points="403,90.9 406,90.4 409,89.7 412,90.0 415,89.6 418,89.2 421,89.4 424,91.3 427,91.0 430,91.3 433,91.4 436,91.5 439,92.1 442,90.5 445,91.3 448,89.6 451,88.9 454,86.6 457,83.9 460,82.8 463,80.7 466,78.7 469,76.5 472,76.8 475,73.5 478,74.4 481,74.1 484,74.1 487,75.9 490,78.1 493,79.8 496,79.8 499,82.0 502,81.9 505,81.7 508,81.8 511,81.9 514,88.8 517,91.9 520,97.0 523,108.2 526,118.1 529,135.7 532,154.2 535,164.7 538,174.3 541,199.2 544,207.1 547,217.8 550,241.9 553,234.4 556,240.3 559,235.9 562,232.3 565,211.6 568,199.9 571,195.6 574,179.9 577,167.5 580,158.1 583,140.4 586,127.1 589,114.2 592,105.3 595,96.2 598,96.5 601,99.7 604,106.2 607,112.7 610,107.4 613,100.9 616,95.0 619,88.4 622,87.4 625,87.3 628,88.0 631,89.9 634,90.5 637,88.2 640,86.8 643,86.2 646,85.0 649,85.6 652,85.2 655,86.1 658,87.3 661,89.1 664,92.2 667,91.7 670,92.8 673,93.1 676,92.0 679,90.6 682,89.6 685,89.2 688,89.3 691,88.8 694,92.6 697,93.5 700,96.8 703,99.2 706,99.4 709,99.2 712,101.5 715,103.2 718,107.2 721,109.6 724,112.0"/><polyline points="403,84.9 406,85.2 409,82.8 412,83.0 415,81.6 418,83.0 421,83.5 424,85.9 427,86.4 430,87.3 433,87.1 436,86.0 439,84.0 442,84.6 445,83.4 448,85.0 451,86.4 454,87.1 457,85.4 460,85.0 463,81.6 466,76.7 469,73.3 472,68.2 475,66.9 478,68.3 481,68.0 484,71.6 487,71.7 490,75.5 493,75.7 496,76.0 499,79.2 502,81.6 505,83.5 508,85.5 511,85.0 514,98.8 517,107.4 520,126.4 523,145.3 526,164.7 529,204.0 532,217.3 535,217.3 538,239.7 541,236.7 544,224.8 547,223.5 550,213.9 553,194.2 556,192.5 559,189.2 562,186.5 565,170.0 568,149.0 571,141.9 574,129.1 577,121.2 580,107.3 583,98.9 586,93.5 589,88.0 592,84.3 595,83.1 598,83.2 601,82.8 604,82.4 607,83.6 610,85.0 613,84.0 616,88.4 619,95.5 622,102.6 625,104.4 628,97.2 631,89.8 634,84.5 637,85.7 640,86.5 643,86.6 646,87.4 649,87.8 652,86.6 655,87.3 658,87.0 661,87.8 664,91.6 667,96.0 670,98.1 673,93.2 676,89.2 679,86.0 682,85.6 685,86.9 688,86.8 691,86.5 694,85.8 697,83.8 700,81.6 703,78.5 706,76.7 709,75.7 712,76.1 715,76.3 718,75.6 721,76.0 724,75.6"/><polyline points="403,97 405,108 407,117 409,122 411,124 414,121 417,114 420,105 423,99 426,96"/><polyline points="403,95 407,101 411,103 416,101 421,96"/><polyline points="478,96 483,105 487,125 492,150 497,175 501,189 504,200 507,207 511,190 515,160 518,140"/><polyline points="482,95 488,110 493,140 497,165 500,180 503,190 507,175 512,150 517,130"/><polyline points="490,97 495,120 500,150 504,175 508,195 512,205 516,190 520,170"/><polyline points="596,97 600,120 604,160 607,178 610,165 615,130 620,100"/><polyline points="620,98 625,130 630,180 634,150 640,110 645,98"/><polyline points="638,97 645,120 650,153 655,130 661,100"/><polyline points="602,98 610,112 615,125 620,118 626,100"/><polyline points="668,97 677,130 686,164 692,140 700,110 706,99"/><polyline points="660,99 668,115 675,125 681,118 688,102"/><polyline points="690,97 700,110 710,120 717,118 724,112"/><polyline points="695,100 705,124 712,130 718,120 724,105"/><polyline points="660,75 680,64 700,50 710,44 716,40 720,55 722,70 724,88"/><polyline points="665,76 685,66 700,55 708,50 714,56 720,70 724,85"/><polyline points="670,78 690,60 702,53 712,58 718,68 724,80"/><polyline points="675,78 692,66 705,60 715,62 724,74"/><polyline points="560,76 570,68 580,62 595,60 610,58 620,62 630,70 640,76"/><polyline points="565,78 575,70 590,66 605,64 620,68 635,75"/><polyline points="486,74 494,60 500,55 505,54 510,58 514,70 518,82"/><polyline points="480,74 490,62 498,57 504,58 510,62 515,74"/></g><line x1="403" y1="89" x2="724" y2="89" stroke="#fff" stroke-width="2.2" stroke-dasharray="3.3 3.4"/><text x="0.74" y="297.60" font-size="23.48" fill="#1a1a1a" stroke="#1a1a1a" stroke-width="0.15" textLength="16.33" lengthAdjust="spacingAndGlyphs" >B</text><text x="37.76" y="297.90" font-size="18.20" fill="#1a1a1a" stroke="#1a1a1a" stroke-width="0.15" textLength="21.14" lengthAdjust="spacingAndGlyphs" >no</text><text x="32.38" y="318.80" font-size="18.20" fill="#1a1a1a" stroke="#1a1a1a" stroke-width="0.15" textLength="34.29" lengthAdjust="spacingAndGlyphs" >light</text><text x="100.27" y="297.90" font-size="18.20" fill="#1a1a1a" stroke="#1a1a1a" stroke-width="0.15" >32</text><text x="157.48" y="297.90" font-size="18.20" fill="#1a1a1a" stroke="#1a1a1a" stroke-width="0.15" textLength="20.49" lengthAdjust="spacingAndGlyphs" >76</text><text x="209.53" y="297.90" font-size="18.20" fill="#1a1a1a" stroke="#1a1a1a" stroke-width="0.15" >150</text><text x="273.16" y="297.90" font-size="18.20" fill="#1a1a1a" stroke="#1a1a1a" stroke-width="0.15" textLength="31.24" lengthAdjust="spacingAndGlyphs" >299</text><text x="166.86" y="320.10" font-size="16.83" fill="#1a1a1a" stroke="#1a1a1a" stroke-width="0.15" textLength="71.10" lengthAdjust="spacingAndGlyphs" >mW/mm</text><text x="237.91" y="310.50" font-size="9.20" fill="#1a1a1a" textLength="5.50" lengthAdjust="spacingAndGlyphs" >2</text><text x="2.37" y="375.60" font-size="15.22" fill="#1a1a1a" stroke="#1a1a1a" stroke-width="0.15" textLength="28.27" lengthAdjust="spacingAndGlyphs" >LFP</text><polygon points="31.299999999999997,346.8 36.5,346.8 33.9,358.3" fill="#333"/><rect x="87" y="355.5" width="42.7" height="5.5" fill="#999"/><polygon points="88.7,346.8 93.89999999999999,346.8 91.3,358.3" fill="#333"/><rect x="148.7" y="355.5" width="43.4" height="5.5" fill="#999"/><polygon points="151.0,346.8 156.2,346.8 153.6,358.3" fill="#333"/><rect x="209" y="355.5" width="43.4" height="5.5" fill="#999"/><polygon points="211.20000000000002,346.8 216.4,346.8 213.8,358.3" fill="#333"/><rect x="271.4" y="355.5" width="42.8" height="5.5" fill="#999"/><polygon points="272.79999999999995,346.8 278.0,346.8 275.4,358.3" fill="#333"/><line x1="19.4" y1="388.6" x2="71.7" y2="388.6" stroke="#333" stroke-width="1.8" stroke-dasharray="1.9 3.5"/><line x1="78.3" y1="388.6" x2="127.5" y2="388.6" stroke="#333" stroke-width="1.8" stroke-dasharray="1.9 3.5"/><line x1="139.4" y1="388.6" x2="191.6" y2="388.6" stroke="#333" stroke-width="1.8" stroke-dasharray="1.9 3.5"/><line x1="199.1" y1="388.6" x2="250" y2="388.6" stroke="#333" stroke-width="1.8" stroke-dasharray="1.9 3.5"/><line x1="262.4" y1="388.6" x2="313" y2="388.6" stroke="#333" stroke-width="1.8" stroke-dasharray="1.9 3.5"/><path d="M20.4 380.8 L25.4 378.9 L29.8 377.2 L33.7 376.1 L36.3 374.1 L37.5 378 L38.5 389.4 L39.8 401.6 L41.1 409.4 L42.9 414.2 L45.5 417.2 L47.6 415.9 L49.4 408.5 L51.6 396.3 L53.3 388.5 L55 384.1 L57.6 382.8 L60.3 380.2 L63.3 382.4 L65.9 384.6 L68.1 387.2 L71.1 386.8" fill="none" stroke="#111" stroke-width="2.6" stroke-linejoin="round"/><g fill="none" stroke="#a3a3a3" stroke-width="2.1" stroke-linejoin="round" stroke-linecap="round"><path d="M78.3 380.8 L81.7 379.7 L86.1 378.6 L87.2 375.5 L88.9 371.1 L90.5 369.8 L92.7 369.4 L94.4 368.0 L95.5 376.6 L96.3 393.3 L97.2 413.2 L98.3 432.1 L99.4 444.3 L100.5 447.6 L102.2 442.1 L103.3 428.8 L104.7 411.0 L106.4 396.6 L108.3 387.7 L110.5 382.2 L112.2 380.5 L113.8 383.3 L115.5 380.5 L117.7 377.5 L119.9 380.5 L122.1 382.7 L124.4 382.2 L126.0 380.8 L127.7 382.7 L129.3 384.6"/><path d="M140.1 382.5 L143.7 383.8 L146.3 381.8 L148.6 380.3 L149.9 372.8 L151.4 368.7 L154.0 368.0 L155.9 369.0 L157.2 376.7 L158.1 392.1 L159.1 417.8 L160.4 447.4 L161.7 464.1 L163.0 457.6 L164.5 434.5 L166.5 411.4 L168.8 390.8 L170.7 379.3 L173.3 373.5 L175.2 372.8 L178.4 376.7 L180.7 375.4 L183.5 379.3 L186.1 384.4 L188.0 387.6 L190.6 386.3"/><path d="M200.2 381.7 L204.4 380.3 L208.9 379.6 L210.0 368.4 L211.7 366.3 L214.2 367.7 L216.3 369.1 L217.0 376.8 L217.7 390.8 L218.7 416.1 L220.1 446.9 L221.5 469.4 L222.2 474.7 L223.3 466.5 L224.7 438.5 L226.1 413.3 L228.0 392.2 L230.3 381.0 L232.5 379.6 L235.3 376.1 L238.1 378.2 L240.9 378.2 L244.4 381.7 L247.9 379.6 L251.4 383.8"/><path d="M263.1 381.3 L267.3 379.6 L271.6 378.7 L272.9 370.3 L274.4 365.2 L276.6 367.7 L279.2 372.0 L280.0 382.1 L280.9 399.1 L282.1 431.3 L283.4 470.3 L284.6 491.4 L286.0 473.6 L287.2 436.4 L288.8 405.8 L291.1 385.5 L293.6 376.2 L297.0 375.0 L302.1 374.0 L304.6 376.2 L307.2 381.3 L309.7 380.4 L313.9 385.2"/></g><line x1="295.7" y1="393" x2="295.7" y2="489" stroke="#333" stroke-width="1.3"/><polygon points="293.2,395.8 298.2,395.8 295.7,389.3" fill="#333"/><polygon points="293.2,486.3 298.2,486.3 295.7,492.8" fill="#333"/><text transform="translate(312.80,494.49) rotate(-90)" x="0" y="0" font-size="14.30" fill="#1a1a1a" stroke="#1a1a1a" stroke-width="0.15" textLength="103.52" lengthAdjust="spacingAndGlyphs">peak amplitude</text><path d="M33.1 487.9 H75.1 V457.9" fill="none" stroke="#111" stroke-width="3.4"/><text x="21.49" y="462.90" font-size="14.29" fill="#1a1a1a" stroke="#1a1a1a" stroke-width="0.15" textLength="48.33" lengthAdjust="spacingAndGlyphs" >0.5 mV</text><text x="18.07" y="480.60" font-size="14.71" fill="#1a1a1a" stroke="#1a1a1a" stroke-width="0.15" textLength="49.35" lengthAdjust="spacingAndGlyphs" >100 ms</text><text x="344.88" y="297.50" font-size="25.00" fill="#1a1a1a" stroke="#1a1a1a" stroke-width="0.15" textLength="17.65" lengthAdjust="spacingAndGlyphs" >C</text><text x="389.66" y="307.80" font-size="18.07" fill="#1a1a1a" stroke="#1a1a1a" stroke-width="0.15" textLength="128.94" lengthAdjust="spacingAndGlyphs" >peak amplitude</text><text x="352.13" y="343.20" font-size="14.00" fill="#1a1a1a" stroke="#1a1a1a" stroke-width="0.15" textLength="22.62" lengthAdjust="spacingAndGlyphs" >(%)</text><g stroke="#808080" stroke-width="1.5" fill="none"><path d="M381.5 357.0 V462.3 H544.5"/><path d="M379 462.3 H381.5"/><path d="M379 441.2 H381.5"/><path d="M379 420.2 H381.5"/><path d="M379 399.1 H381.5"/><path d="M379 378.1 H381.5"/><path d="M379 357.0 H381.5"/><path d="M381.5 462.3 V465.1"/><path d="M422.2 462.3 V465.1"/><path d="M462.9 462.3 V465.1"/><path d="M503.6 462.3 V465.1"/><path d="M544.3 462.3 V465.1"/></g><text x="366.59" y="467.30" font-size="14.00" fill="#1a1a1a" stroke="#1a1a1a" stroke-width="0.15">0</text><text x="351.05" y="446.24" font-size="14.00" fill="#1a1a1a" stroke="#1a1a1a" stroke-width="0.15">100</text><text x="351.05" y="425.18" font-size="14.00" fill="#1a1a1a" stroke="#1a1a1a" stroke-width="0.15">200</text><text x="351.05" y="404.12" font-size="14.00" fill="#1a1a1a" stroke="#1a1a1a" stroke-width="0.15">300</text><text x="351.05" y="383.06" font-size="14.00" fill="#1a1a1a" stroke="#1a1a1a" stroke-width="0.15">400</text><text x="351.05" y="362.00" font-size="14.00" fill="#1a1a1a" stroke="#1a1a1a" stroke-width="0.15">500</text><rect x="393.9" y="415" width="15.8" height="47.3" fill="#999"/><path d="M401.8 415 V407.5 M400.2 408.1 h3.2" stroke="#666" stroke-width="1.3"/><rect x="434" y="402.3" width="16.0" height="60.0" fill="#999"/><path d="M442.0 402.3 V393.2 M440.4 393.8 h3.2" stroke="#666" stroke-width="1.3"/><rect x="475" y="396.3" width="16.0" height="66.0" fill="#999"/><path d="M483.0 396.3 V387.2 M481.4 387.8 h3.2" stroke="#666" stroke-width="1.3"/><rect x="515.6" y="382.5" width="15.7" height="79.8" fill="#999"/><path d="M523.5 382.5 V370.2 M521.9 370.8 h3.2" stroke="#666" stroke-width="1.3"/><line x1="384" y1="441.5" x2="537" y2="441.5" stroke="#222" stroke-width="2" stroke-dasharray="5.7 4.3"/><text x="393.47" y="408.72" font-size="23.14" fill="#1a1a1a" stroke="#1a1a1a" stroke-width="0.15" textLength="20.61" lengthAdjust="spacingAndGlyphs" >**</text><text x="432.68" y="395.93" font-size="22.29" fill="#1a1a1a" stroke="#1a1a1a" stroke-width="0.15" textLength="20.09" lengthAdjust="spacingAndGlyphs" >**</text><text x="469.28" y="388.92" font-size="23.43" fill="#1a1a1a" stroke="#1a1a1a" stroke-width="0.15" textLength="30.06" lengthAdjust="spacingAndGlyphs" >***</text><text x="509.38" y="371.92" font-size="23.43" fill="#1a1a1a" stroke="#1a1a1a" stroke-width="0.15" textLength="30.58" lengthAdjust="spacingAndGlyphs" >***</text><text x="390.64" y="487.30" font-size="19.00" fill="#1a1a1a" stroke="#1a1a1a" stroke-width="0.15" >32</text><text x="431.64" y="487.30" font-size="19.00" fill="#1a1a1a" stroke="#1a1a1a" stroke-width="0.15" >76</text><text x="468.16" y="487.30" font-size="19.00" fill="#1a1a1a" stroke="#1a1a1a" stroke-width="0.15" textLength="29.71" lengthAdjust="spacingAndGlyphs" >150</text><text x="510.60" y="487.30" font-size="19.00" fill="#1a1a1a" stroke="#1a1a1a" stroke-width="0.15" textLength="30.18" lengthAdjust="spacingAndGlyphs" >299</text><text x="426.05" y="515.40" font-size="14.48" fill="#1a1a1a" stroke="#1a1a1a" stroke-width="0.15" textLength="71.41" lengthAdjust="spacingAndGlyphs" >mW/mm</text><text x="496.82" y="506.40" font-size="8.80" fill="#1a1a1a" textLength="5.38" lengthAdjust="spacingAndGlyphs" >2</text><text x="593.44" y="303.00" font-size="17.93" fill="#1a1a1a" stroke="#1a1a1a" stroke-width="0.15" textLength="132.52" lengthAdjust="spacingAndGlyphs" >duration at 50%</text><text x="595.66" y="324.40" font-size="17.52" fill="#1a1a1a" stroke="#1a1a1a" stroke-width="0.15" textLength="129.14" lengthAdjust="spacingAndGlyphs" >peak amplitude</text><text x="555.84" y="345.00" font-size="14.00" fill="#1a1a1a" stroke="#1a1a1a" stroke-width="0.15" textLength="22.40" lengthAdjust="spacingAndGlyphs" >(%)</text><g stroke="#808080" stroke-width="1.5" fill="none"><path d="M583.7 358.4 V463.5 H747"/><path d="M581.2 463.5 H583.7"/><path d="M581.2 410.9 H583.7"/><path d="M581.2 358.4 H583.7"/><path d="M583.7 463.5 V466.3"/><path d="M623.4 463.5 V466.3"/><path d="M664 463.5 V466.3"/><path d="M704.5 463.5 V466.3"/></g><text x="567.89" y="468.20" font-size="14.00" fill="#1a1a1a" stroke="#1a1a1a" stroke-width="0.15">0</text><text x="560.12" y="415.65" font-size="14.00" fill="#1a1a1a" stroke="#1a1a1a" stroke-width="0.15">50</text><text x="552.35" y="363.10" font-size="14.00" fill="#1a1a1a" stroke="#1a1a1a" stroke-width="0.15">100</text><rect x="595.4" y="373.3" width="15.3" height="90.2" fill="#999"/><path d="M603.0 373.3 V363.5 M601.4 364.1 h3.2" stroke="#666" stroke-width="1.3"/><rect x="635.6" y="384.6" width="16.2" height="78.9" fill="#999"/><path d="M643.7 384.6 V376 M642.1 376.6 h3.2" stroke="#666" stroke-width="1.3"/><rect x="676.2" y="390.6" width="16.2" height="72.9" fill="#999"/><path d="M684.3 390.6 V382 M682.7 382.6 h3.2" stroke="#666" stroke-width="1.3"/><rect x="716.7" y="390" width="16.2" height="73.5" fill="#999"/><path d="M724.8 390 V382.7 M723.2 383.3 h3.2" stroke="#666" stroke-width="1.3"/><line x1="584.2" y1="358.5" x2="747" y2="358.5" stroke="#222" stroke-width="2" stroke-dasharray="5.7 6"/><text x="641.03" y="381.42" font-size="23.14" fill="#1a1a1a" stroke="#1a1a1a" stroke-width="0.15" textLength="9.12" lengthAdjust="spacingAndGlyphs" >*</text><text x="674.69" y="387.63" font-size="22.29" fill="#1a1a1a" stroke="#1a1a1a" stroke-width="0.15" textLength="19.98" lengthAdjust="spacingAndGlyphs" >**</text><text x="715.79" y="387.63" font-size="22.29" fill="#1a1a1a" stroke="#1a1a1a" stroke-width="0.15" textLength="19.98" lengthAdjust="spacingAndGlyphs" >**</text><text x="593.25" y="488.60" font-size="19.00" fill="#1a1a1a" stroke="#1a1a1a" stroke-width="0.15" textLength="20.83" lengthAdjust="spacingAndGlyphs" >32</text><text x="633.53" y="488.60" font-size="19.00" fill="#1a1a1a" stroke="#1a1a1a" stroke-width="0.15" textLength="21.59" lengthAdjust="spacingAndGlyphs" >76</text><text x="671.02" y="488.60" font-size="19.00" fill="#1a1a1a" stroke="#1a1a1a" stroke-width="0.15" textLength="30.79" lengthAdjust="spacingAndGlyphs" >150</text><text x="712.54" y="488.60" font-size="19.00" fill="#1a1a1a" stroke="#1a1a1a" stroke-width="0.15" >299</text><text x="630.02" y="515.40" font-size="14.48" fill="#1a1a1a" stroke="#1a1a1a" stroke-width="0.15" textLength="73.28" lengthAdjust="spacingAndGlyphs" >mW/mm</text><text x="702.42" y="506.40" font-size="8.80" fill="#1a1a1a" textLength="5.38" lengthAdjust="spacingAndGlyphs" >2</text><text x="0.47" y="560.50" font-size="24.78" fill="#1a1a1a" stroke="#1a1a1a" stroke-width="0.15" textLength="29.25" lengthAdjust="spacingAndGlyphs" >D1</text><text x="50.16" y="591.30" font-size="21.29" fill="#1a1a1a" stroke="#1a1a1a" stroke-width="0.15" textLength="36.19" lengthAdjust="spacingAndGlyphs" >x10</text><text x="86.76" y="579.90" font-size="9.60" fill="#1a1a1a" textLength="6.05" lengthAdjust="spacingAndGlyphs" >6</text><g stroke="#808080" stroke-width="1.9" fill="none"><path d="M61.7 606.0 V812.6 H336.7"/><path d="M58.5 812.6 H61.7"/><path d="M58.5 760.9 H61.7"/><path d="M58.5 709.3 H61.7"/><path d="M58.5 657.6 H61.7"/><path d="M58.5 606.0 H61.7"/><path d="M61.7 812.6 V815.9"/><path d="M130.2 812.6 V815.9"/><path d="M198.7 812.6 V815.9"/><path d="M267.2 812.6 V815.9"/><path d="M335.7 812.6 V815.9"/></g><text x="39.37" y="822.90" font-size="22.20" fill="#1a1a1a" stroke="#1a1a1a" stroke-width="0.15">0</text><text x="39.59" y="771.24" font-size="22.20" fill="#1a1a1a" stroke="#1a1a1a" stroke-width="0.15">2</text><text x="39.15" y="719.58" font-size="22.20" fill="#1a1a1a" stroke="#1a1a1a" stroke-width="0.15">4</text><text x="39.48" y="667.92" font-size="22.20" fill="#1a1a1a" stroke="#1a1a1a" stroke-width="0.15">6</text><text x="39.37" y="616.26" font-size="22.20" fill="#1a1a1a" stroke="#1a1a1a" stroke-width="0.15">8</text><text x="54.32" y="842.50" font-size="21.30" fill="#1a1a1a" stroke="#1a1a1a" stroke-width="0.15" textLength="12.18" lengthAdjust="spacingAndGlyphs" >0</text><text x="115.17" y="842.50" font-size="21.30" fill="#1a1a1a" stroke="#1a1a1a" stroke-width="0.15" textLength="25.08" lengthAdjust="spacingAndGlyphs" >20</text><text x="183.74" y="842.50" font-size="21.30" fill="#1a1a1a" stroke="#1a1a1a" stroke-width="0.15" textLength="25.01" lengthAdjust="spacingAndGlyphs" >40</text><text x="252.79" y="842.50" font-size="21.30" fill="#1a1a1a" stroke="#1a1a1a" stroke-width="0.15" textLength="24.76" lengthAdjust="spacingAndGlyphs" >60</text><text x="321.71" y="842.50" font-size="21.30" fill="#1a1a1a" stroke="#1a1a1a" stroke-width="0.15" textLength="24.42" lengthAdjust="spacingAndGlyphs" >80</text><text x="351.08" y="842.50" font-size="21.30" fill="#1a1a1a" stroke="#1a1a1a" stroke-width="0.15" textLength="29.38" lengthAdjust="spacingAndGlyphs" >Hz</text><polyline points="61.7,802.3 96.0,642.1 130.2,657.6 164.4,720.9 198.7,771.8 232.9,789.9 267.2,798.4 301.4,804.3 335.7,807.4" fill="none" stroke="#a0a0a0" stroke-width="3.8" stroke-linejoin="miter"/><polyline points="61.7,806.9 96.0,728.1 130.2,763.5 164.4,794.0 198.7,805.6 232.9,807.7 267.2,809.8 301.4,810.5 335.7,811.1" fill="none" stroke="#111" stroke-width="3.8" stroke-linejoin="miter"/><text x="111.89" y="642.00" font-size="15.86" fill="#1a1a1a" stroke="#1a1a1a" stroke-width="0.15" textLength="106.47" lengthAdjust="spacingAndGlyphs" >150 mW/mm</text><text x="218.08" y="633.70" font-size="10.20" fill="#1a1a1a" stroke="#1a1a1a" stroke-width="0.15" textLength="5.75" lengthAdjust="spacingAndGlyphs" >2</text><text x="92.16" y="761.80" font-size="17.80" fill="#1a1a1a" stroke="#1a1a1a" stroke-width="0.15" textLength="21.25" lengthAdjust="spacingAndGlyphs" >no</text><text x="87.00" y="782.60" font-size="17.80" fill="#1a1a1a" stroke="#1a1a1a" stroke-width="0.15" textLength="33.88" lengthAdjust="spacingAndGlyphs" >light</text><text transform="translate(20.30,784.61) rotate(-90)" x="0" y="0" font-size="22.30" fill="#1a1a1a" stroke="#1a1a1a" stroke-width="0.15" textLength="151.13" lengthAdjust="spacingAndGlyphs">FFT power (μV</text><text transform="translate(9.00,632.08) rotate(-90)" x="0" y="0" font-size="12.00" fill="#1a1a1a" stroke="#1a1a1a" stroke-width="0.15" textLength="5.38" lengthAdjust="spacingAndGlyphs">2</text><text transform="translate(20.30,623.92) rotate(-90)" x="0" y="0" font-size="22.30" fill="#1a1a1a" stroke="#1a1a1a" stroke-width="0.15">)</text><text x="363.30" y="560.30" font-size="23.86" fill="#1a1a1a" stroke="#1a1a1a" stroke-width="0.15" textLength="31.93" lengthAdjust="spacingAndGlyphs" >D2</text><text x="464.56" y="595.30" font-size="22.43" fill="#1a1a1a" stroke="#1a1a1a" stroke-width="0.15" >x10</text><text x="501.72" y="583.70" font-size="10.60" fill="#1a1a1a" stroke="#1a1a1a" stroke-width="0.15" textLength="5.32" lengthAdjust="spacingAndGlyphs" >6</text><g stroke="#808080" stroke-width="1.9" fill="none"><path d="M481.5 608.8 V814.6 H727.9"/><path d="M477.1 814.6 H481.5"/><path d="M477.1 773.4 H481.5"/><path d="M477.1 732.3 H481.5"/><path d="M477.1 691.1 H481.5"/><path d="M477.1 650.0 H481.5"/><path d="M477.1 608.8 H481.5"/><path d="M481.5 814.6 V818.1"/><path d="M604.2 814.6 V818.1"/><path d="M727.9 814.6 V818.1"/></g><text x="458.36" y="822.60" font-size="22.40" fill="#1a1a1a" stroke="#1a1a1a" stroke-width="0.15">0</text><text x="458.36" y="781.44" font-size="22.40" fill="#1a1a1a" stroke="#1a1a1a" stroke-width="0.15">5</text><text x="445.93" y="740.28" font-size="22.40" fill="#1a1a1a" stroke="#1a1a1a" stroke-width="0.15">10</text><text x="445.93" y="699.12" font-size="22.40" fill="#1a1a1a" stroke="#1a1a1a" stroke-width="0.15">15</text><text x="445.93" y="657.96" font-size="22.40" fill="#1a1a1a" stroke="#1a1a1a" stroke-width="0.15">20</text><text x="445.93" y="616.80" font-size="22.40" fill="#1a1a1a" stroke="#1a1a1a" stroke-width="0.15">25</text><rect x="518.7" y="761" width="49.2" height="53.6" fill="#1c1c1c"/><rect x="641.8" y="649.7" width="50" height="164.9" fill="#999"/><path d="M544.2 761 V743.5 M542 743.9 h4.4" stroke="#555" stroke-width="1.4"/><path d="M666.6 649.7 V615.2 M664.4 615.6 h4.4" stroke="#555" stroke-width="1.4"/><rect x="543" y="605.8" width="116" height="4.1" fill="#1a1a1a"/><text x="583.43" y="606.18" font-size="27.43" fill="#1a1a1a" stroke="#1a1a1a" stroke-width="0.15" textLength="38.95" lengthAdjust="spacingAndGlyphs" >***</text><text x="533.02" y="805.00" font-size="18.14" fill="#fff" stroke="#fff" stroke-width="0.15" textLength="20.45" lengthAdjust="spacingAndGlyphs" >13</text><text x="658.67" y="805.00" font-size="17.86" fill="#eee" stroke="#eee" stroke-width="0.15" >13</text><text x="504.81" y="842.80" font-size="21.24" fill="#1a1a1a" stroke="#1a1a1a" stroke-width="0.15" textLength="73.81" lengthAdjust="spacingAndGlyphs" >no light</text><text x="597.98" y="843.00" font-size="21.10" fill="#1a1a1a" stroke="#1a1a1a" stroke-width="0.15" textLength="129.75" lengthAdjust="spacingAndGlyphs" >150 mW/mm</text><text x="728.31" y="832.60" font-size="10.60" fill="#1a1a1a" stroke="#1a1a1a" stroke-width="0.15" textLength="5.50" lengthAdjust="spacingAndGlyphs" >2</text><text transform="translate(428.70,853.78) rotate(-90)" x="0" y="0" font-size="22.30" fill="#1a1a1a" stroke="#1a1a1a" stroke-width="0.15" textLength="294.81" lengthAdjust="spacingAndGlyphs">summation of FFT power (μV</text><text transform="translate(417.20,558.04) rotate(-90)" x="0" y="0" font-size="12.00" fill="#1a1a1a" stroke="#1a1a1a" stroke-width="0.15" textLength="4.89" lengthAdjust="spacingAndGlyphs">2</text><text transform="translate(428.70,550.82) rotate(-90)" x="0" y="0" font-size="22.30" fill="#1a1a1a" stroke="#1a1a1a" stroke-width="0.15">)</text></svg>
</body></html>
